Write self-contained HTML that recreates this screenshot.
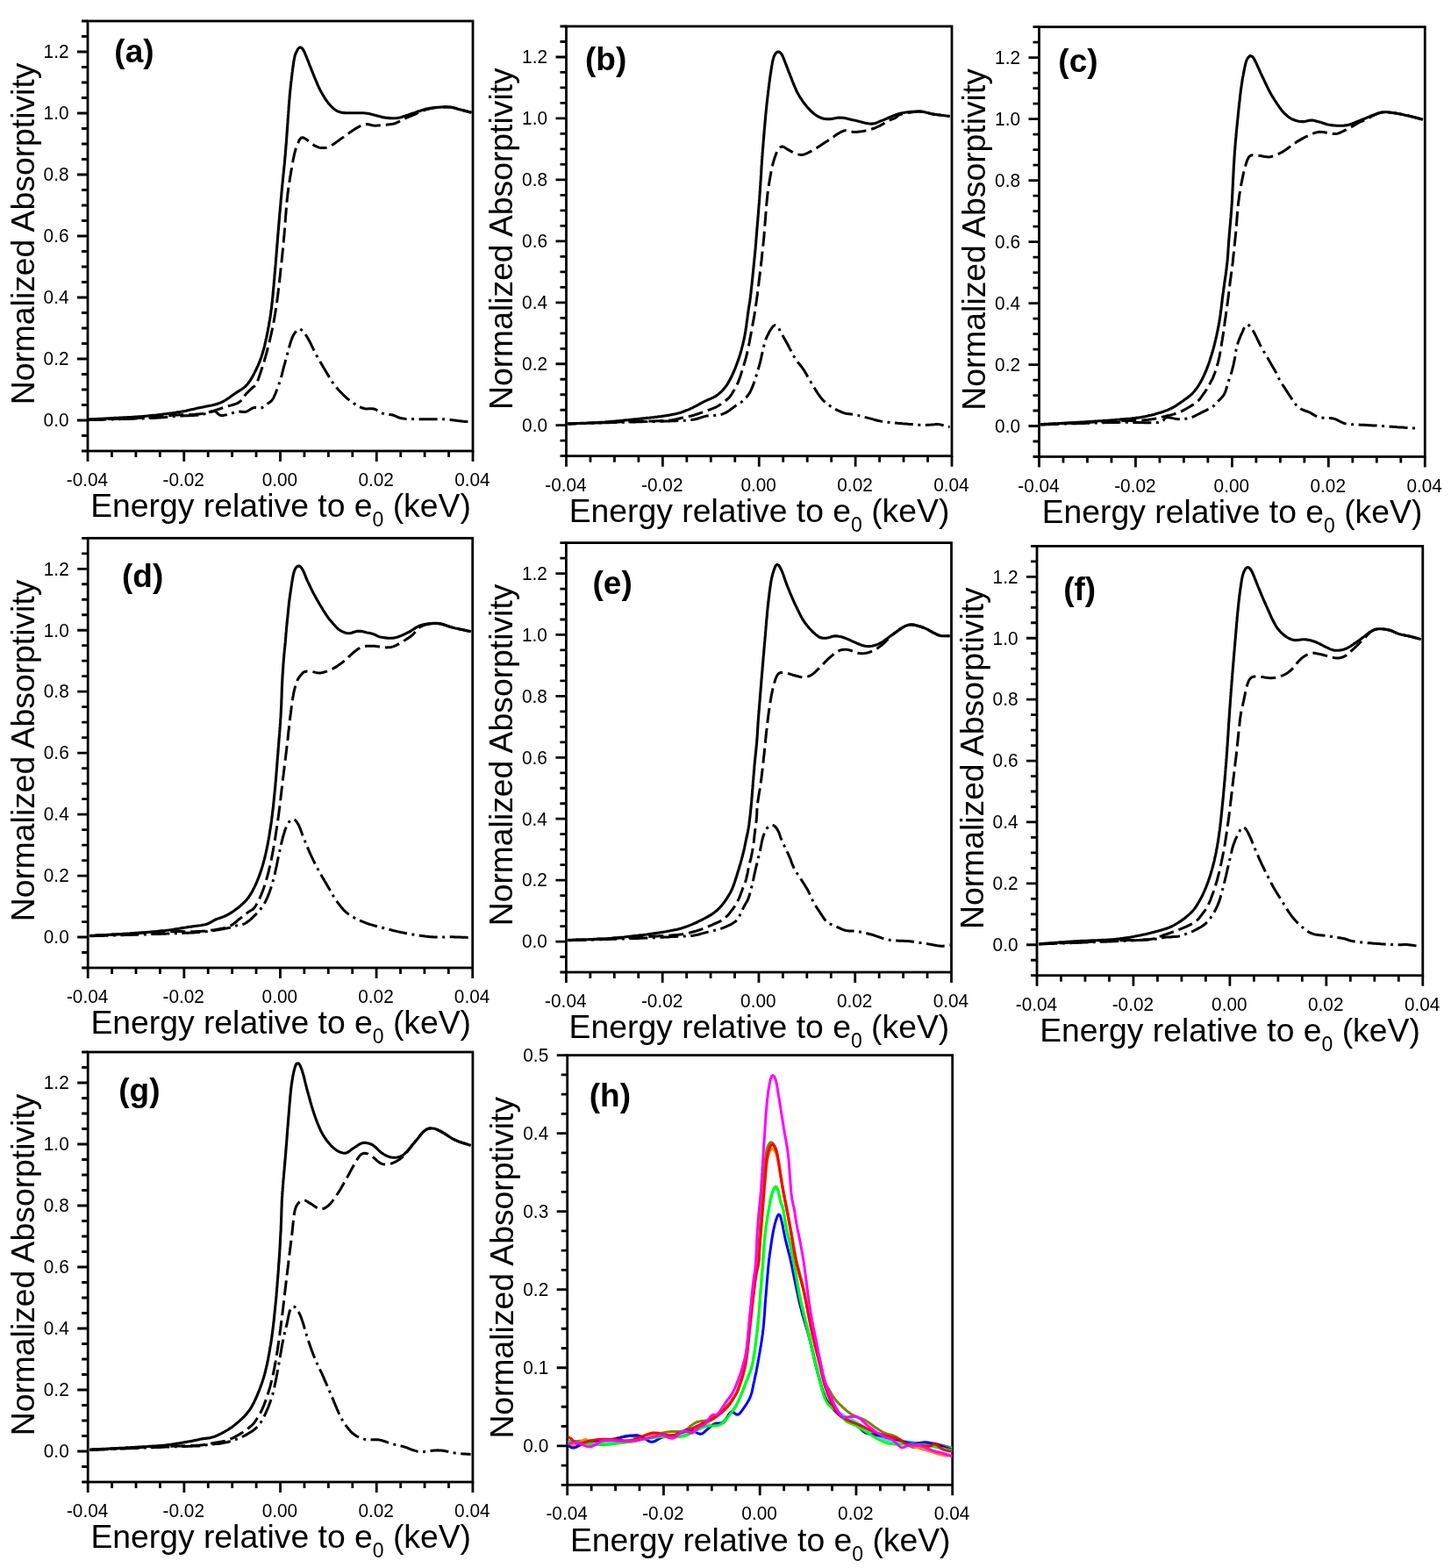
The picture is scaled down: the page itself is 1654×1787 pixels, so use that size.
<!DOCTYPE html>
<html><head><meta charset="utf-8"><title>Normalized Absorptivity</title>
<style>
html,body{margin:0;padding:0;background:#fff;}
svg{display:block;}
.t{font-family:"Liberation Sans", Arial, sans-serif;font-size:20.8px;fill:#000;}
.at{font-family:"Liberation Sans", Arial, sans-serif;font-size:37.3px;fill:#000;}
.sub{font-size:23px;}
.pl{font-family:"Liberation Sans", Arial, sans-serif;font-size:37px;font-weight:bold;fill:#000;}
</style></head><body>
<svg width="1654" height="1787" viewBox="0 0 1654 1787">
<rect width="1654" height="1787" fill="#fff"/>
<g id="pa"><rect x="100" y="24" width="439" height="490" fill="none" stroke="#000" stroke-width="2.8"/>
<path d="M100 514h-7M100 496.5h-7M100 479h-12M100 461.5h-7M100 444h-7M100 426.5h-7M100 409h-12M100 391.5h-7M100 374h-7M100 356.5h-7M100 339h-12M100 321.5h-7M100 304h-7M100 286.5h-7M100 269h-12M100 251.5h-7M100 234h-7M100 216.5h-7M100 199h-12M100 181.5h-7M100 164h-7M100 146.5h-7M100 129h-12M100 111.5h-7M100 94h-7M100 76.5h-7M100 59h-12M100 41.5h-7M100 24h-7M100 514v12M127.44 514v7M154.88 514v7M182.31 514v7M209.75 514v12M237.19 514v7M264.62 514v7M292.06 514v7M319.5 514v12M346.94 514v7M374.38 514v7M401.81 514v7M429.25 514v12M456.69 514v7M484.13 514v7M511.56 514v7M539 514v12" stroke="#000" stroke-width="2.8" fill="none"/>
<text transform="translate(78.5 486.3) scale(1 1.08)" text-anchor="end" class="t">0.0</text>
<text transform="translate(78.5 416.3) scale(1 1.08)" text-anchor="end" class="t">0.2</text>
<text transform="translate(78.5 346.3) scale(1 1.08)" text-anchor="end" class="t">0.4</text>
<text transform="translate(78.5 276.3) scale(1 1.08)" text-anchor="end" class="t">0.6</text>
<text transform="translate(78.5 206.3) scale(1 1.08)" text-anchor="end" class="t">0.8</text>
<text transform="translate(78.5 136.3) scale(1 1.08)" text-anchor="end" class="t">1.0</text>
<text transform="translate(78.5 66.3) scale(1 1.08)" text-anchor="end" class="t">1.2</text>
<text transform="translate(99.4 554.1) scale(1 1.07)" text-anchor="middle" class="t">-0.04</text>
<text transform="translate(209.15 554.1) scale(1 1.07)" text-anchor="middle" class="t">-0.02</text>
<text transform="translate(318.9 554.1) scale(1 1.07)" text-anchor="middle" class="t">0.00</text>
<text transform="translate(428.65 554.1) scale(1 1.07)" text-anchor="middle" class="t">0.02</text>
<text transform="translate(538.4 554.1) scale(1 1.07)" text-anchor="middle" class="t">0.04</text>
<text x="103.2" y="589.3" class="at">Energy relative to e<tspan class="sub" dy="11">0</tspan><tspan dy="-11"> (keV)</tspan></text>
<text transform="translate(38.6 461.3) rotate(-90)" class="at">Normalized Absorptivity</text>
<text x="130.35" y="71.4" class="pl">(a)</text>
<path d="M100.4 478.7 102.4 478.6 104.4 478.6 106.4 478.5 108.4 478.5 110.4 478.4 112.4 478.3 114.4 478.3 116.4 478.2 118.4 478.2 120.4 478.1 122.4 478.1 124.4 478.0 126.4 477.9 128.4 477.9 130.4 477.8 132.4 477.8 134.4 477.7 136.4 477.7 138.4 477.6 140.4 477.6 142.4 477.5 144.4 477.4 146.4 477.4 148.4 477.3 150.4 477.3 152.4 477.2 154.4 477.1 156.4 477.1 158.4 477.0 160.4 477.0 162.4 476.9 164.4 476.8 166.4 476.7 168.4 476.7 170.4 476.6 172.4 476.5 174.4 476.4 176.4 476.3 178.4 476.2 180.4 476.1 182.4 476.0 184.4 475.8 186.4 475.7 188.4 475.5 190.4 475.3 192.4 475.1 194.4 474.9 196.4 474.7 198.4 474.5 200.4 474.4 202.4 474.3 204.4 474.1 206.4 474.0 208.4 473.9 210.4 473.8 212.4 473.8 214.4 473.7 216.4 473.6 218.4 473.5 220.4 473.4 222.4 473.3 224.4 473.2 226.4 473.0 228.4 472.8 230.3 472.5 232.3 472.1 234.2 471.4 236.1 470.8 238.0 470.2 239.9 469.5 241.8 468.9 243.8 468.6 245.7 468.9 247.2 470.2 248.6 471.7 250.1 472.9 252.0 473.5 254.0 473.5 256.0 473.1 258.0 472.7 259.9 472.2 261.8 471.6 263.7 471.1 265.7 470.5 267.6 470.0 269.5 469.5 271.5 469.2 273.5 469.1 275.5 469.3 277.5 469.6 279.5 469.5 281.4 468.9 283.1 468.0 284.8 466.9 286.5 465.8 288.3 464.9 290.2 464.4 292.2 464.5 294.2 464.9 296.2 465.2 298.1 464.9 299.9 463.9 301.5 462.8 303.1 461.6 304.7 460.3 306.4 459.2 308.0 458.1 309.5 456.8 310.7 455.2 311.8 453.5 312.6 451.7 313.4 449.9 314.2 448.0 314.9 446.1 315.6 444.3 316.3 442.4 317.0 440.5 317.7 438.6 318.3 436.7 319.0 434.8 319.6 432.9 320.2 431.0 320.7 429.1 321.3 427.1 321.8 425.2 322.2 423.3 322.7 421.3 323.2 419.4 323.7 417.4 324.3 415.5 324.8 413.6 325.3 411.6 325.8 409.7 326.4 407.8 326.9 405.8 327.4 403.9 327.9 402.0 328.4 400.0 329.0 398.1 329.5 396.2 330.1 394.3 330.6 392.3 331.2 390.4 331.8 388.5 332.5 386.6 333.2 384.7 334.0 382.9 334.9 381.2 336.1 379.5 337.3 377.9 338.5 376.3 340.0 375.1 342.0 375.0 343.7 376.0 345.1 377.4 346.4 378.9 347.6 380.5 348.8 382.1 349.9 383.8 350.9 385.5 351.9 387.3 352.9 389.0 353.8 390.8 354.7 392.6 355.5 394.4 356.4 396.2 357.2 398.0 358.1 399.8 359.0 401.6 359.9 403.4 360.9 405.2 361.9 406.9 362.8 408.7 363.8 410.4 364.8 412.1 365.9 413.9 366.9 415.6 367.9 417.3 368.9 419.0 370.0 420.7 371.0 422.5 372.0 424.2 373.0 425.9 374.0 427.6 375.1 429.4 376.1 431.1 377.1 432.8 378.2 434.5 379.3 436.2 380.4 437.8 381.6 439.4 382.9 440.9 384.2 442.5 385.5 444.0 386.9 445.5 388.3 446.9 389.7 448.3 391.1 449.7 392.5 451.1 394.0 452.5 395.5 453.8 397.0 455.1 398.6 456.3 400.2 457.6 401.8 458.7 403.5 459.9 405.2 460.9 406.9 462.0 408.6 462.9 410.4 463.8 412.2 464.7 414.1 465.3 416.1 465.7 418.1 465.9 420.1 465.8 422.1 465.7 424.1 465.7 426.1 466.0 428.0 466.7 429.8 467.5 431.5 468.5 433.2 469.6 435.0 470.5 436.8 471.3 438.7 471.9 440.7 472.2 442.7 472.4 444.7 472.6 446.7 472.8 448.6 473.3 450.5 474.0 452.3 474.8 454.1 475.7 456.0 476.3 458.0 476.8 460.0 477.1 461.9 477.3 463.9 477.4 465.9 477.5 467.9 477.6 469.9 477.6 471.9 477.7 474.0 477.7 476.0 477.7 478.0 477.7 480.0 477.7 482.0 477.8 484.0 477.8 486.0 477.8 488.0 477.8 490.0 477.8 492.0 477.8 494.0 477.8 496.0 477.8 498.0 477.7 500.0 477.7 502.0 477.7 504.0 477.7 506.0 477.7 508.0 477.8 510.0 477.9 512.0 478.1 514.0 478.4 515.9 478.7 517.9 479.0 519.9 479.3 521.9 479.6 523.9 479.8 525.9 480.0 527.9 480.2 529.9 480.4 531.9 480.6 533.8 480.8 535.8 481.0" fill="none" stroke="#000" stroke-width="3.0" stroke-dasharray="21 5.5 3 5.5" stroke-linejoin="round"/>
<path d="M100.4 478.5 102.4 478.4 104.4 478.3 106.4 478.3 108.4 478.2 110.4 478.1 112.4 478.0 114.4 478.0 116.4 477.9 118.4 477.8 120.4 477.8 122.4 477.7 124.4 477.6 126.4 477.6 128.4 477.5 130.4 477.4 132.4 477.4 134.4 477.3 136.4 477.2 138.4 477.1 140.4 477.1 142.4 477.0 144.4 476.9 146.4 476.8 148.4 476.8 150.4 476.7 152.4 476.6 154.4 476.5 156.4 476.4 158.4 476.3 160.4 476.2 162.4 476.1 164.3 476.0 166.3 475.9 168.3 475.8 170.3 475.7 172.3 475.5 174.3 475.4 176.3 475.2 178.3 475.1 180.3 474.9 182.3 474.7 184.3 474.5 186.3 474.3 188.3 474.1 190.3 473.9 192.3 473.7 194.3 473.5 196.2 473.3 198.2 473.2 200.2 473.0 202.2 472.9 204.2 472.7 206.2 472.7 208.2 472.6 210.2 472.6 212.2 472.5 214.2 472.5 216.2 472.5 218.2 472.4 220.2 472.4 222.2 472.3 224.2 472.1 226.2 472.0 228.2 471.7 230.2 471.5 232.2 471.1 234.1 470.7 236.1 470.2 238.0 469.8 239.9 469.2 241.9 468.7 243.8 468.1 245.7 467.5 247.6 466.9 249.5 466.3 251.4 465.6 253.3 465.0 255.2 464.4 257.1 463.8 259.0 463.2 260.9 462.6 262.8 462.1 264.8 461.5 266.7 461.0 268.6 460.3 270.5 459.6 272.2 458.6 273.8 457.5 275.3 456.1 276.5 454.5 277.6 452.8 278.7 451.2 280.0 449.6 281.3 448.1 282.7 446.7 284.1 445.3 285.6 443.9 287.0 442.5 288.5 441.2 290.2 440.1 291.6 438.8 292.5 437.0 293.3 435.1 294.0 433.3 294.7 431.4 295.3 429.5 296.0 427.6 296.6 425.7 297.3 423.8 297.9 421.9 298.5 420.0 299.1 418.1 299.7 416.2 300.3 414.3 300.9 412.4 301.5 410.4 302.0 408.5 302.6 406.6 303.1 404.7 303.7 402.7 304.2 400.8 304.7 398.9 305.2 396.9 305.7 395.0 306.2 393.1 306.7 391.1 307.2 389.2 307.6 387.2 308.1 385.3 308.5 383.3 309.0 381.4 309.4 379.4 309.8 377.5 310.3 375.5 310.7 373.6 311.1 371.6 311.4 369.6 311.8 367.7 312.2 365.7 312.5 363.7 312.9 361.8 313.2 359.8 313.6 357.8 313.9 355.8 314.2 353.9 314.5 351.9 314.8 349.9 315.1 347.9 315.4 346.0 315.7 344.0 315.9 342.0 316.2 340.0 316.5 338.0 316.7 336.0 317.0 334.1 317.2 332.1 317.4 330.1 317.7 328.1 317.9 326.1 318.1 324.1 318.4 322.1 318.6 320.1 318.8 318.2 319.0 316.2 319.3 314.2 319.5 312.2 319.7 310.2 319.9 308.2 320.1 306.2 320.3 304.2 320.6 302.2 320.8 300.3 321.0 298.3 321.2 296.3 321.4 294.3 321.6 292.3 321.8 290.3 322.0 288.3 322.2 286.3 322.4 284.3 322.6 282.3 322.8 280.3 323.0 278.4 323.2 276.4 323.3 274.4 323.5 272.4 323.7 270.4 323.9 268.4 324.1 266.4 324.2 264.4 324.4 262.4 324.6 260.4 324.7 258.4 324.9 256.4 325.0 254.4 325.2 252.4 325.3 250.4 325.5 248.4 325.6 246.4 325.8 244.5 326.0 242.5 326.1 240.5 326.3 238.5 326.4 236.5 326.6 234.5 326.8 232.5 327.0 230.5 327.1 228.5 327.3 226.5 327.6 224.5 327.8 222.5 328.0 220.5 328.3 218.6 328.5 216.6 328.8 214.6 329.1 212.6 329.4 210.6 329.7 208.7 330.0 206.7 330.3 204.7 330.6 202.7 330.9 200.7 331.3 198.8 331.6 196.8 331.9 194.8 332.3 192.9 332.6 190.9 333.0 188.9 333.3 186.9 333.7 185.0 334.0 183.0 334.4 181.0 334.8 179.1 335.2 177.1 335.7 175.2 336.1 173.2 336.7 171.3 337.2 169.4 337.9 167.5 338.6 165.6 339.3 163.8 340.2 161.9 341.0 160.1 342.0 158.4 343.3 156.9 345.2 156.7 347.0 157.5 348.7 158.6 350.3 159.7 351.9 161.0 353.5 162.2 355.1 163.4 356.7 164.6 358.3 165.8 360.1 166.7 361.9 167.5 363.8 168.1 365.8 168.5 367.8 168.6 369.8 168.5 371.8 168.2 373.7 167.7 375.5 167.0 377.3 166.1 379.0 165.0 380.7 163.9 382.4 162.8 384.0 161.6 385.6 160.4 387.2 159.3 388.8 158.1 390.5 157.0 392.1 155.8 393.8 154.7 395.4 153.5 397.0 152.3 398.6 151.1 400.3 150.0 401.9 148.8 403.6 147.7 405.2 146.6 407.0 145.6 408.7 144.7 410.5 143.7 412.3 142.9 414.2 142.2 416.1 141.8 418.1 141.6 420.1 141.8 422.1 142.3 424.0 142.8 426.0 143.1 428.0 143.2 430.0 143.1 432.0 142.9 434.0 142.7 435.9 142.5 437.9 142.3 439.9 142.2 441.9 142.0 443.9 141.8 445.9 141.6 447.9 141.3 449.8 140.8 451.7 140.1 453.5 139.2 455.3 138.3 457.0 137.3 458.8 136.3 460.6 135.4 462.4 134.6 464.2 133.8 466.1 133.0 467.9 132.3 469.8 131.6 471.6 130.8 473.5 130.0 475.3 129.2 477.1 128.4 478.9 127.6 480.8 126.8 482.6 126.0 484.5 125.4 486.4 124.7 488.4 124.2 490.3 123.8 492.3 123.4 494.2 123.1 496.2 122.8 498.2 122.6 500.2 122.4 502.2 122.2 504.2 122.1 506.2 122.0 508.2 122.0 510.2 122.0 512.2 122.1 514.2 122.3 516.2 122.6 518.1 123.1 520.0 123.6 522.0 124.2 523.9 124.7 525.8 125.2 527.8 125.7 529.7 126.2 531.6 126.7 533.6 127.2 535.5 127.7 537.4 128.2" fill="none" stroke="#000" stroke-width="3.0" stroke-dasharray="17 6" stroke-linejoin="round"/>
<path d="M100.4 478.0 102.4 477.9 104.4 477.8 106.4 477.7 108.4 477.6 110.4 477.5 112.4 477.4 114.4 477.3 116.4 477.2 118.4 477.1 120.4 477.0 122.4 476.9 124.4 476.8 126.4 476.6 128.4 476.5 130.4 476.4 132.4 476.3 134.4 476.2 136.4 476.1 138.4 476.0 140.4 475.9 142.4 475.8 144.4 475.7 146.4 475.6 148.4 475.5 150.3 475.4 152.3 475.2 154.3 475.1 156.3 475.0 158.3 474.8 160.3 474.7 162.3 474.5 164.3 474.4 166.3 474.2 168.3 474.0 170.3 473.8 172.3 473.6 174.3 473.4 176.3 473.2 178.3 473.0 180.3 472.7 182.3 472.5 184.2 472.3 186.2 472.0 188.2 471.8 190.2 471.6 192.2 471.3 194.2 471.0 196.2 470.8 198.1 470.5 200.1 470.2 202.1 469.9 204.1 469.6 206.1 469.3 208.0 468.9 210.0 468.6 212.0 468.2 213.9 467.7 215.9 467.3 217.8 466.8 219.8 466.4 221.7 466.0 223.7 465.5 225.6 465.1 227.6 464.7 229.6 464.3 231.5 463.9 233.5 463.5 235.5 463.1 237.4 462.7 239.4 462.3 241.3 461.9 243.3 461.4 245.2 460.9 247.1 460.4 249.0 459.8 250.9 459.1 252.8 458.3 254.6 457.4 256.3 456.5 258.1 455.4 259.7 454.3 261.4 453.2 263.0 452.0 264.6 450.8 266.2 449.7 267.9 448.5 269.5 447.4 271.2 446.3 272.9 445.3 274.6 444.2 276.3 443.1 277.9 441.9 279.4 440.6 280.8 439.2 282.2 437.7 283.5 436.1 284.6 434.5 285.7 432.8 286.7 431.1 287.7 429.4 288.7 427.6 289.6 425.9 290.5 424.1 291.4 422.3 292.3 420.5 293.1 418.7 294.0 416.8 294.8 415.0 295.5 413.2 296.3 411.3 297.0 409.4 297.7 407.5 298.3 405.6 298.9 403.7 299.5 401.8 300.0 399.9 300.6 398.0 301.1 396.0 301.6 394.1 302.0 392.1 302.5 390.2 302.9 388.2 303.3 386.3 303.8 384.3 304.2 382.4 304.6 380.4 305.0 378.4 305.4 376.5 305.7 374.5 306.1 372.5 306.5 370.6 306.8 368.6 307.1 366.6 307.5 364.6 307.8 362.7 308.1 360.7 308.4 358.7 308.7 356.7 308.9 354.7 309.2 352.8 309.5 350.8 309.7 348.8 309.9 346.8 310.2 344.8 310.4 342.8 310.6 340.8 310.8 338.8 311.0 336.8 311.2 334.8 311.3 332.9 311.5 330.9 311.7 328.9 311.9 326.9 312.1 324.9 312.2 322.9 312.4 320.9 312.6 318.9 312.8 316.9 312.9 314.9 313.1 312.9 313.3 310.9 313.5 308.9 313.6 306.9 313.8 304.9 314.0 302.9 314.2 300.9 314.3 298.9 314.5 296.9 314.6 295.0 314.8 293.0 315.0 291.0 315.1 289.0 315.3 287.0 315.4 285.0 315.6 283.0 315.8 281.0 315.9 279.0 316.1 277.0 316.3 275.0 316.4 273.0 316.6 271.0 316.7 269.0 316.9 267.0 317.1 265.0 317.2 263.0 317.4 261.0 317.6 259.0 317.7 257.0 317.9 255.0 318.1 253.0 318.2 251.1 318.4 249.1 318.6 247.1 318.7 245.1 318.9 243.1 319.1 241.1 319.3 239.1 319.4 237.1 319.6 235.1 319.8 233.1 320.0 231.1 320.1 229.1 320.3 227.1 320.5 225.1 320.7 223.1 320.9 221.1 321.0 219.1 321.2 217.1 321.4 215.2 321.6 213.2 321.8 211.2 322.0 209.2 322.2 207.2 322.4 205.2 322.6 203.2 322.8 201.2 323.0 199.2 323.2 197.2 323.4 195.2 323.6 193.2 323.8 191.2 324.0 189.2 324.2 187.3 324.4 185.3 324.6 183.3 324.7 181.3 324.9 179.3 325.1 177.3 325.3 175.3 325.4 173.3 325.6 171.3 325.8 169.3 325.9 167.3 326.1 165.3 326.3 163.3 326.4 161.3 326.6 159.3 326.7 157.3 326.8 155.3 327.0 153.3 327.1 151.3 327.3 149.3 327.4 147.3 327.5 145.3 327.7 143.3 327.8 141.4 328.0 139.4 328.1 137.4 328.2 135.4 328.4 133.4 328.5 131.4 328.7 129.4 328.8 127.4 329.0 125.4 329.1 123.4 329.2 121.4 329.4 119.4 329.6 117.4 329.7 115.4 329.9 113.4 330.1 111.4 330.2 109.4 330.4 107.4 330.6 105.4 330.8 103.4 331.0 101.4 331.2 99.4 331.4 97.4 331.6 95.5 331.8 93.5 332.1 91.5 332.3 89.5 332.5 87.5 332.8 85.5 333.0 83.5 333.3 81.5 333.5 79.6 333.8 77.6 334.1 75.6 334.3 73.6 334.6 71.6 334.9 69.6 335.3 67.7 335.7 65.7 336.1 63.8 336.7 61.8 337.5 60.0 338.4 58.2 339.3 56.4 340.5 54.8 342.2 53.9 344.0 54.7 345.3 56.2 346.3 57.9 347.2 59.7 347.9 61.6 348.7 63.4 349.5 65.3 350.2 67.1 351.0 69.0 351.7 70.8 352.4 72.7 353.1 74.6 353.9 76.4 354.6 78.3 355.3 80.2 356.1 82.0 356.8 83.9 357.6 85.7 358.3 87.6 359.1 89.4 359.9 91.3 360.7 93.1 361.4 95.0 362.2 96.8 363.0 98.6 363.9 100.5 364.8 102.3 365.7 104.0 366.7 105.8 367.7 107.5 368.7 109.2 369.7 110.9 370.8 112.6 371.9 114.3 373.1 115.9 374.3 117.5 375.6 119.1 376.9 120.6 378.3 122.0 379.8 123.3 381.3 124.6 383.0 125.8 384.7 126.7 386.6 127.4 388.5 128.0 390.5 128.4 392.5 128.6 394.5 128.8 396.5 128.8 398.5 128.8 400.5 128.8 402.5 128.8 404.5 128.8 406.5 128.7 408.5 128.7 410.5 128.7 412.5 128.7 414.5 128.8 416.5 129.0 418.5 129.2 420.4 129.6 422.4 130.0 424.3 130.5 426.3 131.0 428.2 131.5 430.1 132.1 432.1 132.6 434.0 133.1 436.0 133.6 437.9 133.9 439.9 134.2 441.9 134.4 443.9 134.6 445.9 134.8 447.9 134.8 449.9 134.7 451.9 134.6 453.9 134.3 455.8 133.9 457.8 133.4 459.7 132.8 461.6 132.2 463.5 131.5 465.4 130.9 467.3 130.2 469.2 129.6 471.1 129.0 473.0 128.4 474.8 127.7 476.7 127.0 478.6 126.4 480.5 125.8 482.4 125.2 484.4 124.6 486.3 124.1 488.3 123.7 490.2 123.3 492.2 123.0 494.2 122.7 496.2 122.5 498.2 122.3 500.2 122.2 502.2 122.1 504.2 122.0 506.2 121.9 508.2 121.9 510.2 122.0 512.2 122.1 514.2 122.3 516.1 122.6 518.1 123.1 520.0 123.6 521.9 124.2 523.9 124.7 525.8 125.2 527.8 125.7 529.7 126.2 531.6 126.7 533.6 127.2 535.5 127.7 537.4 128.2" fill="none" stroke="#000" stroke-width="3.1" stroke-linejoin="round"/></g>
<g id="pb"><rect x="645.5" y="30" width="439.5" height="489.7" fill="none" stroke="#000" stroke-width="2.8"/>
<path d="M645.5 519.7h-7M645.5 502.21h-7M645.5 484.72h-12M645.5 467.23h-7M645.5 449.74h-7M645.5 432.25h-7M645.5 414.76h-12M645.5 397.28h-7M645.5 379.79h-7M645.5 362.3h-7M645.5 344.81h-12M645.5 327.32h-7M645.5 309.83h-7M645.5 292.34h-7M645.5 274.85h-12M645.5 257.36h-7M645.5 239.87h-7M645.5 222.38h-7M645.5 204.89h-12M645.5 187.4h-7M645.5 169.91h-7M645.5 152.43h-7M645.5 134.94h-12M645.5 117.45h-7M645.5 99.96h-7M645.5 82.47h-7M645.5 64.98h-12M645.5 47.49h-7M645.5 30h-7M645.5 519.7v12M672.97 519.7v7M700.44 519.7v7M727.91 519.7v7M755.38 519.7v12M782.84 519.7v7M810.31 519.7v7M837.78 519.7v7M865.25 519.7v12M892.72 519.7v7M920.19 519.7v7M947.66 519.7v7M975.12 519.7v12M1002.59 519.7v7M1030.06 519.7v7M1057.53 519.7v7M1085 519.7v12" stroke="#000" stroke-width="2.8" fill="none"/>
<text transform="translate(624 492.02) scale(1 1.08)" text-anchor="end" class="t">0.0</text>
<text transform="translate(624 422.06) scale(1 1.08)" text-anchor="end" class="t">0.2</text>
<text transform="translate(624 352.11) scale(1 1.08)" text-anchor="end" class="t">0.4</text>
<text transform="translate(624 282.15) scale(1 1.08)" text-anchor="end" class="t">0.6</text>
<text transform="translate(624 212.19) scale(1 1.08)" text-anchor="end" class="t">0.8</text>
<text transform="translate(624 142.24) scale(1 1.08)" text-anchor="end" class="t">1.0</text>
<text transform="translate(624 72.28) scale(1 1.08)" text-anchor="end" class="t">1.2</text>
<text transform="translate(644.9 559.8) scale(1 1.07)" text-anchor="middle" class="t">-0.04</text>
<text transform="translate(754.77 559.8) scale(1 1.07)" text-anchor="middle" class="t">-0.02</text>
<text transform="translate(864.65 559.8) scale(1 1.07)" text-anchor="middle" class="t">0.00</text>
<text transform="translate(974.52 559.8) scale(1 1.07)" text-anchor="middle" class="t">0.02</text>
<text transform="translate(1084.4 559.8) scale(1 1.07)" text-anchor="middle" class="t">0.04</text>
<text x="648.7" y="595" class="at">Energy relative to e<tspan class="sub" dy="11">0</tspan><tspan dy="-11"> (keV)</tspan></text>
<text transform="translate(584.1 467) rotate(-90)" class="at">Normalized Absorptivity</text>
<text x="667.05" y="80.1" class="pl">(b)</text>
<path d="M647.4 483.0 649.4 482.9 651.4 482.9 653.4 482.8 655.4 482.8 657.4 482.7 659.4 482.6 661.4 482.6 663.4 482.5 665.4 482.5 667.4 482.4 669.4 482.4 671.4 482.3 673.4 482.2 675.4 482.2 677.4 482.1 679.4 482.1 681.4 482.0 683.4 482.0 685.4 481.9 687.4 481.8 689.4 481.8 691.5 481.7 693.5 481.7 695.5 481.6 697.5 481.6 699.5 481.5 701.5 481.4 703.5 481.4 705.5 481.3 707.5 481.3 709.5 481.2 711.5 481.2 713.5 481.1 715.5 481.1 717.5 481.0 719.5 480.9 721.5 480.9 723.5 480.9 725.5 480.8 727.5 480.8 729.5 480.7 731.5 480.7 733.5 480.6 735.5 480.6 737.5 480.6 739.6 480.5 741.6 480.5 743.6 480.4 745.6 480.4 747.6 480.4 749.6 480.3 751.6 480.3 753.6 480.2 755.6 480.2 757.6 480.1 759.6 480.0 761.6 480.0 763.6 479.9 765.6 479.8 767.6 479.8 769.6 479.7 771.6 479.6 773.6 479.6 775.6 479.5 777.6 479.4 779.6 479.3 781.6 479.2 783.6 479.0 785.6 478.8 787.6 478.6 789.6 478.3 791.6 478.0 793.5 477.5 795.5 477.0 797.4 476.4 799.3 475.8 801.2 475.1 803.1 474.6 805.1 474.1 807.0 473.9 809.0 473.7 811.0 473.6 813.1 473.6 815.1 473.4 817.0 473.2 819.0 473.0 821.0 472.6 823.0 472.1 824.8 471.4 826.6 470.6 828.4 469.6 830.1 468.6 831.8 467.5 833.4 466.3 835.0 465.1 836.6 463.9 838.2 462.7 839.8 461.5 841.5 460.4 843.3 459.4 845.0 458.3 846.6 457.1 848.0 455.8 849.4 454.3 850.7 452.8 852.0 451.3 853.2 449.6 854.3 448.0 855.3 446.2 856.2 444.4 857.0 442.6 857.8 440.7 858.5 438.9 859.2 437.0 859.9 435.1 860.5 433.2 861.1 431.3 861.7 429.4 862.3 427.5 862.9 425.6 863.5 423.6 864.0 421.7 864.6 419.8 865.1 417.9 865.7 415.9 866.2 414.0 866.7 412.1 867.1 410.1 867.6 408.1 868.0 406.2 868.5 404.2 868.9 402.3 869.3 400.3 869.8 398.4 870.2 396.4 870.7 394.5 871.2 392.5 871.7 390.6 872.3 388.7 872.9 386.8 873.7 384.9 874.5 383.1 875.4 381.3 876.3 379.5 877.2 377.7 878.3 376.0 879.4 374.3 880.6 372.7 881.9 371.3 883.7 370.5 885.5 371.3 886.8 372.8 887.9 374.5 888.8 376.3 889.7 378.1 890.6 379.8 891.6 381.6 892.6 383.3 893.6 385.1 894.6 386.8 895.6 388.5 896.6 390.3 897.5 392.0 898.5 393.8 899.4 395.6 900.3 397.4 901.3 399.1 902.2 400.9 903.1 402.7 904.1 404.4 905.1 406.2 906.1 407.9 907.2 409.6 908.3 411.3 909.5 412.9 910.8 414.4 912.1 416.0 913.3 417.5 914.5 419.1 915.7 420.8 916.8 422.4 917.8 424.2 918.9 425.9 919.8 427.6 920.8 429.4 921.8 431.1 922.8 432.9 923.8 434.6 924.8 436.4 925.8 438.1 926.8 439.8 927.9 441.5 929.0 443.2 930.0 444.9 931.1 446.6 932.2 448.3 933.3 449.9 934.5 451.5 935.7 453.1 937.0 454.7 938.3 456.2 939.7 457.6 941.2 458.9 942.8 460.2 944.4 461.4 946.0 462.5 947.7 463.6 949.4 464.7 951.2 465.7 952.9 466.7 954.7 467.6 956.5 468.4 958.3 469.2 960.2 470.0 962.1 470.6 964.0 471.2 966.0 471.6 968.0 471.8 970.0 472.0 972.0 472.2 974.0 472.6 975.9 473.0 977.9 473.4 979.8 473.9 981.8 474.4 983.7 474.9 985.6 475.4 987.6 475.9 989.5 476.4 991.5 476.9 993.4 477.4 995.3 477.9 997.3 478.5 999.2 479.0 1001.1 479.5 1003.1 479.9 1005.1 480.3 1007.1 480.6 1009.0 480.9 1011.0 481.1 1013.0 481.3 1015.0 481.5 1017.0 481.7 1019.0 481.9 1021.0 482.1 1023.0 482.3 1025.0 482.4 1027.0 482.6 1029.0 482.8 1031.0 482.9 1033.0 483.1 1035.0 483.3 1037.0 483.4 1039.0 483.6 1041.0 483.8 1043.0 483.9 1045.0 484.0 1047.0 484.2 1049.0 484.3 1051.0 484.3 1053.0 484.4 1055.0 484.4 1057.0 484.3 1059.0 484.2 1061.0 484.1 1063.0 483.9 1065.0 483.8 1067.0 483.6 1069.0 483.6 1071.0 483.7 1073.0 484.1 1074.9 484.7 1076.7 485.5 1078.7 486.1 1080.6 486.3 1082.6 486.5" fill="none" stroke="#000" stroke-width="3.0" stroke-dasharray="21 5.5 3 5.5" stroke-linejoin="round"/>
<path d="M647.4 483.0 649.4 482.9 651.4 482.8 653.4 482.8 655.4 482.7 657.4 482.6 659.4 482.6 661.4 482.5 663.4 482.4 665.4 482.3 667.4 482.3 669.4 482.2 671.4 482.1 673.4 482.1 675.4 482.0 677.4 481.9 679.4 481.8 681.4 481.8 683.4 481.7 685.4 481.6 687.4 481.6 689.4 481.5 691.4 481.4 693.4 481.3 695.4 481.3 697.4 481.2 699.4 481.1 701.4 481.1 703.4 481.0 705.4 480.9 707.4 480.8 709.4 480.8 711.4 480.7 713.4 480.6 715.4 480.6 717.4 480.5 719.4 480.4 721.4 480.4 723.4 480.3 725.4 480.3 727.4 480.2 729.4 480.2 731.4 480.1 733.4 480.1 735.4 480.1 737.4 480.0 739.4 480.0 741.4 479.9 743.4 479.9 745.4 479.9 747.4 479.8 749.4 479.8 751.4 479.7 753.4 479.6 755.4 479.5 757.4 479.4 759.4 479.3 761.4 479.2 763.4 479.0 765.4 478.8 767.4 478.5 769.3 478.1 771.3 477.8 773.3 477.3 775.2 476.8 777.1 476.3 779.1 475.8 781.0 475.4 783.0 475.0 785.0 474.6 786.9 474.2 788.9 473.7 790.8 473.2 792.7 472.6 794.6 472.0 796.5 471.3 798.4 470.6 800.3 470.0 802.1 469.3 804.0 468.6 805.9 467.9 807.8 467.3 809.7 466.6 811.6 465.9 813.4 465.2 815.3 464.4 817.1 463.5 818.8 462.5 820.5 461.4 822.1 460.3 823.7 459.1 825.3 457.9 826.9 456.7 828.5 455.5 830.0 454.2 831.4 452.7 832.7 451.1 833.8 449.5 834.9 447.8 835.9 446.1 836.9 444.4 837.9 442.6 838.9 440.9 839.8 439.1 840.6 437.3 841.5 435.5 842.2 433.6 842.9 431.7 843.6 429.8 844.2 427.9 844.8 426.0 845.4 424.1 846.0 422.2 846.6 420.3 847.2 418.4 847.8 416.5 848.3 414.5 848.9 412.6 849.5 410.7 850.0 408.8 850.6 406.9 851.0 404.9 851.5 403.0 851.9 401.0 852.4 399.1 852.8 397.1 853.2 395.1 853.6 393.2 854.0 391.2 854.4 389.2 854.7 387.3 855.1 385.3 855.5 383.3 855.9 381.4 856.2 379.4 856.6 377.4 857.0 375.5 857.3 373.5 857.7 371.5 858.0 369.6 858.4 367.6 858.7 365.6 859.1 363.7 859.4 361.7 859.8 359.7 860.1 357.7 860.4 355.8 860.7 353.8 861.0 351.8 861.3 349.8 861.6 347.8 861.9 345.9 862.2 343.9 862.5 341.9 862.7 339.9 863.0 337.9 863.3 335.9 863.5 334.0 863.8 332.0 864.0 330.0 864.3 328.0 864.5 326.0 864.8 324.0 865.0 322.0 865.2 320.1 865.5 318.1 865.7 316.1 866.0 314.1 866.2 312.1 866.4 310.1 866.7 308.1 866.9 306.1 867.1 304.2 867.4 302.2 867.6 300.2 867.8 298.2 868.1 296.2 868.3 294.2 868.5 292.2 868.7 290.2 868.9 288.2 869.2 286.2 869.4 284.3 869.6 282.3 869.8 280.3 870.0 278.3 870.2 276.3 870.4 274.3 870.6 272.3 870.8 270.3 871.0 268.3 871.1 266.3 871.3 264.3 871.5 262.3 871.6 260.3 871.8 258.3 871.9 256.3 872.1 254.4 872.2 252.4 872.4 250.4 872.5 248.4 872.7 246.4 872.8 244.4 873.0 242.4 873.1 240.4 873.3 238.4 873.4 236.4 873.6 234.4 873.8 232.4 874.0 230.4 874.2 228.4 874.4 226.4 874.6 224.4 874.8 222.4 875.0 220.5 875.3 218.5 875.6 216.5 875.9 214.5 876.2 212.5 876.5 210.5 876.8 208.6 877.1 206.6 877.4 204.6 877.8 202.6 878.1 200.7 878.5 198.7 878.8 196.7 879.2 194.8 879.6 192.8 880.0 190.8 880.5 188.9 880.9 187.0 881.5 185.0 882.0 183.1 882.6 181.2 883.2 179.3 883.9 177.4 884.6 175.5 885.4 173.7 886.2 171.8 887.2 170.1 888.5 168.6 890.0 167.4 892.0 167.0 893.8 167.7 895.5 168.7 897.2 169.9 898.9 170.9 900.7 171.9 902.4 172.8 904.2 173.7 906.0 174.5 907.9 175.3 909.8 175.9 911.7 176.3 913.7 176.4 915.7 176.2 917.6 175.6 919.5 174.9 921.3 174.0 923.1 173.1 924.9 172.2 926.6 171.2 928.4 170.2 930.1 169.2 931.8 168.1 933.4 167.0 935.1 165.9 936.8 164.8 938.4 163.7 940.1 162.6 941.8 161.5 943.5 160.4 945.1 159.3 946.8 158.2 948.4 157.0 950.1 155.9 951.7 154.8 953.4 153.6 955.1 152.5 956.8 151.5 958.5 150.5 960.3 149.6 962.2 149.0 964.2 148.6 966.1 148.7 968.1 149.1 970.0 149.7 971.9 150.2 973.9 150.4 975.9 150.4 977.9 150.3 979.9 150.0 981.9 149.8 983.9 149.5 985.9 149.1 987.8 148.7 989.8 148.3 991.7 147.8 993.6 147.2 995.5 146.5 997.4 145.8 999.2 145.0 1001.1 144.2 1002.9 143.4 1004.6 142.4 1006.4 141.4 1008.1 140.3 1009.8 139.3 1011.5 138.3 1013.3 137.4 1015.1 136.6 1017.0 135.9 1018.9 135.2 1020.7 134.3 1022.3 133.2 1023.7 131.8 1025.5 130.8 1027.4 130.2 1029.3 129.8 1031.3 129.3 1033.2 128.9 1035.2 128.6 1037.2 128.2 1039.1 127.9 1041.1 127.6 1043.1 127.4 1045.1 127.2 1047.1 127.0 1049.1 127.0 1051.1 127.2 1053.1 127.5 1055.0 127.9 1057.0 128.4 1058.9 128.9 1060.8 129.5 1062.8 129.9 1064.8 130.2 1066.7 130.5 1068.7 130.8 1070.7 131.0 1072.7 131.3 1074.7 131.5 1076.7 131.7 1078.7 132.0 1080.7 132.2 1082.6 132.5" fill="none" stroke="#000" stroke-width="3.0" stroke-dasharray="17 6" stroke-linejoin="round"/>
<path d="M647.4 482.9 649.4 482.8 651.4 482.7 653.4 482.7 655.4 482.6 657.4 482.5 659.4 482.5 661.4 482.4 663.4 482.3 665.4 482.3 667.4 482.2 669.4 482.1 671.4 482.0 673.4 482.0 675.4 481.9 677.4 481.8 679.4 481.7 681.4 481.6 683.4 481.4 685.4 481.3 687.4 481.2 689.4 481.1 691.4 480.9 693.3 480.8 695.3 480.6 697.3 480.4 699.3 480.3 701.3 480.1 703.3 479.9 705.3 479.7 707.3 479.5 709.3 479.3 711.3 479.1 713.3 478.9 715.3 478.7 717.3 478.5 719.3 478.3 721.2 478.1 723.2 477.9 725.2 477.7 727.2 477.5 729.2 477.3 731.2 477.1 733.2 476.9 735.2 476.7 737.2 476.4 739.2 476.2 741.1 476.0 743.1 475.8 745.1 475.6 747.1 475.3 749.1 475.1 751.1 474.8 753.1 474.6 755.1 474.3 757.0 474.0 759.0 473.7 761.0 473.4 763.0 473.1 764.9 472.7 766.9 472.3 768.9 471.9 770.8 471.5 772.8 471.0 774.7 470.5 776.6 469.9 778.5 469.2 780.4 468.5 782.2 467.8 784.1 467.1 785.9 466.3 787.8 465.4 789.6 464.6 791.3 463.7 793.1 462.8 794.9 461.8 796.7 460.9 798.4 459.9 800.2 459.0 802.0 458.0 803.7 457.1 805.5 456.3 807.4 455.4 809.2 454.7 811.1 453.9 812.9 453.1 814.7 452.2 816.4 451.1 818.0 449.9 819.5 448.7 821.0 447.4 822.5 446.0 823.9 444.6 825.2 443.1 826.5 441.5 827.7 439.9 828.8 438.3 829.9 436.6 830.9 434.9 831.9 433.1 832.8 431.3 833.7 429.5 834.6 427.7 835.4 425.9 836.2 424.1 837.0 422.2 837.8 420.4 838.5 418.5 839.2 416.7 839.9 414.8 840.6 412.9 841.3 411.0 842.0 409.1 842.6 407.2 843.2 405.3 843.8 403.4 844.3 401.5 844.9 399.6 845.4 397.6 845.9 395.7 846.4 393.8 846.9 391.8 847.3 389.9 847.8 387.9 848.2 386.0 848.6 384.0 849.0 382.0 849.3 380.1 849.7 378.1 850.0 376.1 850.3 374.1 850.6 372.2 850.9 370.2 851.1 368.2 851.4 366.2 851.7 364.2 852.0 362.2 852.2 360.3 852.5 358.3 852.8 356.3 853.0 354.3 853.3 352.3 853.6 350.3 853.9 348.4 854.2 346.4 854.6 344.4 854.9 342.4 855.1 340.5 855.4 338.5 855.6 336.5 855.9 334.5 856.1 332.5 856.3 330.5 856.5 328.5 856.7 326.5 857.0 324.5 857.2 322.6 857.4 320.6 857.6 318.6 857.8 316.6 858.0 314.6 858.2 312.6 858.4 310.6 858.6 308.6 858.8 306.6 859.0 304.6 859.2 302.6 859.4 300.7 859.6 298.7 859.8 296.7 860.0 294.7 860.2 292.7 860.4 290.7 860.6 288.7 860.8 286.7 861.0 284.7 861.2 282.7 861.3 280.7 861.5 278.7 861.7 276.7 861.8 274.7 862.0 272.8 862.1 270.8 862.3 268.8 862.5 266.8 862.6 264.8 862.8 262.8 862.9 260.8 863.1 258.8 863.3 256.8 863.4 254.8 863.6 252.8 863.8 250.8 863.9 248.8 864.1 246.8 864.3 244.8 864.4 242.8 864.6 240.8 864.7 238.8 864.9 236.8 865.0 234.8 865.2 232.8 865.4 230.9 865.5 228.9 865.7 226.9 865.8 224.9 865.9 222.9 866.1 220.9 866.2 218.9 866.4 216.9 866.5 214.9 866.6 212.9 866.8 210.9 866.9 208.9 867.0 206.9 867.2 204.9 867.3 202.9 867.4 200.9 867.6 198.9 867.7 196.9 867.8 194.9 867.9 192.9 868.0 190.9 868.1 188.9 868.3 186.9 868.4 184.9 868.5 182.9 868.7 180.9 868.8 178.9 869.0 176.9 869.1 174.9 869.3 172.9 869.4 170.9 869.6 168.9 869.8 167.0 869.9 165.0 870.1 163.0 870.2 161.0 870.4 159.0 870.6 157.0 870.7 155.0 870.9 153.0 871.1 151.0 871.2 149.0 871.4 147.0 871.6 145.0 871.8 143.0 871.9 141.0 872.1 139.0 872.3 137.0 872.5 135.0 872.6 133.0 872.8 131.1 873.0 129.1 873.2 127.1 873.4 125.1 873.6 123.1 873.8 121.1 874.0 119.1 874.2 117.1 874.5 115.1 874.7 113.1 874.9 111.1 875.1 109.2 875.4 107.2 875.6 105.2 875.8 103.2 876.1 101.2 876.3 99.2 876.6 97.2 876.8 95.3 877.1 93.3 877.4 91.3 877.6 89.3 877.9 87.3 878.2 85.3 878.5 83.4 878.8 81.4 879.1 79.4 879.4 77.4 879.7 75.4 880.1 73.5 880.4 71.5 880.8 69.5 881.3 67.6 881.8 65.7 882.5 63.8 883.4 62.0 884.5 60.4 886.1 59.1 888.0 59.1 889.7 60.2 891.0 61.7 891.9 63.4 892.7 65.3 893.5 67.1 894.2 69.0 894.9 70.9 895.6 72.7 896.4 74.6 897.1 76.5 897.8 78.3 898.5 80.2 899.2 82.1 900.0 83.9 900.7 85.8 901.4 87.7 902.2 89.5 902.9 91.4 903.6 93.3 904.4 95.1 905.1 97.0 905.9 98.8 906.7 100.7 907.5 102.5 908.3 104.3 909.2 106.1 910.2 107.8 911.2 109.6 912.3 111.3 913.4 112.9 914.5 114.6 915.6 116.2 916.8 117.8 918.1 119.4 919.3 121.0 920.6 122.5 922.0 124.0 923.3 125.4 924.8 126.8 926.2 128.2 927.8 129.5 929.4 130.7 931.0 131.8 932.8 132.8 934.5 133.7 936.4 134.5 938.3 135.1 940.3 135.4 942.3 135.6 944.3 135.6 946.3 135.6 948.3 135.4 950.2 135.1 952.2 134.7 954.2 134.3 956.1 134.1 958.1 134.0 960.1 134.2 962.1 134.4 964.1 134.8 966.0 135.3 968.0 135.7 969.9 136.2 971.9 136.7 973.8 137.1 975.8 137.5 977.7 138.0 979.7 138.5 981.6 139.0 983.6 139.5 985.5 140.0 987.5 140.4 989.4 140.7 991.4 141.0 993.4 141.1 995.4 140.9 997.4 140.5 999.3 139.9 1001.1 139.1 1002.9 138.3 1004.8 137.6 1006.7 136.9 1008.5 136.1 1010.4 135.3 1012.2 134.5 1014.0 133.7 1015.9 133.0 1017.7 132.2 1019.6 131.4 1021.5 130.7 1023.4 130.1 1025.3 129.6 1027.2 129.1 1029.2 128.7 1031.2 128.3 1033.1 128.0 1035.1 127.7 1037.1 127.5 1039.1 127.3 1041.1 127.2 1043.1 127.1 1045.1 127.0 1047.1 127.0 1049.1 127.1 1051.1 127.2 1053.1 127.5 1055.0 128.0 1057.0 128.5 1058.9 129.0 1060.8 129.5 1062.8 129.9 1064.8 130.2 1066.7 130.5 1068.7 130.8 1070.7 131.0 1072.7 131.3 1074.7 131.5 1076.7 131.7 1078.7 132.0 1080.7 132.2 1082.6 132.5" fill="none" stroke="#000" stroke-width="3.1" stroke-linejoin="round"/></g>
<g id="pc"><rect x="1184.5" y="30.7" width="439.8" height="489.8" fill="none" stroke="#000" stroke-width="2.8"/>
<path d="M1184.5 520.5h-7M1184.5 503.01h-7M1184.5 485.51h-12M1184.5 468.02h-7M1184.5 450.53h-7M1184.5 433.04h-7M1184.5 415.54h-12M1184.5 398.05h-7M1184.5 380.56h-7M1184.5 363.06h-7M1184.5 345.57h-12M1184.5 328.08h-7M1184.5 310.59h-7M1184.5 293.09h-7M1184.5 275.6h-12M1184.5 258.11h-7M1184.5 240.61h-7M1184.5 223.12h-7M1184.5 205.63h-12M1184.5 188.14h-7M1184.5 170.64h-7M1184.5 153.15h-7M1184.5 135.66h-12M1184.5 118.16h-7M1184.5 100.67h-7M1184.5 83.18h-7M1184.5 65.69h-12M1184.5 48.19h-7M1184.5 30.7h-7M1184.5 520.5v12M1211.99 520.5v7M1239.47 520.5v7M1266.96 520.5v7M1294.45 520.5v12M1321.94 520.5v7M1349.42 520.5v7M1376.91 520.5v7M1404.4 520.5v12M1431.89 520.5v7M1459.38 520.5v7M1486.86 520.5v7M1514.35 520.5v12M1541.84 520.5v7M1569.33 520.5v7M1596.81 520.5v7M1624.3 520.5v12" stroke="#000" stroke-width="2.8" fill="none"/>
<text transform="translate(1163 492.81) scale(1 1.08)" text-anchor="end" class="t">0.0</text>
<text transform="translate(1163 422.84) scale(1 1.08)" text-anchor="end" class="t">0.2</text>
<text transform="translate(1163 352.87) scale(1 1.08)" text-anchor="end" class="t">0.4</text>
<text transform="translate(1163 282.9) scale(1 1.08)" text-anchor="end" class="t">0.6</text>
<text transform="translate(1163 212.93) scale(1 1.08)" text-anchor="end" class="t">0.8</text>
<text transform="translate(1163 142.96) scale(1 1.08)" text-anchor="end" class="t">1.0</text>
<text transform="translate(1163 72.99) scale(1 1.08)" text-anchor="end" class="t">1.2</text>
<text transform="translate(1183.9 560.6) scale(1 1.07)" text-anchor="middle" class="t">-0.04</text>
<text transform="translate(1293.85 560.6) scale(1 1.07)" text-anchor="middle" class="t">-0.02</text>
<text transform="translate(1403.8 560.6) scale(1 1.07)" text-anchor="middle" class="t">0.00</text>
<text transform="translate(1513.75 560.6) scale(1 1.07)" text-anchor="middle" class="t">0.02</text>
<text transform="translate(1623.7 560.6) scale(1 1.07)" text-anchor="middle" class="t">0.04</text>
<text x="1187.7" y="595.8" class="at">Energy relative to e<tspan class="sub" dy="11">0</tspan><tspan dy="-11"> (keV)</tspan></text>
<text transform="translate(1123.1 467.8) rotate(-90)" class="at">Normalized Absorptivity</text>
<text x="1206.35" y="81.6" class="pl">(c)</text>
<path d="M1186.4 484.0 1188.4 483.9 1190.4 483.9 1192.4 483.8 1194.4 483.7 1196.4 483.7 1198.4 483.6 1200.4 483.5 1202.4 483.5 1204.4 483.4 1206.4 483.3 1208.4 483.3 1210.4 483.2 1212.4 483.1 1214.4 483.1 1216.4 483.0 1218.4 482.9 1220.4 482.9 1222.4 482.8 1224.4 482.7 1226.4 482.7 1228.4 482.6 1230.4 482.6 1232.4 482.5 1234.4 482.4 1236.4 482.4 1238.4 482.3 1240.4 482.2 1242.4 482.2 1244.4 482.1 1246.4 482.0 1248.4 482.0 1250.4 481.9 1252.4 481.9 1254.4 481.8 1256.4 481.8 1258.4 481.7 1260.4 481.6 1262.4 481.6 1264.4 481.5 1266.4 481.5 1268.4 481.5 1270.4 481.4 1272.4 481.4 1274.4 481.4 1276.4 481.3 1278.4 481.3 1280.4 481.3 1282.4 481.3 1284.4 481.3 1286.4 481.3 1288.4 481.4 1290.4 481.4 1292.4 481.4 1294.4 481.5 1296.4 481.5 1298.4 481.6 1300.4 481.6 1302.4 481.6 1304.4 481.7 1306.4 481.7 1308.4 481.7 1310.4 481.7 1312.4 481.7 1314.4 481.7 1316.4 481.7 1318.4 481.6 1320.4 481.4 1322.4 481.1 1324.3 480.5 1326.0 479.5 1327.1 477.8 1328.2 476.2 1330.1 475.6 1332.1 475.7 1334.1 476.0 1336.0 476.4 1338.0 476.9 1339.9 477.3 1341.9 477.6 1343.9 477.8 1345.9 477.8 1347.9 477.6 1349.9 477.4 1351.9 477.2 1353.8 476.8 1355.8 476.4 1357.7 475.9 1359.6 475.2 1361.4 474.3 1363.2 473.4 1365.0 472.5 1366.8 471.6 1368.6 470.7 1370.3 469.8 1372.1 468.9 1373.9 468.1 1375.8 467.2 1377.6 466.4 1379.4 465.5 1381.1 464.5 1382.7 463.3 1384.1 461.9 1385.5 460.4 1386.8 458.9 1388.2 457.5 1389.7 456.1 1391.1 454.7 1392.5 453.3 1393.8 451.8 1395.0 450.2 1395.9 448.4 1396.7 446.6 1397.4 444.7 1398.0 442.8 1398.5 440.8 1399.1 438.9 1399.7 437.0 1400.2 435.1 1400.8 433.2 1401.4 431.3 1402.1 429.4 1402.8 427.5 1403.4 425.6 1404.0 423.7 1404.5 421.7 1405.0 419.8 1405.5 417.9 1406.0 415.9 1406.4 414.0 1406.8 412.0 1407.2 410.1 1407.6 408.1 1408.0 406.1 1408.3 404.1 1408.5 402.2 1408.8 400.2 1409.1 398.2 1409.5 396.2 1410.0 394.3 1410.6 392.4 1411.2 390.5 1411.9 388.6 1412.6 386.7 1413.4 384.9 1414.1 383.0 1414.9 381.2 1415.8 379.4 1416.6 377.5 1417.3 375.7 1418.1 373.8 1419.0 372.1 1420.3 370.5 1422.1 369.9 1423.8 370.9 1425.2 372.3 1426.4 373.9 1427.5 375.6 1428.6 377.3 1429.5 379.0 1430.5 380.8 1431.4 382.6 1432.3 384.4 1433.1 386.2 1434.0 388.0 1434.9 389.8 1435.7 391.6 1436.6 393.4 1437.6 395.2 1438.5 396.9 1439.5 398.7 1440.5 400.4 1441.5 402.1 1442.5 403.8 1443.5 405.6 1444.6 407.3 1445.6 409.0 1446.6 410.7 1447.6 412.5 1448.6 414.2 1449.6 415.9 1450.6 417.7 1451.6 419.4 1452.6 421.1 1453.6 422.9 1454.6 424.6 1455.4 426.5 1456.2 428.3 1457.1 430.1 1458.0 431.8 1459.1 433.6 1460.1 435.3 1461.2 437.0 1462.2 438.7 1463.3 440.4 1464.4 442.0 1465.4 443.7 1466.5 445.4 1467.6 447.1 1468.7 448.8 1469.8 450.5 1470.9 452.1 1472.0 453.8 1473.1 455.5 1474.1 457.2 1475.3 458.8 1476.5 460.4 1477.9 461.9 1479.3 463.3 1480.8 464.6 1482.4 465.7 1484.2 466.7 1486.0 467.5 1487.9 468.2 1489.8 468.8 1491.7 469.5 1493.5 470.4 1495.2 471.4 1496.9 472.4 1498.6 473.4 1500.4 474.4 1502.2 475.2 1504.1 475.7 1506.1 476.0 1508.1 476.2 1510.1 476.3 1512.1 476.4 1514.1 476.5 1516.1 476.6 1518.1 476.8 1520.1 477.1 1522.0 477.6 1523.9 478.4 1525.6 479.3 1527.4 480.3 1529.2 481.2 1531.0 482.0 1532.9 482.6 1534.9 483.0 1536.8 483.3 1538.8 483.5 1540.8 483.7 1542.8 483.8 1544.8 483.9 1546.8 484.0 1548.8 484.1 1550.8 484.2 1552.8 484.2 1554.8 484.3 1556.8 484.5 1558.8 484.6 1560.8 484.7 1562.8 484.8 1564.8 484.9 1566.8 484.9 1568.8 485.0 1570.8 485.2 1572.8 485.3 1574.8 485.4 1576.8 485.6 1578.8 485.7 1580.8 485.9 1582.8 486.0 1584.8 486.2 1586.8 486.3 1588.8 486.5 1590.8 486.6 1592.8 486.8 1594.8 486.9 1596.8 487.0 1598.8 487.1 1600.8 487.3 1602.8 487.4 1604.8 487.5 1606.7 487.6 1608.7 487.8 1610.7 487.9 1612.7 488.0 1614.7 488.2 1616.7 488.3" fill="none" stroke="#000" stroke-width="3.0" stroke-dasharray="21 5.5 3 5.5" stroke-linejoin="round"/>
<path d="M1186.4 483.8 1188.4 483.7 1190.4 483.6 1192.4 483.5 1194.4 483.4 1196.4 483.3 1198.4 483.2 1200.4 483.2 1202.4 483.1 1204.4 483.0 1206.4 482.9 1208.4 482.8 1210.4 482.7 1212.4 482.6 1214.4 482.5 1216.4 482.4 1218.4 482.3 1220.4 482.3 1222.4 482.2 1224.4 482.1 1226.4 482.0 1228.4 481.9 1230.4 481.8 1232.4 481.7 1234.4 481.6 1236.4 481.5 1238.4 481.5 1240.4 481.4 1242.4 481.3 1244.4 481.2 1246.4 481.1 1248.4 481.0 1250.4 480.9 1252.4 480.8 1254.4 480.7 1256.4 480.6 1258.4 480.6 1260.4 480.5 1262.4 480.4 1264.4 480.3 1266.4 480.2 1268.4 480.1 1270.4 480.0 1272.4 479.9 1274.4 479.9 1276.4 479.8 1278.4 479.7 1280.4 479.6 1282.4 479.6 1284.4 479.5 1286.4 479.5 1288.4 479.4 1290.4 479.4 1292.4 479.3 1294.4 479.2 1296.4 479.2 1298.4 479.1 1300.4 479.0 1302.4 478.9 1304.4 478.8 1306.4 478.6 1308.4 478.4 1310.4 478.1 1312.4 477.9 1314.4 477.5 1316.3 477.2 1318.3 476.8 1320.3 476.4 1322.2 475.9 1324.1 475.4 1326.1 474.9 1328.0 474.5 1330.0 474.0 1331.9 473.5 1333.9 473.1 1335.8 472.6 1337.8 472.1 1339.7 471.5 1341.6 470.9 1343.5 470.2 1345.3 469.4 1347.1 468.6 1348.9 467.6 1350.7 466.7 1352.4 465.7 1354.1 464.7 1355.9 463.7 1357.6 462.6 1359.3 461.7 1361.1 460.7 1362.8 459.7 1364.3 458.4 1365.7 457.0 1367.0 455.4 1368.3 453.9 1369.5 452.3 1370.6 450.6 1371.8 449.0 1373.0 447.4 1374.1 445.7 1375.2 444.1 1376.3 442.4 1377.3 440.6 1378.2 438.9 1379.2 437.1 1380.1 435.3 1381.1 433.6 1382.0 431.8 1382.9 430.0 1383.6 428.1 1384.3 426.3 1385.0 424.4 1385.6 422.5 1386.2 420.6 1386.9 418.7 1387.4 416.8 1388.0 414.8 1388.5 412.9 1389.0 411.0 1389.4 409.0 1389.9 407.0 1390.3 405.1 1390.6 403.1 1391.0 401.1 1391.3 399.2 1391.7 397.2 1392.0 395.2 1392.3 393.2 1392.6 391.3 1392.9 389.3 1393.3 387.3 1393.6 385.3 1393.9 383.3 1394.2 381.4 1394.5 379.4 1394.8 377.4 1395.0 375.4 1395.3 373.4 1395.6 371.4 1395.9 369.5 1396.1 367.5 1396.4 365.5 1396.7 363.5 1397.0 361.5 1397.3 359.5 1397.5 357.6 1397.8 355.6 1398.1 353.6 1398.4 351.6 1398.6 349.6 1398.9 347.6 1399.2 345.7 1399.5 343.7 1399.7 341.7 1400.0 339.7 1400.2 337.7 1400.5 335.7 1400.7 333.7 1401.0 331.8 1401.2 329.8 1401.5 327.8 1401.7 325.8 1401.9 323.8 1402.2 321.8 1402.4 319.8 1402.7 317.8 1403.0 315.9 1403.2 313.9 1403.5 311.9 1403.8 309.9 1404.1 307.9 1404.4 305.9 1404.6 304.0 1404.8 302.0 1405.1 300.0 1405.3 298.0 1405.5 296.0 1405.7 294.0 1405.9 292.0 1406.1 290.0 1406.4 288.0 1406.6 286.0 1406.8 284.0 1407.0 282.1 1407.2 280.1 1407.4 278.1 1407.6 276.1 1407.8 274.1 1408.0 272.1 1408.2 270.1 1408.4 268.1 1408.6 266.1 1408.8 264.1 1409.0 262.1 1409.2 260.1 1409.3 258.1 1409.5 256.1 1409.6 254.1 1409.8 252.1 1409.9 250.1 1410.1 248.1 1410.2 246.1 1410.4 244.1 1410.5 242.2 1410.7 240.2 1410.9 238.2 1411.1 236.2 1411.3 234.2 1411.5 232.2 1411.7 230.2 1412.0 228.2 1412.3 226.2 1412.5 224.2 1412.8 222.3 1413.1 220.3 1413.5 218.3 1413.8 216.3 1414.1 214.4 1414.5 212.4 1414.8 210.4 1415.2 208.4 1415.6 206.5 1416.0 204.5 1416.4 202.5 1416.8 200.6 1417.2 198.6 1417.6 196.7 1418.1 194.7 1418.6 192.8 1419.1 190.9 1419.7 188.9 1420.2 187.0 1420.9 185.1 1421.5 183.2 1422.3 181.4 1423.2 179.6 1424.5 178.1 1426.2 177.0 1428.1 176.7 1430.1 176.8 1432.1 177.0 1434.1 177.2 1436.1 177.5 1438.1 177.8 1440.0 178.2 1442.0 178.6 1444.0 178.8 1446.0 178.9 1448.0 178.7 1449.9 178.2 1451.9 177.7 1453.7 177.0 1455.6 176.2 1457.4 175.4 1459.2 174.5 1461.0 173.6 1462.7 172.6 1464.4 171.5 1466.1 170.4 1467.7 169.2 1469.3 168.0 1470.9 166.8 1472.5 165.6 1474.1 164.4 1475.8 163.3 1477.4 162.2 1479.1 161.1 1480.8 160.1 1482.6 159.1 1484.3 158.1 1486.1 157.1 1487.9 156.2 1489.7 155.4 1491.5 154.5 1493.3 153.7 1495.1 152.9 1497.0 152.1 1498.9 151.4 1500.8 150.9 1502.8 150.5 1504.8 150.3 1506.8 150.4 1508.7 150.6 1510.7 150.9 1512.7 151.2 1514.7 151.5 1516.6 151.9 1518.6 152.4 1520.6 152.6 1522.6 152.6 1524.6 152.2 1526.5 151.6 1528.3 150.8 1530.1 150.0 1531.9 149.1 1533.7 148.2 1535.5 147.3 1537.3 146.3 1539.0 145.4 1540.8 144.4 1542.5 143.4 1544.2 142.4 1546.0 141.4 1547.7 140.4 1549.5 139.5 1551.3 138.7 1553.2 137.9 1555.0 137.1 1556.8 136.3 1558.6 135.4 1560.4 134.4 1562.1 133.5 1563.9 132.5 1565.7 131.6 1567.5 130.7 1569.3 129.9 1571.2 129.1 1573.1 128.5 1575.0 128.1 1577.0 127.8 1579.0 127.7 1581.0 127.8 1583.0 128.0 1585.0 128.2 1587.0 128.5 1589.0 128.7 1591.0 129.0 1592.9 129.4 1594.9 129.8 1596.9 130.1 1598.8 130.6 1600.8 131.0 1602.7 131.4 1604.7 131.8 1606.6 132.3 1608.6 132.7 1610.5 133.2 1612.5 133.7 1614.4 134.2 1616.4 134.7 1618.3 135.2 1620.2 135.8 1622.1 136.3" fill="none" stroke="#000" stroke-width="3.0" stroke-dasharray="17 6" stroke-linejoin="round"/>
<path d="M1186.4 483.6 1188.4 483.5 1190.4 483.4 1192.4 483.3 1194.4 483.2 1196.4 483.1 1198.4 483.0 1200.4 482.9 1202.4 482.8 1204.4 482.7 1206.4 482.6 1208.4 482.5 1210.4 482.3 1212.4 482.2 1214.4 482.1 1216.4 482.0 1218.4 481.9 1220.4 481.8 1222.4 481.7 1224.4 481.6 1226.4 481.5 1228.4 481.3 1230.4 481.2 1232.4 481.1 1234.4 481.0 1236.4 480.9 1238.4 480.7 1240.4 480.6 1242.4 480.5 1244.4 480.4 1246.4 480.2 1248.4 480.1 1250.4 480.0 1252.4 479.8 1254.4 479.7 1256.4 479.6 1258.4 479.4 1260.4 479.3 1262.4 479.2 1264.4 479.0 1266.4 478.9 1268.4 478.7 1270.4 478.6 1272.4 478.4 1274.4 478.2 1276.4 478.1 1278.4 477.9 1280.4 477.8 1282.4 477.6 1284.4 477.4 1286.4 477.2 1288.4 477.1 1290.4 476.9 1292.3 476.6 1294.3 476.4 1296.3 476.1 1298.3 475.9 1300.3 475.6 1302.3 475.2 1304.2 474.9 1306.2 474.5 1308.2 474.1 1310.1 473.6 1312.1 473.2 1314.0 472.7 1316.0 472.2 1317.9 471.6 1319.8 471.1 1321.7 470.5 1323.6 469.9 1325.6 469.3 1327.4 468.6 1329.3 467.9 1331.2 467.2 1333.0 466.3 1334.8 465.5 1336.6 464.6 1338.4 463.6 1340.1 462.6 1341.8 461.5 1343.4 460.4 1345.1 459.3 1346.7 458.1 1348.4 457.0 1350.0 455.8 1351.6 454.6 1353.2 453.4 1354.8 452.2 1356.4 451.0 1357.9 449.6 1359.3 448.3 1360.7 446.8 1362.0 445.3 1363.2 443.7 1364.4 442.1 1365.6 440.4 1366.6 438.7 1367.7 437.0 1368.7 435.3 1369.6 433.5 1370.6 431.7 1371.4 429.9 1372.3 428.1 1373.1 426.3 1373.9 424.5 1374.7 422.6 1375.5 420.8 1376.2 418.9 1376.9 417.0 1377.6 415.2 1378.3 413.3 1378.9 411.4 1379.5 409.5 1380.1 407.5 1380.7 405.6 1381.3 403.7 1381.9 401.8 1382.4 399.9 1383.0 397.9 1383.5 396.0 1384.0 394.1 1384.5 392.1 1385.0 390.2 1385.4 388.2 1385.9 386.3 1386.3 384.3 1386.8 382.4 1387.2 380.4 1387.6 378.4 1388.1 376.5 1388.4 374.5 1388.8 372.6 1389.2 370.6 1389.5 368.6 1389.9 366.6 1390.2 364.7 1390.5 362.7 1390.8 360.7 1391.1 358.7 1391.3 356.7 1391.6 354.7 1391.9 352.7 1392.1 350.8 1392.4 348.8 1392.6 346.8 1392.9 344.8 1393.1 342.8 1393.3 340.8 1393.6 338.8 1393.8 336.8 1394.1 334.8 1394.4 332.9 1394.6 330.9 1394.9 328.9 1395.2 326.9 1395.5 324.9 1395.7 322.9 1396.0 321.0 1396.3 319.0 1396.6 317.0 1396.9 315.0 1397.2 313.0 1397.4 311.0 1397.7 309.0 1398.0 307.1 1398.2 305.1 1398.4 303.1 1398.7 301.1 1398.9 299.1 1399.1 297.1 1399.3 295.1 1399.4 293.1 1399.6 291.1 1399.7 289.1 1399.9 287.1 1400.0 285.1 1400.1 283.1 1400.3 281.1 1400.4 279.1 1400.5 277.1 1400.7 275.1 1400.8 273.1 1401.0 271.1 1401.2 269.1 1401.3 267.1 1401.5 265.1 1401.7 263.1 1401.8 261.1 1402.0 259.1 1402.2 257.1 1402.4 255.1 1402.6 253.1 1402.7 251.2 1402.9 249.2 1403.1 247.2 1403.2 245.2 1403.4 243.2 1403.5 241.2 1403.7 239.2 1403.8 237.2 1404.0 235.2 1404.1 233.2 1404.3 231.2 1404.4 229.2 1404.5 227.2 1404.6 225.2 1404.7 223.2 1404.8 221.2 1404.9 219.2 1405.0 217.2 1405.1 215.2 1405.2 213.2 1405.3 211.2 1405.4 209.2 1405.5 207.2 1405.6 205.1 1405.7 203.1 1405.8 201.1 1405.9 199.1 1406.0 197.1 1406.1 195.1 1406.2 193.1 1406.3 191.1 1406.4 189.1 1406.5 187.1 1406.7 185.1 1406.8 183.1 1406.9 181.1 1407.0 179.1 1407.2 177.1 1407.3 175.1 1407.4 173.1 1407.6 171.1 1407.8 169.1 1407.9 167.1 1408.1 165.1 1408.2 163.1 1408.4 161.2 1408.6 159.2 1408.8 157.2 1409.0 155.2 1409.1 153.2 1409.3 151.2 1409.5 149.2 1409.7 147.2 1409.9 145.2 1410.1 143.2 1410.3 141.2 1410.5 139.2 1410.7 137.2 1410.9 135.2 1411.1 133.2 1411.3 131.2 1411.5 129.2 1411.7 127.2 1411.9 125.2 1412.1 123.3 1412.3 121.3 1412.5 119.3 1412.8 117.3 1413.0 115.3 1413.2 113.3 1413.4 111.3 1413.6 109.3 1413.9 107.3 1414.1 105.3 1414.4 103.3 1414.6 101.4 1414.9 99.4 1415.2 97.4 1415.5 95.4 1415.8 93.4 1416.1 91.4 1416.4 89.5 1416.8 87.5 1417.2 85.5 1417.5 83.6 1417.9 81.6 1418.3 79.6 1418.7 77.7 1419.1 75.7 1419.6 73.7 1420.0 71.8 1420.6 69.9 1421.3 68.0 1422.3 66.3 1423.5 64.7 1425.2 63.6 1427.1 64.2 1428.5 65.6 1429.6 67.2 1430.5 69.0 1431.4 70.8 1432.3 72.6 1433.1 74.4 1433.9 76.3 1434.8 78.1 1435.6 79.9 1436.4 81.8 1437.2 83.6 1438.1 85.4 1438.9 87.2 1439.8 89.0 1440.7 90.8 1441.5 92.6 1442.4 94.5 1443.2 96.3 1444.1 98.1 1445.0 99.9 1445.9 101.7 1446.8 103.5 1447.7 105.2 1448.7 107.0 1449.7 108.7 1450.7 110.4 1451.8 112.1 1452.8 113.8 1453.9 115.5 1455.0 117.2 1456.1 118.9 1457.3 120.5 1458.4 122.2 1459.6 123.8 1460.8 125.4 1462.1 126.9 1463.4 128.4 1464.8 129.8 1466.3 131.2 1467.8 132.5 1469.4 133.7 1471.1 134.8 1472.9 135.8 1474.7 136.6 1476.6 137.2 1478.5 137.8 1480.5 138.2 1482.5 138.5 1484.5 138.6 1486.5 138.6 1488.4 138.2 1490.4 137.7 1492.3 137.2 1494.3 137.0 1496.3 137.1 1498.2 137.5 1500.2 138.0 1502.1 138.6 1504.0 139.1 1506.0 139.6 1507.9 140.2 1509.8 140.8 1511.7 141.4 1513.7 141.9 1515.6 142.3 1517.6 142.6 1519.6 142.9 1521.6 143.0 1523.6 143.2 1525.6 143.3 1527.6 143.3 1529.6 143.3 1531.6 143.2 1533.6 142.9 1535.6 142.6 1537.5 142.2 1539.4 141.6 1541.3 141.0 1543.2 140.3 1545.1 139.5 1546.9 138.7 1548.8 137.9 1550.6 137.2 1552.5 136.4 1554.3 135.7 1556.2 135.0 1558.0 134.2 1559.9 133.4 1561.7 132.6 1563.6 131.8 1565.4 131.1 1567.3 130.4 1569.2 129.7 1571.1 129.1 1573.0 128.5 1575.0 128.1 1577.0 127.9 1579.0 127.8 1581.0 127.8 1583.0 128.0 1585.0 128.2 1587.0 128.5 1589.0 128.7 1590.9 129.0 1592.9 129.4 1594.9 129.8 1596.8 130.1 1598.8 130.5 1600.8 131.0 1602.7 131.4 1604.7 131.8 1606.6 132.3 1608.6 132.7 1610.5 133.2 1612.5 133.7 1614.4 134.2 1616.4 134.7 1618.3 135.2 1620.2 135.8 1622.1 136.3" fill="none" stroke="#000" stroke-width="3.1" stroke-linejoin="round"/></g>
<g id="pd"><rect x="100.2" y="613.3" width="438.5" height="489.7" fill="none" stroke="#000" stroke-width="2.8"/>
<path d="M100.2 1103h-7M100.2 1085.51h-7M100.2 1068.02h-12M100.2 1050.53h-7M100.2 1033.04h-7M100.2 1015.55h-7M100.2 998.06h-12M100.2 980.58h-7M100.2 963.09h-7M100.2 945.6h-7M100.2 928.11h-12M100.2 910.62h-7M100.2 893.13h-7M100.2 875.64h-7M100.2 858.15h-12M100.2 840.66h-7M100.2 823.17h-7M100.2 805.68h-7M100.2 788.19h-12M100.2 770.7h-7M100.2 753.21h-7M100.2 735.72h-7M100.2 718.24h-12M100.2 700.75h-7M100.2 683.26h-7M100.2 665.77h-7M100.2 648.28h-12M100.2 630.79h-7M100.2 613.3h-7M100.2 1103v12M127.61 1103v7M155.01 1103v7M182.42 1103v7M209.83 1103v12M237.23 1103v7M264.64 1103v7M292.04 1103v7M319.45 1103v12M346.86 1103v7M374.26 1103v7M401.67 1103v7M429.08 1103v12M456.48 1103v7M483.89 1103v7M511.29 1103v7M538.7 1103v12" stroke="#000" stroke-width="2.8" fill="none"/>
<text transform="translate(78.7 1075.32) scale(1 1.08)" text-anchor="end" class="t">0.0</text>
<text transform="translate(78.7 1005.36) scale(1 1.08)" text-anchor="end" class="t">0.2</text>
<text transform="translate(78.7 935.41) scale(1 1.08)" text-anchor="end" class="t">0.4</text>
<text transform="translate(78.7 865.45) scale(1 1.08)" text-anchor="end" class="t">0.6</text>
<text transform="translate(78.7 795.49) scale(1 1.08)" text-anchor="end" class="t">0.8</text>
<text transform="translate(78.7 725.54) scale(1 1.08)" text-anchor="end" class="t">1.0</text>
<text transform="translate(78.7 655.58) scale(1 1.08)" text-anchor="end" class="t">1.2</text>
<text transform="translate(99.6 1143.1) scale(1 1.07)" text-anchor="middle" class="t">-0.04</text>
<text transform="translate(209.23 1143.1) scale(1 1.07)" text-anchor="middle" class="t">-0.02</text>
<text transform="translate(318.85 1143.1) scale(1 1.07)" text-anchor="middle" class="t">0.00</text>
<text transform="translate(428.48 1143.1) scale(1 1.07)" text-anchor="middle" class="t">0.02</text>
<text transform="translate(538.1 1143.1) scale(1 1.07)" text-anchor="middle" class="t">0.04</text>
<text x="103.4" y="1178.3" class="at">Energy relative to e<tspan class="sub" dy="11">0</tspan><tspan dy="-11"> (keV)</tspan></text>
<text transform="translate(38.8 1050.3) rotate(-90)" class="at">Normalized Absorptivity</text>
<text x="139.05" y="668.7" class="pl">(d)</text>
<path d="M102.4 1066.8 104.4 1066.7 106.4 1066.7 108.4 1066.6 110.4 1066.5 112.4 1066.5 114.4 1066.4 116.4 1066.4 118.4 1066.3 120.4 1066.3 122.4 1066.2 124.4 1066.1 126.4 1066.1 128.4 1066.0 130.4 1066.0 132.4 1065.9 134.4 1065.8 136.3 1065.8 138.3 1065.7 140.3 1065.7 142.3 1065.6 144.3 1065.6 146.3 1065.5 148.3 1065.4 150.3 1065.4 152.3 1065.3 154.3 1065.3 156.3 1065.2 158.3 1065.1 160.3 1065.1 162.3 1065.0 164.3 1065.0 166.3 1064.9 168.3 1064.8 170.3 1064.8 172.3 1064.7 174.3 1064.6 176.3 1064.6 178.3 1064.5 180.3 1064.4 182.3 1064.4 184.3 1064.3 186.3 1064.2 188.3 1064.2 190.3 1064.1 192.3 1064.0 194.3 1063.9 196.3 1063.9 198.3 1063.8 200.3 1063.7 202.3 1063.7 204.3 1063.6 206.3 1063.5 208.3 1063.4 210.3 1063.3 212.3 1063.3 214.3 1063.2 216.3 1063.1 218.3 1063.0 220.3 1062.9 222.3 1062.7 224.3 1062.6 226.3 1062.5 228.3 1062.3 230.3 1062.1 232.3 1061.9 234.3 1061.7 236.2 1061.5 238.2 1061.3 240.2 1061.0 242.2 1060.7 244.2 1060.4 246.1 1060.1 248.1 1059.8 250.1 1059.5 252.1 1059.1 254.0 1058.7 256.0 1058.4 258.0 1058.0 259.9 1057.6 261.9 1057.2 263.8 1056.8 265.7 1056.2 267.6 1055.5 269.5 1054.9 271.5 1054.5 273.5 1054.2 275.4 1053.9 277.4 1053.3 279.2 1052.5 280.9 1051.5 282.5 1050.3 284.1 1049.1 285.6 1047.8 287.1 1046.5 288.6 1045.1 290.0 1043.7 291.5 1042.3 292.8 1040.9 294.2 1039.4 295.5 1037.9 296.8 1036.3 298.0 1034.8 299.2 1033.1 300.3 1031.5 301.3 1029.8 302.3 1028.0 303.2 1026.2 304.0 1024.4 304.9 1022.6 305.6 1020.8 306.4 1018.9 307.1 1017.0 307.7 1015.1 308.4 1013.3 309.0 1011.4 309.6 1009.4 310.2 1007.5 310.8 1005.6 311.3 1003.7 311.8 1001.8 312.3 999.8 312.8 997.9 313.3 995.9 313.7 994.0 314.1 992.0 314.5 990.1 315.0 988.1 315.4 986.2 315.8 984.2 316.2 982.2 316.6 980.3 317.0 978.3 317.4 976.4 317.9 974.4 318.3 972.5 318.7 970.5 319.1 968.6 319.6 966.6 320.0 964.7 320.4 962.7 320.9 960.7 321.3 958.8 321.8 956.9 322.3 954.9 322.8 953.0 323.4 951.1 324.0 949.2 324.5 947.2 325.2 945.3 325.9 943.5 326.7 941.6 327.6 939.8 328.6 938.1 329.7 936.5 331.0 935.0 332.6 933.8 334.6 933.7 336.3 934.6 337.7 936.1 338.9 937.7 339.9 939.4 340.8 941.2 341.6 943.0 342.4 944.9 343.1 946.7 343.7 948.6 344.4 950.5 345.1 952.4 345.9 954.2 346.6 956.1 347.4 957.9 348.1 959.8 348.9 961.7 349.6 963.5 350.4 965.4 351.1 967.2 351.9 969.0 352.7 970.9 353.5 972.7 354.4 974.5 355.2 976.3 356.1 978.1 356.9 979.9 357.8 981.7 358.7 983.5 359.6 985.3 360.5 987.1 361.5 988.9 362.4 990.6 363.4 992.4 364.3 994.1 365.3 995.9 366.3 997.6 367.3 999.4 368.3 1001.1 369.3 1002.8 370.3 1004.5 371.4 1006.2 372.4 1008.0 373.4 1009.7 374.4 1011.4 375.4 1013.1 376.4 1014.9 377.4 1016.6 378.4 1018.4 379.3 1020.1 380.4 1021.8 381.4 1023.5 382.5 1025.2 383.7 1026.8 384.8 1028.4 386.0 1030.0 387.3 1031.6 388.5 1033.2 389.8 1034.7 391.1 1036.2 392.5 1037.7 393.9 1039.1 395.4 1040.4 397.0 1041.6 398.6 1042.8 400.3 1043.9 402.0 1044.9 403.8 1045.9 405.6 1046.8 407.3 1047.7 409.2 1048.5 411.0 1049.4 412.8 1050.2 414.7 1050.9 416.5 1051.7 418.4 1052.3 420.3 1053.0 422.2 1053.6 424.1 1054.1 426.1 1054.7 428.0 1055.2 429.9 1055.7 431.8 1056.3 433.8 1056.8 435.7 1057.3 437.6 1057.8 439.6 1058.3 441.5 1058.8 443.5 1059.3 445.4 1059.7 447.3 1060.2 449.3 1060.7 451.2 1061.1 453.2 1061.6 455.1 1062.0 457.1 1062.5 459.0 1062.9 461.0 1063.3 463.0 1063.7 464.9 1064.1 466.9 1064.4 468.9 1064.7 470.8 1065.1 472.8 1065.4 474.8 1065.7 476.8 1066.0 478.7 1066.3 480.7 1066.6 482.7 1066.8 484.7 1067.1 486.7 1067.3 488.7 1067.5 490.7 1067.7 492.7 1067.8 494.7 1067.9 496.7 1068.0 498.7 1068.0 500.7 1068.0 502.7 1068.0 504.7 1067.9 506.7 1067.9 508.7 1067.8 510.7 1067.8 512.7 1067.8 514.7 1067.8 516.7 1067.8 518.7 1067.9 520.6 1067.9 522.6 1068.0 524.6 1068.1 526.6 1068.2 528.6 1068.2 530.6 1068.3 532.6 1068.4 534.6 1068.5 536.6 1068.6" fill="none" stroke="#000" stroke-width="3.0" stroke-dasharray="21 5.5 3 5.5" stroke-linejoin="round"/>
<path d="M102.4 1066.6 104.4 1066.5 106.4 1066.4 108.4 1066.3 110.4 1066.1 112.4 1066.0 114.4 1065.9 116.4 1065.8 118.3 1065.7 120.3 1065.6 122.3 1065.5 124.3 1065.4 126.3 1065.2 128.3 1065.1 130.3 1065.0 132.3 1064.9 134.3 1064.8 136.3 1064.7 138.3 1064.6 140.3 1064.4 142.3 1064.3 144.3 1064.2 146.3 1064.1 148.3 1064.0 150.3 1063.9 152.3 1063.8 154.3 1063.7 156.3 1063.5 158.3 1063.4 160.3 1063.3 162.3 1063.2 164.3 1063.1 166.3 1063.0 168.3 1062.9 170.3 1062.8 172.3 1062.7 174.3 1062.6 176.3 1062.5 178.3 1062.4 180.3 1062.3 182.3 1062.2 184.3 1062.1 186.3 1062.0 188.3 1062.0 190.3 1061.9 192.3 1061.8 194.3 1061.8 196.3 1061.7 198.3 1061.7 200.3 1061.7 202.3 1061.6 204.3 1061.6 206.3 1061.6 208.3 1061.6 210.3 1061.7 212.3 1061.7 214.3 1061.7 216.3 1061.7 218.3 1061.7 220.3 1061.7 222.3 1061.7 224.3 1061.6 226.3 1061.6 228.3 1061.5 230.3 1061.3 232.3 1061.2 234.3 1061.0 236.3 1060.8 238.3 1060.6 240.3 1060.3 242.2 1060.0 244.2 1059.8 246.2 1059.4 248.2 1059.1 250.1 1058.7 252.1 1058.3 254.0 1057.9 256.0 1057.4 257.9 1056.8 259.8 1056.2 261.7 1055.5 263.5 1054.6 265.2 1053.6 266.8 1052.4 268.4 1051.2 269.9 1049.9 271.4 1048.5 273.0 1047.3 274.6 1046.1 276.2 1044.9 277.7 1043.7 279.3 1042.4 280.9 1041.2 282.4 1039.9 284.1 1038.8 285.8 1037.8 287.5 1036.8 289.1 1035.5 290.4 1034.0 291.5 1032.3 292.5 1030.6 293.5 1028.9 294.4 1027.1 295.3 1025.3 296.1 1023.5 296.9 1021.6 297.7 1019.8 298.4 1017.9 299.2 1016.1 299.9 1014.2 300.6 1012.3 301.2 1010.4 301.9 1008.5 302.5 1006.6 303.0 1004.7 303.6 1002.8 304.1 1000.9 304.7 998.9 305.2 997.0 305.7 995.1 306.2 993.1 306.6 991.2 307.1 989.2 307.6 987.3 308.0 985.3 308.5 983.4 308.9 981.4 309.3 979.5 309.7 977.5 310.1 975.5 310.5 973.6 310.8 971.6 311.2 969.6 311.5 967.7 311.9 965.7 312.2 963.7 312.6 961.7 312.9 959.8 313.3 957.8 313.6 955.8 313.9 953.9 314.2 951.9 314.5 949.9 314.8 947.9 315.1 945.9 315.4 944.0 315.7 942.0 316.0 940.0 316.3 938.0 316.6 936.0 316.9 934.1 317.1 932.1 317.4 930.1 317.7 928.1 317.9 926.1 318.2 924.1 318.4 922.2 318.7 920.2 318.9 918.2 319.2 916.2 319.4 914.2 319.6 912.2 319.9 910.2 320.1 908.2 320.3 906.3 320.6 904.3 320.8 902.3 321.0 900.3 321.3 898.3 321.5 896.3 321.7 894.3 322.0 892.3 322.2 890.4 322.4 888.4 322.7 886.4 322.9 884.4 323.2 882.4 323.4 880.4 323.6 878.4 323.9 876.5 324.1 874.5 324.4 872.5 324.6 870.5 324.9 868.5 325.1 866.5 325.4 864.5 325.6 862.6 325.8 860.6 326.1 858.6 326.3 856.6 326.6 854.6 326.8 852.6 327.0 850.6 327.3 848.6 327.5 846.7 327.7 844.7 328.0 842.7 328.2 840.7 328.4 838.7 328.6 836.7 328.8 834.7 329.0 832.7 329.3 830.7 329.5 828.8 329.7 826.8 329.9 824.8 330.2 822.8 330.4 820.8 330.6 818.8 330.9 816.8 331.1 814.8 331.4 812.9 331.6 810.9 331.9 808.9 332.1 806.9 332.4 804.9 332.7 802.9 332.9 801.0 333.2 799.0 333.5 797.0 333.8 795.0 334.2 793.0 334.5 791.1 334.9 789.1 335.4 787.2 335.8 785.2 336.3 783.3 336.8 781.3 337.4 779.4 338.1 777.5 338.8 775.7 339.7 773.9 340.8 772.2 341.9 770.6 343.2 769.0 344.5 767.5 346.0 766.2 347.9 765.4 349.8 765.1 351.8 765.1 353.8 765.2 355.8 765.5 357.8 765.9 359.7 766.4 361.7 766.8 363.7 767.0 365.7 766.9 367.6 766.5 369.6 766.0 371.5 765.4 373.4 764.7 375.2 764.0 377.0 763.2 378.8 762.3 380.6 761.4 382.4 760.4 384.1 759.4 385.7 758.3 387.4 757.1 389.0 755.9 390.6 754.7 392.1 753.5 393.6 752.1 395.1 750.8 396.6 749.4 398.0 748.1 399.5 746.7 401.0 745.3 402.5 744.0 404.0 742.7 405.6 741.5 407.2 740.3 408.9 739.2 410.6 738.3 412.5 737.5 414.4 736.9 416.4 736.6 418.4 736.3 420.4 736.2 422.4 736.2 424.4 736.3 426.4 736.3 428.4 736.5 430.3 736.7 432.3 737.0 434.3 737.3 436.3 737.6 438.3 737.8 440.3 737.9 442.3 737.8 444.3 737.7 446.2 737.4 448.2 736.9 450.0 736.2 451.9 735.3 453.6 734.4 455.4 733.4 457.1 732.3 458.8 731.3 460.5 730.2 462.2 729.2 463.9 728.1 465.6 727.1 467.2 726.0 468.8 724.8 470.4 723.5 471.8 722.0 473.0 720.5 474.2 718.9 475.5 717.3 476.9 715.9 478.5 714.7 480.2 713.8 482.1 713.0 484.0 712.4 485.9 711.9 487.9 711.4 489.8 711.1 491.8 710.8 493.8 710.6 495.8 710.4 497.8 710.4 499.8 710.5 501.8 710.8 503.7 711.2 505.7 711.8 507.6 712.4 509.4 713.1 511.3 713.8 513.2 714.4 515.2 714.9 517.1 715.4 519.1 715.9 521.0 716.3 523.0 716.7 524.9 717.2 526.9 717.6 528.8 718.0 530.8 718.4 532.7 718.9 534.7 719.3 536.6 719.7" fill="none" stroke="#000" stroke-width="3.0" stroke-dasharray="17 6" stroke-linejoin="round"/>
<path d="M102.4 1066.4 104.4 1066.3 106.4 1066.2 108.4 1066.1 110.4 1066.0 112.4 1065.9 114.3 1065.8 116.3 1065.7 118.3 1065.6 120.3 1065.5 122.3 1065.4 124.3 1065.3 126.3 1065.2 128.3 1065.1 130.3 1065.0 132.3 1064.9 134.3 1064.8 136.3 1064.7 138.3 1064.5 140.3 1064.4 142.3 1064.3 144.3 1064.1 146.3 1064.0 148.3 1063.9 150.3 1063.7 152.3 1063.6 154.3 1063.4 156.3 1063.3 158.3 1063.1 160.3 1063.0 162.3 1062.8 164.3 1062.7 166.2 1062.5 168.2 1062.4 170.2 1062.2 172.2 1062.0 174.2 1061.8 176.2 1061.7 178.2 1061.5 180.2 1061.3 182.2 1061.1 184.2 1060.9 186.2 1060.7 188.2 1060.5 190.1 1060.2 192.1 1060.0 194.1 1059.7 196.1 1059.5 198.1 1059.2 200.0 1058.9 202.0 1058.6 204.0 1058.3 206.0 1057.9 207.9 1057.6 209.9 1057.3 211.9 1057.0 213.9 1056.6 215.8 1056.3 217.8 1056.1 219.8 1055.8 221.8 1055.5 223.8 1055.3 225.8 1055.0 227.7 1054.8 229.7 1054.5 231.7 1054.1 233.6 1053.7 235.6 1053.2 237.4 1052.5 239.2 1051.6 241.0 1050.6 242.7 1049.6 244.4 1048.6 246.3 1047.8 248.1 1047.1 250.0 1046.4 251.9 1045.8 253.8 1045.1 255.7 1044.4 257.5 1043.5 259.3 1042.7 261.0 1041.7 262.7 1040.6 264.4 1039.6 266.1 1038.5 267.7 1037.3 269.3 1036.1 270.9 1034.9 272.5 1033.7 274.0 1032.4 275.5 1031.0 277.0 1029.7 278.4 1028.3 279.8 1026.9 281.1 1025.4 282.4 1023.8 283.6 1022.2 284.7 1020.6 285.8 1018.9 286.8 1017.2 287.8 1015.4 288.7 1013.6 289.6 1011.9 290.5 1010.1 291.4 1008.3 292.2 1006.4 293.0 1004.6 293.7 1002.7 294.5 1000.9 295.2 999.0 295.9 997.1 296.5 995.2 297.2 993.4 297.8 991.5 298.4 989.5 299.0 987.6 299.6 985.7 300.1 983.8 300.6 981.9 301.2 979.9 301.7 978.0 302.1 976.1 302.6 974.1 303.0 972.2 303.5 970.2 303.9 968.2 304.3 966.3 304.7 964.3 305.1 962.4 305.5 960.4 305.8 958.4 306.2 956.5 306.5 954.5 306.9 952.5 307.2 950.6 307.5 948.6 307.8 946.6 308.1 944.6 308.4 942.7 308.7 940.7 309.0 938.7 309.3 936.7 309.6 934.7 309.8 932.7 310.1 930.8 310.3 928.8 310.6 926.8 310.8 924.8 311.0 922.8 311.3 920.8 311.5 918.8 311.7 916.9 311.9 914.9 312.1 912.9 312.3 910.9 312.5 908.9 312.7 906.9 312.9 904.9 313.1 902.9 313.3 900.9 313.5 898.9 313.7 897.0 313.9 895.0 314.0 893.0 314.2 891.0 314.4 889.0 314.6 887.0 314.7 885.0 314.9 883.0 315.0 881.0 315.2 879.0 315.4 877.0 315.5 875.0 315.7 873.0 315.8 871.0 316.0 869.0 316.1 867.1 316.3 865.1 316.4 863.1 316.6 861.1 316.8 859.1 316.9 857.1 317.1 855.1 317.2 853.1 317.4 851.1 317.6 849.1 317.7 847.1 317.9 845.1 318.0 843.1 318.2 841.1 318.4 839.1 318.5 837.1 318.7 835.2 318.8 833.2 319.0 831.2 319.1 829.2 319.3 827.2 319.4 825.2 319.6 823.2 319.7 821.2 319.8 819.2 320.0 817.2 320.1 815.2 320.2 813.2 320.3 811.2 320.4 809.2 320.5 807.2 320.6 805.2 320.7 803.2 320.8 801.2 320.8 799.2 320.9 797.2 321.0 795.2 321.1 793.2 321.1 791.2 321.2 789.2 321.3 787.2 321.3 785.2 321.4 783.2 321.5 781.2 321.6 779.2 321.7 777.2 321.8 775.2 321.9 773.2 322.0 771.2 322.1 769.2 322.3 767.3 322.4 765.3 322.5 763.3 322.7 761.3 322.8 759.3 322.9 757.3 323.1 755.3 323.2 753.3 323.4 751.3 323.6 749.3 323.7 747.3 323.9 745.3 324.1 743.3 324.3 741.3 324.5 739.3 324.7 737.3 324.9 735.4 325.1 733.4 325.3 731.4 325.4 729.4 325.6 727.4 325.8 725.4 325.9 723.4 326.1 721.4 326.3 719.4 326.4 717.4 326.6 715.4 326.8 713.4 327.0 711.5 327.2 709.5 327.4 707.5 327.6 705.5 327.8 703.5 328.0 701.5 328.2 699.5 328.4 697.5 328.6 695.5 328.8 693.5 329.0 691.6 329.2 689.6 329.4 687.6 329.7 685.6 329.9 683.6 330.2 681.6 330.5 679.6 330.7 677.7 331.0 675.7 331.3 673.7 331.6 671.7 331.9 669.7 332.2 667.8 332.5 665.8 332.8 663.8 333.1 661.8 333.4 659.9 333.8 657.9 334.1 655.9 334.6 654.0 335.1 652.0 335.7 650.1 336.5 648.3 337.6 646.7 339.1 645.3 341.0 644.9 342.6 646.1 343.9 647.6 345.0 649.2 345.9 651.0 346.7 652.9 347.4 654.7 348.2 656.6 348.9 658.4 349.7 660.3 350.5 662.1 351.4 663.9 352.2 665.7 353.1 667.5 353.9 669.3 354.8 671.1 355.7 672.9 356.6 674.7 357.5 676.5 358.5 678.2 359.5 680.0 360.4 681.7 361.4 683.5 362.4 685.2 363.4 686.9 364.4 688.7 365.4 690.4 366.5 692.1 367.5 693.8 368.5 695.5 369.6 697.2 370.7 698.9 371.8 700.6 372.9 702.2 374.0 703.9 375.2 705.5 376.5 707.0 377.8 708.6 379.1 710.1 380.4 711.5 381.8 713.0 383.1 714.5 384.5 715.9 386.0 717.3 387.7 718.4 389.4 719.4 391.2 720.2 393.1 720.9 395.0 721.5 397.0 721.8 399.0 721.8 400.9 721.3 402.8 720.5 404.7 719.9 406.6 719.4 408.6 719.3 410.6 719.4 412.6 719.6 414.5 720.0 416.5 720.6 418.4 721.0 420.4 721.3 422.4 721.7 424.3 722.2 426.2 722.9 428.0 723.7 429.8 724.6 431.6 725.4 433.5 725.9 435.5 726.3 437.5 726.7 439.4 726.9 441.4 727.1 443.4 727.2 445.4 727.3 447.4 727.2 449.4 726.9 451.4 726.5 453.3 726.0 455.2 725.3 457.0 724.6 458.9 723.8 460.7 722.9 462.5 722.1 464.3 721.2 466.1 720.3 467.8 719.3 469.5 718.3 471.2 717.2 472.9 716.1 474.6 715.0 476.3 714.1 478.1 713.2 480.0 712.6 482.0 712.1 483.9 711.6 485.9 711.2 487.8 710.9 489.8 710.7 491.8 710.5 493.8 710.4 495.8 710.3 497.8 710.4 499.8 710.6 501.8 710.9 503.7 711.3 505.7 711.9 507.6 712.5 509.4 713.1 511.3 713.8 513.2 714.4 515.2 714.9 517.1 715.4 519.1 715.9 521.0 716.3 523.0 716.8 524.9 717.2 526.9 717.6 528.8 718.0 530.8 718.4 532.7 718.9 534.7 719.3 536.6 719.7" fill="none" stroke="#000" stroke-width="3.1" stroke-linejoin="round"/></g>
<g id="pe"><rect x="645.4" y="618.6" width="439.1" height="489.4" fill="none" stroke="#000" stroke-width="2.8"/>
<path d="M645.4 1108h-7M645.4 1090.52h-7M645.4 1073.04h-12M645.4 1055.56h-7M645.4 1038.09h-7M645.4 1020.61h-7M645.4 1003.13h-12M645.4 985.65h-7M645.4 968.17h-7M645.4 950.69h-7M645.4 933.21h-12M645.4 915.74h-7M645.4 898.26h-7M645.4 880.78h-7M645.4 863.3h-12M645.4 845.82h-7M645.4 828.34h-7M645.4 810.86h-7M645.4 793.39h-12M645.4 775.91h-7M645.4 758.43h-7M645.4 740.95h-7M645.4 723.47h-12M645.4 705.99h-7M645.4 688.51h-7M645.4 671.04h-7M645.4 653.56h-12M645.4 636.08h-7M645.4 618.6h-7M645.4 1108v12M672.84 1108v7M700.29 1108v7M727.73 1108v7M755.17 1108v12M782.62 1108v7M810.06 1108v7M837.51 1108v7M864.95 1108v12M892.39 1108v7M919.84 1108v7M947.28 1108v7M974.73 1108v12M1002.17 1108v7M1029.61 1108v7M1057.06 1108v7M1084.5 1108v12" stroke="#000" stroke-width="2.8" fill="none"/>
<text transform="translate(623.9 1080.34) scale(1 1.08)" text-anchor="end" class="t">0.0</text>
<text transform="translate(623.9 1010.43) scale(1 1.08)" text-anchor="end" class="t">0.2</text>
<text transform="translate(623.9 940.51) scale(1 1.08)" text-anchor="end" class="t">0.4</text>
<text transform="translate(623.9 870.6) scale(1 1.08)" text-anchor="end" class="t">0.6</text>
<text transform="translate(623.9 800.69) scale(1 1.08)" text-anchor="end" class="t">0.8</text>
<text transform="translate(623.9 730.77) scale(1 1.08)" text-anchor="end" class="t">1.0</text>
<text transform="translate(623.9 660.86) scale(1 1.08)" text-anchor="end" class="t">1.2</text>
<text transform="translate(644.8 1148.1) scale(1 1.07)" text-anchor="middle" class="t">-0.04</text>
<text transform="translate(754.57 1148.1) scale(1 1.07)" text-anchor="middle" class="t">-0.02</text>
<text transform="translate(864.35 1148.1) scale(1 1.07)" text-anchor="middle" class="t">0.00</text>
<text transform="translate(974.12 1148.1) scale(1 1.07)" text-anchor="middle" class="t">0.02</text>
<text transform="translate(1083.9 1148.1) scale(1 1.07)" text-anchor="middle" class="t">0.04</text>
<text x="648.6" y="1183.3" class="at">Energy relative to e<tspan class="sub" dy="11">0</tspan><tspan dy="-11"> (keV)</tspan></text>
<text transform="translate(584 1055.3) rotate(-90)" class="at">Normalized Absorptivity</text>
<text x="675.55" y="676.7" class="pl">(e)</text>
<path d="M647.4 1071.8 649.4 1071.7 651.4 1071.7 653.4 1071.6 655.4 1071.5 657.4 1071.5 659.4 1071.4 661.4 1071.4 663.4 1071.3 665.4 1071.3 667.4 1071.2 669.4 1071.1 671.4 1071.1 673.4 1071.0 675.4 1071.0 677.4 1070.9 679.4 1070.8 681.4 1070.8 683.4 1070.7 685.4 1070.7 687.4 1070.6 689.4 1070.5 691.4 1070.5 693.4 1070.4 695.4 1070.4 697.4 1070.3 699.4 1070.3 701.4 1070.2 703.4 1070.1 705.4 1070.1 707.5 1070.0 709.5 1069.9 711.5 1069.9 713.5 1069.8 715.5 1069.8 717.5 1069.7 719.5 1069.6 721.5 1069.6 723.5 1069.5 725.5 1069.4 727.5 1069.4 729.5 1069.3 731.5 1069.2 733.5 1069.1 735.5 1069.1 737.5 1069.0 739.5 1068.9 741.5 1068.8 743.5 1068.7 745.5 1068.7 747.5 1068.6 749.5 1068.5 751.5 1068.4 753.5 1068.3 755.5 1068.2 757.5 1068.1 759.5 1068.0 761.5 1067.9 763.5 1067.8 765.5 1067.6 767.5 1067.5 769.5 1067.4 771.5 1067.3 773.5 1067.2 775.5 1067.1 777.5 1067.0 779.5 1066.9 781.5 1066.9 783.5 1066.8 785.5 1066.8 787.5 1066.6 789.5 1066.4 791.5 1066.0 793.5 1065.6 795.4 1065.2 797.3 1064.7 799.3 1064.1 801.2 1063.6 803.1 1063.1 805.1 1062.6 807.0 1062.1 809.0 1061.6 810.9 1061.1 812.9 1060.7 814.8 1060.2 816.7 1059.7 818.7 1059.2 820.6 1058.7 822.5 1058.1 824.4 1057.4 826.3 1056.6 828.1 1055.9 830.0 1055.0 831.8 1054.2 833.5 1053.2 835.3 1052.2 837.0 1051.1 838.6 1050.0 840.1 1048.6 841.3 1047.1 842.3 1045.4 843.2 1043.5 844.0 1041.7 844.8 1039.8 845.6 1038.0 846.5 1036.2 847.4 1034.5 848.3 1032.7 849.3 1030.9 850.3 1029.2 851.4 1027.5 852.3 1025.8 853.1 1023.9 853.7 1022.0 854.3 1020.1 854.8 1018.1 855.4 1016.2 855.9 1014.3 856.4 1012.3 856.9 1010.4 857.4 1008.4 857.8 1006.5 858.2 1004.5 858.7 1002.6 859.1 1000.6 859.5 998.6 859.9 996.7 860.3 994.7 860.8 992.8 861.2 990.8 861.7 988.9 862.2 986.9 862.7 985.0 863.1 983.1 863.6 981.1 864.1 979.2 864.5 977.2 865.0 975.3 865.5 973.3 865.9 971.4 866.4 969.4 866.8 967.4 867.2 965.5 867.6 963.5 868.0 961.5 868.3 959.6 868.8 957.6 869.3 955.7 869.8 953.8 870.4 951.9 871.2 950.0 872.0 948.1 872.9 946.4 873.9 944.6 875.1 943.0 876.5 941.6 878.2 940.6 880.2 940.2 882.1 940.8 883.6 942.1 884.9 943.6 886.0 945.2 887.0 947.0 887.9 948.8 888.5 950.7 889.2 952.6 889.8 954.5 890.6 956.3 891.4 958.2 892.2 960.0 893.1 961.8 893.9 963.6 894.8 965.4 895.6 967.2 896.5 969.1 897.3 970.9 898.2 972.7 899.0 974.5 899.8 976.3 900.6 978.2 901.4 980.0 902.0 981.9 902.7 983.8 903.4 985.7 904.2 987.5 905.1 989.3 906.0 991.1 907.0 992.8 908.1 994.6 909.2 996.2 910.3 997.9 911.4 999.6 912.5 1001.2 913.6 1002.9 914.7 1004.6 915.8 1006.3 916.9 1008.0 917.9 1009.7 919.0 1011.4 920.0 1013.1 921.0 1014.8 921.9 1016.6 922.7 1018.4 923.5 1020.3 924.4 1022.1 925.2 1023.9 926.1 1025.7 927.1 1027.5 928.0 1029.2 929.0 1031.0 930.1 1032.7 931.1 1034.4 932.2 1036.1 933.3 1037.7 934.4 1039.4 935.5 1041.1 936.6 1042.7 937.7 1044.4 938.8 1046.1 939.9 1047.8 941.2 1049.3 942.6 1050.8 944.2 1052.0 946.0 1052.9 947.8 1053.6 949.7 1054.4 951.5 1055.2 953.3 1056.1 955.1 1056.9 957.0 1057.7 958.8 1058.6 960.6 1059.4 962.5 1060.0 964.4 1060.5 966.4 1060.8 968.4 1061.0 970.4 1061.0 972.4 1061.1 974.4 1061.2 976.4 1061.4 978.4 1061.7 980.4 1062.1 982.4 1062.4 984.3 1062.9 986.3 1063.3 988.2 1063.8 990.2 1064.3 992.1 1064.8 994.0 1065.3 996.0 1065.8 997.9 1066.5 999.8 1067.1 1001.6 1067.8 1003.5 1068.4 1005.4 1069.1 1007.4 1069.7 1009.3 1070.2 1011.2 1070.7 1013.2 1071.1 1015.2 1071.4 1017.2 1071.7 1019.1 1071.9 1021.1 1072.0 1023.1 1072.1 1025.1 1072.2 1027.2 1072.3 1029.2 1072.3 1031.2 1072.4 1033.2 1072.5 1035.2 1072.6 1037.2 1072.8 1039.1 1073.0 1041.1 1073.2 1043.1 1073.5 1045.1 1073.8 1047.1 1074.1 1049.1 1074.4 1051.1 1074.7 1053.0 1075.0 1055.0 1075.3 1057.0 1075.6 1059.0 1076.0 1060.9 1076.3 1062.9 1076.7 1064.9 1077.1 1066.8 1077.4 1068.8 1077.8 1070.8 1078.0 1072.8 1078.2 1074.8 1078.3 1076.8 1078.1 1078.8 1077.8 1080.7 1077.3 1082.6 1076.8" fill="none" stroke="#000" stroke-width="3.0" stroke-dasharray="21 5.5 3 5.5" stroke-linejoin="round"/>
<path d="M647.4 1071.6 649.4 1071.5 651.4 1071.4 653.4 1071.3 655.4 1071.2 657.4 1071.1 659.4 1071.1 661.4 1071.0 663.4 1070.9 665.4 1070.8 667.4 1070.7 669.4 1070.6 671.4 1070.5 673.4 1070.5 675.4 1070.4 677.4 1070.3 679.4 1070.2 681.4 1070.1 683.4 1070.0 685.4 1069.9 687.4 1069.8 689.4 1069.8 691.4 1069.7 693.4 1069.6 695.4 1069.5 697.4 1069.4 699.4 1069.3 701.4 1069.2 703.4 1069.2 705.4 1069.1 707.4 1069.0 709.4 1068.9 711.4 1068.8 713.4 1068.7 715.4 1068.6 717.4 1068.5 719.4 1068.4 721.4 1068.3 723.4 1068.2 725.4 1068.1 727.4 1068.0 729.4 1067.9 731.4 1067.8 733.4 1067.7 735.4 1067.6 737.4 1067.5 739.4 1067.4 741.4 1067.3 743.4 1067.2 745.5 1067.1 747.5 1067.0 749.5 1066.9 751.5 1066.8 753.5 1066.7 755.5 1066.6 757.5 1066.5 759.5 1066.3 761.5 1066.2 763.5 1066.1 765.5 1065.9 767.4 1065.7 769.4 1065.6 771.4 1065.4 773.4 1065.2 775.4 1064.9 777.4 1064.7 779.4 1064.4 781.4 1064.0 783.3 1063.7 785.3 1063.3 787.2 1062.8 789.2 1062.3 791.1 1061.7 793.0 1061.2 794.9 1060.6 796.9 1060.0 798.8 1059.4 800.7 1058.7 802.6 1058.1 804.4 1057.3 806.3 1056.5 808.1 1055.7 809.9 1054.9 811.7 1054.1 813.6 1053.2 815.4 1052.4 817.2 1051.6 819.0 1050.8 820.8 1049.9 822.6 1048.9 824.3 1047.8 825.9 1046.6 827.4 1045.3 828.8 1043.9 830.2 1042.4 831.5 1040.9 832.7 1039.3 834.0 1037.7 835.2 1036.1 836.3 1034.5 837.5 1032.9 838.6 1031.2 839.6 1029.5 840.5 1027.7 841.4 1025.9 842.3 1024.1 843.1 1022.2 843.8 1020.4 844.5 1018.5 845.2 1016.6 845.9 1014.7 846.5 1012.8 847.2 1011.0 848.0 1009.1 848.7 1007.3 849.5 1005.4 850.1 1003.5 850.7 1001.6 851.1 999.6 851.6 997.7 852.0 995.7 852.4 993.7 852.7 991.8 853.1 989.8 853.5 987.8 854.0 985.9 854.5 983.9 855.0 982.0 855.5 980.1 856.0 978.1 856.4 976.2 856.8 974.2 857.2 972.2 857.6 970.3 857.9 968.3 858.3 966.3 858.6 964.3 858.9 962.4 859.1 960.4 859.4 958.4 859.6 956.4 859.8 954.4 860.0 952.4 860.2 950.4 860.5 948.4 860.7 946.4 861.0 944.4 861.2 942.5 861.5 940.5 861.7 938.5 862.0 936.5 862.2 934.5 862.4 932.5 862.6 930.5 862.7 928.5 862.8 926.5 862.8 924.5 862.9 922.5 863.1 920.5 863.2 918.5 863.4 916.5 863.7 914.5 864.0 912.5 864.3 910.6 864.6 908.6 864.9 906.6 865.2 904.6 865.5 902.6 865.9 900.7 866.2 898.7 866.5 896.7 866.8 894.7 867.1 892.8 867.4 890.8 867.7 888.8 867.9 886.8 868.2 884.8 868.4 882.8 868.7 880.8 868.9 878.8 869.1 876.8 869.3 874.9 869.5 872.9 869.8 870.9 870.0 868.9 870.2 866.9 870.4 864.9 870.6 862.9 870.9 860.9 871.1 858.9 871.3 856.9 871.5 854.9 871.7 852.9 871.9 850.9 872.1 849.0 872.3 847.0 872.5 845.0 872.7 843.0 872.9 841.0 873.1 839.0 873.3 837.0 873.5 835.0 873.7 833.0 874.0 831.0 874.2 829.0 874.4 827.0 874.6 825.0 874.9 823.1 875.1 821.1 875.4 819.1 875.6 817.1 875.9 815.1 876.1 813.1 876.4 811.1 876.7 809.1 877.0 807.2 877.3 805.2 877.5 803.2 877.9 801.2 878.2 799.2 878.5 797.3 878.9 795.3 879.2 793.3 879.6 791.3 880.0 789.4 880.4 787.4 880.8 785.5 881.3 783.5 881.7 781.6 882.3 779.6 882.8 777.7 883.4 775.8 884.0 773.9 884.8 772.0 885.6 770.2 886.7 768.5 888.2 767.2 890.1 766.5 892.1 766.4 894.1 766.5 896.0 766.8 898.0 767.4 899.9 768.0 901.8 768.6 903.7 769.2 905.6 769.7 907.6 770.3 909.5 770.8 911.4 771.3 913.4 771.7 915.4 772.0 917.4 771.9 919.4 771.5 921.3 770.9 923.1 770.2 924.9 769.2 926.6 768.1 928.1 766.9 929.6 765.5 931.0 764.1 932.5 762.7 933.9 761.3 935.3 759.9 936.7 758.5 938.1 757.0 939.5 755.6 940.9 754.1 942.3 752.7 943.7 751.3 945.2 749.9 946.7 748.6 948.2 747.3 949.8 746.0 951.3 744.8 953.0 743.6 954.6 742.6 956.4 741.6 958.3 740.9 960.2 740.4 962.2 740.2 964.2 740.2 966.2 740.5 968.2 740.9 970.1 741.5 971.9 742.2 973.8 742.9 975.7 743.6 977.6 744.2 979.6 744.5 981.6 744.7 983.6 744.7 985.6 744.6 987.6 744.3 989.5 743.8 991.4 743.2 993.3 742.5 995.1 741.6 996.9 740.7 998.6 739.7 1000.3 738.7 1002.0 737.6 1003.6 736.4 1005.2 735.2 1006.7 733.9 1008.2 732.5 1009.7 731.1 1011.0 729.7 1012.4 728.2 1013.7 726.7 1015.1 725.3 1016.6 723.9 1018.2 722.7 1019.8 721.5 1021.4 720.3 1023.0 719.1 1024.6 717.9 1026.3 716.7 1027.9 715.7 1029.7 714.6 1031.4 713.7 1033.3 712.9 1035.2 712.3 1037.2 712.0 1039.2 711.9 1041.2 712.1 1043.1 712.4 1045.1 712.9 1047.0 713.4 1048.9 714.0 1050.8 714.7 1052.7 715.3 1054.6 716.1 1056.4 716.9 1058.2 717.8 1059.9 718.8 1061.7 719.8 1063.4 720.8 1065.2 721.7 1067.0 722.6 1068.8 723.5 1070.7 724.1 1072.6 724.6 1074.6 724.8 1076.6 724.9 1078.6 724.8 1080.6 724.8 1082.6 724.8" fill="none" stroke="#000" stroke-width="3.0" stroke-dasharray="17 6" stroke-linejoin="round"/>
<path d="M647.4 1071.4 649.4 1071.3 651.4 1071.3 653.4 1071.2 655.4 1071.2 657.4 1071.1 659.4 1071.1 661.4 1071.0 663.4 1071.0 665.4 1070.9 667.4 1070.9 669.4 1070.8 671.4 1070.8 673.4 1070.7 675.4 1070.7 677.4 1070.6 679.4 1070.5 681.4 1070.4 683.4 1070.3 685.4 1070.2 687.4 1070.1 689.4 1069.9 691.4 1069.8 693.4 1069.6 695.4 1069.5 697.4 1069.3 699.4 1069.1 701.4 1068.9 703.4 1068.8 705.4 1068.6 707.4 1068.4 709.4 1068.2 711.4 1068.0 713.4 1067.7 715.3 1067.5 717.3 1067.3 719.3 1067.1 721.3 1066.9 723.3 1066.6 725.3 1066.4 727.3 1066.2 729.3 1065.9 731.3 1065.7 733.3 1065.5 735.2 1065.2 737.2 1065.0 739.2 1064.7 741.2 1064.4 743.2 1064.2 745.2 1063.9 747.2 1063.6 749.1 1063.3 751.1 1063.0 753.1 1062.7 755.1 1062.4 757.0 1062.0 759.0 1061.7 761.0 1061.3 763.0 1061.0 764.9 1060.6 766.9 1060.2 768.9 1059.8 770.8 1059.4 772.8 1058.9 774.7 1058.4 776.6 1057.9 778.6 1057.3 780.5 1056.7 782.4 1056.1 784.2 1055.4 786.1 1054.6 788.0 1053.9 789.8 1053.1 791.7 1052.3 793.5 1051.5 795.3 1050.6 797.1 1049.7 798.9 1048.9 800.7 1048.0 802.5 1047.0 804.2 1046.1 806.0 1045.1 807.7 1044.1 809.5 1043.1 811.2 1042.1 812.8 1041.0 814.5 1039.8 816.0 1038.6 817.6 1037.3 819.0 1035.9 820.4 1034.5 821.7 1033.0 823.1 1031.4 824.3 1029.9 825.5 1028.3 826.7 1026.6 827.8 1025.0 828.9 1023.3 829.9 1021.6 831.0 1019.9 832.0 1018.2 833.0 1016.4 833.8 1014.6 834.7 1012.8 835.4 1010.9 836.2 1009.1 836.8 1007.2 837.5 1005.3 838.1 1003.4 838.7 1001.5 839.3 999.6 839.9 997.7 840.5 995.7 841.1 993.8 841.7 991.9 842.3 990.0 842.8 988.1 843.4 986.1 844.0 984.2 844.5 982.3 845.1 980.4 845.6 978.4 846.1 976.5 846.6 974.6 847.1 972.6 847.6 970.7 848.0 968.7 848.5 966.8 848.9 964.8 849.3 962.8 849.7 960.9 850.1 958.9 850.5 957.0 850.9 955.0 851.4 953.0 851.8 951.1 852.2 949.1 852.6 947.2 852.9 945.2 853.3 943.2 853.6 941.2 853.9 939.2 854.1 937.3 854.4 935.3 854.6 933.3 854.9 931.3 855.1 929.3 855.3 927.3 855.5 925.3 855.7 923.3 855.9 921.3 856.1 919.3 856.3 917.3 856.5 915.4 856.7 913.4 856.8 911.4 857.0 909.4 857.2 907.4 857.3 905.4 857.5 903.4 857.6 901.4 857.8 899.4 858.0 897.4 858.1 895.4 858.3 893.4 858.4 891.4 858.6 889.4 858.8 887.4 858.9 885.4 859.1 883.4 859.3 881.4 859.4 879.4 859.6 877.4 859.8 875.4 859.9 873.4 860.1 871.4 860.3 869.4 860.5 867.4 860.7 865.4 860.9 863.4 861.1 861.5 861.3 859.5 861.5 857.5 861.7 855.5 861.9 853.5 862.1 851.5 862.3 849.5 862.5 847.5 862.7 845.5 862.8 843.5 863.0 841.5 863.1 839.5 863.3 837.5 863.4 835.5 863.5 833.5 863.6 831.5 863.8 829.5 863.9 827.5 864.0 825.5 864.1 823.5 864.3 821.5 864.4 819.5 864.6 817.5 864.7 815.5 864.9 813.5 865.0 811.5 865.2 809.5 865.4 807.5 865.5 805.5 865.7 803.5 865.8 801.5 866.0 799.5 866.2 797.5 866.3 795.5 866.5 793.5 866.6 791.6 866.8 789.6 867.0 787.6 867.1 785.6 867.3 783.6 867.5 781.6 867.6 779.6 867.8 777.6 867.9 775.6 868.1 773.6 868.3 771.6 868.4 769.6 868.6 767.6 868.8 765.6 869.0 763.6 869.1 761.6 869.3 759.6 869.5 757.6 869.6 755.6 869.8 753.6 870.0 751.6 870.1 749.6 870.3 747.6 870.5 745.6 870.7 743.6 870.8 741.6 871.0 739.6 871.2 737.6 871.3 735.6 871.5 733.7 871.7 731.7 871.9 729.7 872.0 727.7 872.2 725.7 872.4 723.7 872.5 721.7 872.7 719.7 872.9 717.7 873.0 715.7 873.2 713.7 873.4 711.7 873.5 709.7 873.7 707.7 873.9 705.7 874.1 703.7 874.3 701.7 874.4 699.7 874.6 697.7 874.8 695.7 875.0 693.7 875.2 691.7 875.4 689.8 875.6 687.8 875.9 685.8 876.1 683.8 876.3 681.8 876.6 679.8 876.8 677.8 877.0 675.8 877.3 673.8 877.6 671.8 877.8 669.9 878.1 667.9 878.4 665.9 878.7 663.9 879.1 661.9 879.4 660.0 879.8 658.0 880.3 656.1 880.8 654.1 881.4 652.2 882.0 650.3 882.7 648.4 883.4 646.5 884.2 644.7 885.7 643.4 887.4 644.1 888.7 645.7 889.6 647.5 890.5 649.2 891.4 651.1 892.1 652.9 892.8 654.8 893.5 656.7 894.1 658.6 894.8 660.5 895.4 662.4 896.1 664.3 896.8 666.1 897.5 668.0 898.3 669.9 899.0 671.7 899.8 673.6 900.5 675.4 901.3 677.3 902.1 679.1 902.9 681.0 903.7 682.8 904.5 684.7 905.3 686.5 906.1 688.3 907.0 690.1 907.9 691.9 908.7 693.7 909.6 695.5 910.5 697.3 911.4 699.1 912.3 700.9 913.2 702.7 914.2 704.4 915.2 706.1 916.3 707.8 917.4 709.5 918.6 711.1 919.8 712.7 921.1 714.2 922.4 715.8 923.8 717.3 925.1 718.7 926.5 720.1 928.0 721.5 929.5 722.8 931.0 724.1 932.7 725.3 934.4 726.3 936.3 726.9 938.3 727.2 940.3 727.2 942.3 727.1 944.3 726.7 946.2 726.2 948.1 725.6 950.0 725.1 952.0 724.9 954.0 724.9 956.0 725.2 958.0 725.6 959.9 726.1 961.8 726.7 963.7 727.4 965.6 728.1 967.4 728.9 969.2 729.7 971.1 730.6 972.9 731.4 974.7 732.2 976.6 733.0 978.4 733.7 980.3 734.5 982.2 735.2 984.1 735.8 986.0 736.3 988.0 736.5 990.0 736.6 992.0 736.5 994.0 736.2 995.9 735.8 997.9 735.3 999.8 734.7 1001.6 733.9 1003.4 733.0 1005.2 732.1 1006.9 731.0 1008.5 729.8 1010.1 728.6 1011.7 727.4 1013.3 726.2 1014.9 725.0 1016.5 723.8 1018.2 722.7 1019.8 721.5 1021.5 720.4 1023.1 719.2 1024.7 718.0 1026.3 716.9 1028.0 715.8 1029.7 714.7 1031.5 713.7 1033.3 712.9 1035.2 712.3 1037.2 712.0 1039.2 711.9 1041.2 712.1 1043.1 712.4 1045.1 712.9 1047.0 713.4 1048.9 714.0 1050.8 714.7 1052.7 715.3 1054.6 716.1 1056.4 716.9 1058.2 717.8 1059.9 718.8 1061.7 719.8 1063.4 720.8 1065.2 721.7 1067.0 722.6 1068.8 723.5 1070.7 724.1 1072.6 724.6 1074.6 724.8 1076.6 724.9 1078.6 724.8 1080.6 724.8 1082.6 724.8" fill="none" stroke="#000" stroke-width="3.1" stroke-linejoin="round"/></g>
<g id="pf"><rect x="1182" y="622.4" width="439.8" height="489.3" fill="none" stroke="#000" stroke-width="2.8"/>
<path d="M1182 1111.7h-7M1182 1094.23h-7M1182 1076.75h-12M1182 1059.28h-7M1182 1041.8h-7M1182 1024.33h-7M1182 1006.85h-12M1182 989.38h-7M1182 971.9h-7M1182 954.43h-7M1182 936.95h-12M1182 919.48h-7M1182 902h-7M1182 884.53h-7M1182 867.05h-12M1182 849.58h-7M1182 832.1h-7M1182 814.62h-7M1182 797.15h-12M1182 779.67h-7M1182 762.2h-7M1182 744.73h-7M1182 727.25h-12M1182 709.77h-7M1182 692.3h-7M1182 674.83h-7M1182 657.35h-12M1182 639.88h-7M1182 622.4h-7M1182 1111.7v12M1209.49 1111.7v7M1236.97 1111.7v7M1264.46 1111.7v7M1291.95 1111.7v12M1319.44 1111.7v7M1346.92 1111.7v7M1374.41 1111.7v7M1401.9 1111.7v12M1429.39 1111.7v7M1456.88 1111.7v7M1484.36 1111.7v7M1511.85 1111.7v12M1539.34 1111.7v7M1566.83 1111.7v7M1594.31 1111.7v7M1621.8 1111.7v12" stroke="#000" stroke-width="2.8" fill="none"/>
<text transform="translate(1160.5 1084.05) scale(1 1.08)" text-anchor="end" class="t">0.0</text>
<text transform="translate(1160.5 1014.15) scale(1 1.08)" text-anchor="end" class="t">0.2</text>
<text transform="translate(1160.5 944.25) scale(1 1.08)" text-anchor="end" class="t">0.4</text>
<text transform="translate(1160.5 874.35) scale(1 1.08)" text-anchor="end" class="t">0.6</text>
<text transform="translate(1160.5 804.45) scale(1 1.08)" text-anchor="end" class="t">0.8</text>
<text transform="translate(1160.5 734.55) scale(1 1.08)" text-anchor="end" class="t">1.0</text>
<text transform="translate(1160.5 664.65) scale(1 1.08)" text-anchor="end" class="t">1.2</text>
<text transform="translate(1181.4 1151.8) scale(1 1.07)" text-anchor="middle" class="t">-0.04</text>
<text transform="translate(1291.35 1151.8) scale(1 1.07)" text-anchor="middle" class="t">-0.02</text>
<text transform="translate(1401.3 1151.8) scale(1 1.07)" text-anchor="middle" class="t">0.00</text>
<text transform="translate(1511.25 1151.8) scale(1 1.07)" text-anchor="middle" class="t">0.02</text>
<text transform="translate(1621.2 1151.8) scale(1 1.07)" text-anchor="middle" class="t">0.04</text>
<text x="1185.2" y="1187" class="at">Energy relative to e<tspan class="sub" dy="11">0</tspan><tspan dy="-11"> (keV)</tspan></text>
<text transform="translate(1120.6 1059) rotate(-90)" class="at">Normalized Absorptivity</text>
<text x="1212.15" y="683.9" class="pl">(f)</text>
<path d="M1184.4 1076.0 1186.4 1075.9 1188.4 1075.8 1190.4 1075.8 1192.4 1075.7 1194.4 1075.6 1196.4 1075.5 1198.4 1075.5 1200.4 1075.4 1202.4 1075.3 1204.4 1075.2 1206.4 1075.2 1208.4 1075.1 1210.4 1075.0 1212.4 1075.0 1214.4 1074.9 1216.4 1074.8 1218.4 1074.7 1220.4 1074.7 1222.4 1074.6 1224.4 1074.5 1226.4 1074.4 1228.4 1074.4 1230.4 1074.3 1232.4 1074.2 1234.4 1074.1 1236.4 1074.1 1238.4 1074.0 1240.4 1073.9 1242.4 1073.8 1244.4 1073.8 1246.4 1073.7 1248.4 1073.6 1250.4 1073.5 1252.4 1073.5 1254.4 1073.4 1256.4 1073.3 1258.4 1073.2 1260.4 1073.2 1262.4 1073.1 1264.4 1073.0 1266.4 1072.9 1268.4 1072.8 1270.4 1072.7 1272.4 1072.7 1274.4 1072.6 1276.3 1072.5 1278.3 1072.4 1280.3 1072.3 1282.3 1072.2 1284.3 1072.1 1286.3 1072.1 1288.3 1072.0 1290.3 1071.9 1292.3 1071.8 1294.3 1071.7 1296.3 1071.6 1298.3 1071.5 1300.3 1071.4 1302.3 1071.3 1304.3 1071.1 1306.3 1071.0 1308.3 1070.9 1310.3 1070.8 1312.3 1070.6 1314.3 1070.5 1316.3 1070.3 1318.3 1070.0 1320.3 1069.7 1322.2 1069.3 1324.2 1068.9 1326.2 1068.5 1328.1 1068.3 1330.1 1068.1 1332.1 1068.0 1334.1 1067.9 1336.1 1067.7 1338.1 1067.6 1340.1 1067.5 1342.1 1067.3 1344.1 1067.0 1346.1 1066.6 1348.0 1066.1 1349.8 1065.3 1351.6 1064.5 1353.5 1063.7 1355.4 1063.1 1357.3 1062.4 1359.1 1061.6 1360.9 1060.8 1362.7 1059.8 1364.5 1058.9 1366.2 1057.9 1368.0 1057.0 1369.7 1055.9 1371.4 1054.8 1373.0 1053.7 1374.5 1052.4 1375.9 1051.0 1377.3 1049.5 1378.5 1047.9 1379.7 1046.3 1380.9 1044.7 1382.0 1043.0 1383.0 1041.3 1384.0 1039.6 1385.0 1037.8 1385.9 1036.0 1386.8 1034.2 1387.7 1032.4 1388.4 1030.6 1389.2 1028.7 1389.9 1026.9 1390.5 1025.0 1391.1 1023.0 1391.6 1021.1 1392.2 1019.2 1392.7 1017.3 1393.2 1015.3 1393.7 1013.4 1394.2 1011.4 1394.7 1009.5 1395.2 1007.6 1395.7 1005.6 1396.2 1003.7 1396.6 1001.7 1397.1 999.8 1397.6 997.8 1398.0 995.9 1398.5 993.9 1398.9 992.0 1399.3 990.0 1399.8 988.1 1400.2 986.1 1400.7 984.2 1401.1 982.2 1401.6 980.3 1402.1 978.3 1402.5 976.4 1403.0 974.4 1403.4 972.5 1403.9 970.5 1404.3 968.6 1404.8 966.7 1405.4 964.7 1406.0 962.8 1406.7 960.9 1407.4 959.1 1408.1 957.2 1408.9 955.4 1409.8 953.6 1410.7 951.8 1411.6 950.0 1412.5 948.2 1413.4 946.4 1414.4 944.7 1415.6 943.1 1417.4 942.7 1419.1 943.8 1420.4 945.3 1421.5 947.0 1422.5 948.7 1423.4 950.5 1424.3 952.3 1425.1 954.1 1425.9 955.9 1426.7 957.8 1427.4 959.6 1428.1 961.5 1428.9 963.3 1429.6 965.2 1430.4 967.1 1431.2 968.9 1432.0 970.7 1432.8 972.6 1433.6 974.4 1434.4 976.2 1435.2 978.1 1436.0 979.9 1436.8 981.7 1437.7 983.5 1438.5 985.3 1439.4 987.1 1440.3 988.9 1441.1 990.7 1442.0 992.5 1442.9 994.3 1443.8 996.1 1444.7 997.9 1445.6 999.7 1446.5 1001.5 1447.4 1003.3 1448.3 1005.1 1449.2 1006.8 1450.2 1008.6 1451.1 1010.3 1452.1 1012.1 1453.1 1013.8 1454.2 1015.5 1455.2 1017.2 1456.3 1018.9 1457.3 1020.6 1458.4 1022.3 1459.5 1024.0 1460.5 1025.7 1461.5 1027.4 1462.6 1029.1 1463.6 1030.8 1464.7 1032.5 1465.8 1034.2 1466.8 1035.9 1467.9 1037.6 1469.0 1039.3 1470.2 1040.9 1471.3 1042.5 1472.5 1044.2 1473.8 1045.7 1475.0 1047.3 1476.3 1048.8 1477.7 1050.2 1479.1 1051.7 1480.6 1053.0 1482.0 1054.4 1483.5 1055.8 1485.0 1057.1 1486.5 1058.4 1488.1 1059.7 1489.7 1060.9 1491.3 1062.0 1493.1 1062.9 1494.9 1063.7 1496.8 1064.4 1498.8 1064.9 1500.7 1065.2 1502.7 1065.5 1504.7 1065.7 1506.7 1065.9 1508.7 1066.1 1510.7 1066.4 1512.6 1066.7 1514.6 1067.0 1516.6 1067.3 1518.6 1067.6 1520.6 1067.9 1522.5 1068.2 1524.5 1068.5 1526.5 1068.8 1528.5 1069.1 1530.4 1069.4 1532.4 1069.8 1534.3 1070.3 1536.2 1071.0 1538.1 1071.7 1540.0 1072.2 1542.0 1072.6 1544.0 1073.0 1545.9 1073.2 1547.9 1073.5 1549.9 1073.7 1551.9 1073.9 1553.9 1074.1 1555.9 1074.3 1557.9 1074.5 1559.9 1074.7 1561.9 1074.8 1563.9 1075.0 1565.9 1075.2 1567.9 1075.3 1569.9 1075.5 1571.9 1075.6 1573.8 1075.8 1575.8 1075.9 1577.8 1076.0 1579.8 1076.2 1581.8 1076.3 1583.8 1076.4 1585.8 1076.5 1587.8 1076.6 1589.8 1076.7 1591.8 1076.7 1593.8 1076.7 1595.8 1076.7 1597.8 1076.7 1599.8 1076.6 1601.8 1076.6 1603.8 1076.6 1605.8 1076.7 1607.8 1076.9 1609.8 1077.2 1611.8 1077.5 1613.7 1077.9 1615.7 1078.3 1617.7 1078.7 1619.6 1079.0" fill="none" stroke="#000" stroke-width="3.0" stroke-dasharray="21 5.5 3 5.5" stroke-linejoin="round"/>
<path d="M1184.4 1075.9 1186.4 1075.8 1188.4 1075.7 1190.4 1075.6 1192.4 1075.5 1194.4 1075.4 1196.4 1075.3 1198.4 1075.3 1200.4 1075.2 1202.4 1075.1 1204.4 1075.0 1206.4 1074.9 1208.4 1074.8 1210.4 1074.7 1212.4 1074.6 1214.4 1074.5 1216.4 1074.4 1218.4 1074.3 1220.4 1074.3 1222.4 1074.2 1224.4 1074.1 1226.4 1074.0 1228.4 1073.9 1230.4 1073.8 1232.4 1073.7 1234.4 1073.6 1236.4 1073.5 1238.5 1073.4 1240.5 1073.4 1242.5 1073.3 1244.5 1073.2 1246.5 1073.1 1248.5 1073.0 1250.5 1072.9 1252.5 1072.8 1254.5 1072.7 1256.5 1072.6 1258.5 1072.6 1260.5 1072.5 1262.5 1072.4 1264.5 1072.3 1266.5 1072.2 1268.5 1072.1 1270.5 1072.0 1272.5 1072.0 1274.5 1071.9 1276.5 1071.8 1278.5 1071.8 1280.5 1071.7 1282.5 1071.7 1284.5 1071.6 1286.5 1071.6 1288.5 1071.5 1290.6 1071.5 1292.6 1071.5 1294.6 1071.4 1296.6 1071.4 1298.6 1071.3 1300.6 1071.2 1302.6 1071.2 1304.6 1071.0 1306.6 1070.9 1308.6 1070.7 1310.6 1070.5 1312.6 1070.2 1314.5 1069.9 1316.5 1069.4 1318.4 1068.8 1320.3 1068.2 1322.2 1067.4 1324.0 1066.7 1325.9 1065.9 1327.8 1065.3 1329.7 1064.6 1331.6 1064.0 1333.5 1063.3 1335.4 1062.6 1337.2 1062.0 1339.1 1061.3 1341.0 1060.6 1342.9 1059.9 1344.8 1059.2 1346.6 1058.4 1348.5 1057.7 1350.3 1056.9 1352.2 1056.1 1354.0 1055.2 1355.8 1054.4 1357.6 1053.4 1359.3 1052.5 1361.0 1051.4 1362.7 1050.3 1364.3 1049.1 1365.7 1047.7 1367.0 1046.2 1368.2 1044.6 1369.5 1043.0 1370.7 1041.4 1372.0 1039.8 1373.1 1038.2 1374.3 1036.6 1375.3 1034.9 1376.3 1033.1 1377.2 1031.3 1378.1 1029.5 1378.9 1027.7 1379.7 1025.8 1380.4 1024.0 1381.1 1022.1 1381.8 1020.2 1382.5 1018.3 1383.2 1016.4 1383.8 1014.5 1384.5 1012.6 1385.1 1010.7 1385.7 1008.8 1386.2 1006.9 1386.8 1005.0 1387.4 1003.0 1387.9 1001.1 1388.4 999.2 1388.9 997.2 1389.4 995.3 1389.9 993.3 1390.3 991.4 1390.8 989.4 1391.2 987.5 1391.6 985.5 1392.1 983.6 1392.5 981.6 1392.9 979.6 1393.3 977.7 1393.7 975.7 1394.1 973.7 1394.5 971.8 1394.8 969.8 1395.2 967.8 1395.6 965.9 1395.9 963.9 1396.3 961.9 1396.6 959.9 1396.9 957.9 1397.2 956.0 1397.5 954.0 1397.8 952.0 1398.1 950.0 1398.4 948.0 1398.7 946.0 1399.0 944.1 1399.2 942.1 1399.5 940.1 1399.8 938.1 1400.1 936.1 1400.3 934.1 1400.6 932.1 1400.9 930.2 1401.1 928.2 1401.4 926.2 1401.6 924.2 1401.9 922.2 1402.1 920.2 1402.3 918.2 1402.6 916.2 1402.8 914.2 1403.0 912.2 1403.3 910.2 1403.5 908.3 1403.7 906.3 1404.0 904.3 1404.2 902.3 1404.4 900.3 1404.6 898.3 1404.9 896.3 1405.1 894.3 1405.4 892.3 1405.6 890.3 1405.8 888.3 1406.1 886.3 1406.3 884.4 1406.6 882.4 1406.8 880.4 1407.0 878.4 1407.3 876.4 1407.5 874.4 1407.8 872.4 1408.0 870.4 1408.2 868.4 1408.5 866.4 1408.7 864.4 1409.0 862.5 1409.2 860.5 1409.4 858.5 1409.7 856.5 1409.9 854.5 1410.1 852.5 1410.3 850.5 1410.5 848.5 1410.7 846.5 1410.9 844.5 1411.1 842.5 1411.3 840.5 1411.5 838.5 1411.7 836.5 1411.9 834.5 1412.1 832.5 1412.3 830.5 1412.5 828.6 1412.8 826.6 1413.0 824.6 1413.2 822.6 1413.4 820.6 1413.7 818.6 1414.0 816.6 1414.3 814.6 1414.6 812.6 1414.9 810.7 1415.3 808.7 1415.7 806.7 1416.2 804.8 1416.7 802.8 1417.1 800.9 1417.6 798.9 1418.0 797.0 1418.4 795.0 1418.8 793.0 1419.2 791.1 1419.6 789.1 1420.0 787.2 1420.4 785.2 1420.9 783.2 1421.5 781.3 1422.1 779.4 1422.8 777.5 1423.6 775.7 1424.6 774.0 1426.0 772.5 1427.7 771.5 1429.6 771.1 1431.7 771.0 1433.7 771.1 1435.7 771.2 1437.7 771.4 1439.6 771.6 1441.6 772.0 1443.6 772.3 1445.6 772.6 1447.6 772.7 1449.6 772.8 1451.6 772.6 1453.6 772.3 1455.5 771.9 1457.5 771.4 1459.4 770.8 1461.3 770.1 1463.1 769.4 1464.9 768.5 1466.7 767.5 1468.3 766.4 1469.9 765.1 1471.4 763.8 1472.9 762.4 1474.2 760.9 1475.5 759.4 1476.8 757.9 1478.0 756.3 1479.3 754.7 1480.6 753.2 1482.0 751.8 1483.5 750.4 1485.0 749.2 1486.7 748.0 1488.4 747.0 1490.2 746.0 1492.0 745.2 1493.9 744.6 1495.9 744.3 1497.9 744.3 1499.9 744.6 1501.8 745.0 1503.8 745.4 1505.7 745.8 1507.7 746.2 1509.6 746.8 1511.6 747.3 1513.5 747.8 1515.5 748.3 1517.4 748.8 1519.3 749.3 1521.3 749.7 1523.3 749.9 1525.3 749.9 1527.3 749.7 1529.2 749.3 1531.1 748.7 1532.9 747.8 1534.6 746.7 1536.2 745.5 1537.8 744.2 1539.3 742.9 1540.7 741.5 1542.2 740.2 1543.7 738.8 1545.1 737.4 1546.6 736.0 1548.0 734.6 1549.4 733.2 1550.8 731.7 1552.2 730.3 1553.7 728.9 1555.1 727.5 1556.5 726.1 1557.8 724.6 1559.2 723.2 1560.7 721.8 1562.2 720.4 1563.7 719.2 1565.5 718.2 1567.3 717.4 1569.3 717.0 1571.3 716.7 1573.3 716.7 1575.3 716.8 1577.3 717.0 1579.3 717.2 1581.2 717.6 1583.2 718.0 1585.1 718.5 1587.0 719.2 1588.8 720.1 1590.6 720.9 1592.5 721.7 1594.4 722.4 1596.3 722.9 1598.3 723.4 1600.2 723.8 1602.2 724.2 1604.1 724.6 1606.1 725.0 1608.1 725.4 1610.0 725.9 1612.0 726.4 1613.9 727.0 1615.8 727.6 1617.7 728.1 1619.7 728.7" fill="none" stroke="#000" stroke-width="3.0" stroke-dasharray="17 6" stroke-linejoin="round"/>
<path d="M1184.4 1075.7 1186.4 1075.5 1188.4 1075.4 1190.3 1075.2 1192.3 1075.1 1194.3 1075.0 1196.3 1074.8 1198.3 1074.7 1200.3 1074.5 1202.3 1074.4 1204.3 1074.2 1206.3 1074.1 1208.3 1073.9 1210.3 1073.8 1212.3 1073.7 1214.3 1073.5 1216.3 1073.4 1218.3 1073.3 1220.3 1073.1 1222.3 1073.0 1224.3 1072.9 1226.3 1072.8 1228.3 1072.6 1230.3 1072.5 1232.3 1072.4 1234.3 1072.4 1236.3 1072.3 1238.3 1072.2 1240.3 1072.1 1242.3 1072.0 1244.2 1071.9 1246.2 1071.9 1248.2 1071.8 1250.2 1071.7 1252.2 1071.6 1254.2 1071.5 1256.2 1071.4 1258.2 1071.3 1260.2 1071.2 1262.2 1071.1 1264.2 1071.0 1266.2 1070.8 1268.2 1070.7 1270.2 1070.5 1272.2 1070.3 1274.2 1070.1 1276.2 1069.9 1278.2 1069.6 1280.1 1069.4 1282.1 1069.1 1284.1 1068.8 1286.1 1068.5 1288.1 1068.2 1290.0 1067.8 1292.0 1067.5 1294.0 1067.1 1295.9 1066.7 1297.9 1066.3 1299.8 1065.9 1301.8 1065.5 1303.8 1065.1 1305.7 1064.7 1307.7 1064.2 1309.6 1063.7 1311.5 1063.3 1313.5 1062.8 1315.4 1062.3 1317.4 1061.8 1319.3 1061.3 1321.2 1060.7 1323.1 1060.2 1325.1 1059.6 1327.0 1059.0 1328.9 1058.4 1330.8 1057.8 1332.6 1057.1 1334.5 1056.3 1336.3 1055.5 1338.1 1054.5 1339.8 1053.5 1341.5 1052.5 1343.2 1051.5 1344.9 1050.4 1346.6 1049.2 1348.2 1048.1 1349.8 1046.9 1351.4 1045.7 1352.9 1044.4 1354.4 1043.1 1355.9 1041.8 1357.4 1040.4 1358.8 1038.9 1360.1 1037.4 1361.4 1035.9 1362.6 1034.3 1363.7 1032.6 1364.8 1030.9 1365.8 1029.2 1366.8 1027.5 1367.8 1025.8 1368.8 1024.0 1369.7 1022.3 1370.6 1020.5 1371.5 1018.7 1372.3 1016.9 1373.1 1015.0 1373.9 1013.2 1374.7 1011.3 1375.4 1009.5 1376.1 1007.6 1376.8 1005.7 1377.5 1003.8 1378.1 1002.0 1378.8 1000.1 1379.4 998.2 1380.0 996.2 1380.6 994.3 1381.1 992.4 1381.7 990.5 1382.2 988.6 1382.7 986.6 1383.2 984.7 1383.7 982.8 1384.2 980.8 1384.6 978.9 1385.0 976.9 1385.5 974.9 1385.9 973.0 1386.3 971.0 1386.6 969.1 1387.0 967.1 1387.4 965.1 1387.7 963.2 1388.0 961.2 1388.4 959.2 1388.7 957.2 1389.0 955.3 1389.3 953.3 1389.6 951.3 1389.8 949.3 1390.1 947.3 1390.4 945.4 1390.6 943.4 1390.9 941.4 1391.1 939.4 1391.3 937.4 1391.6 935.4 1391.8 933.4 1392.0 931.4 1392.2 929.5 1392.4 927.5 1392.6 925.5 1392.8 923.5 1393.0 921.5 1393.2 919.5 1393.4 917.5 1393.6 915.5 1393.8 913.5 1394.0 911.5 1394.2 909.6 1394.4 907.6 1394.6 905.6 1394.7 903.6 1394.9 901.6 1395.1 899.6 1395.3 897.6 1395.5 895.6 1395.6 893.6 1395.8 891.6 1396.0 889.6 1396.2 887.6 1396.3 885.6 1396.5 883.7 1396.7 881.7 1396.8 879.7 1397.0 877.7 1397.1 875.7 1397.3 873.7 1397.5 871.7 1397.6 869.7 1397.8 867.7 1397.9 865.7 1398.1 863.7 1398.2 861.7 1398.4 859.7 1398.5 857.7 1398.7 855.7 1398.8 853.7 1398.9 851.7 1399.1 849.8 1399.2 847.8 1399.3 845.8 1399.5 843.8 1399.6 841.8 1399.7 839.8 1399.9 837.8 1400.0 835.8 1400.1 833.8 1400.2 831.8 1400.4 829.8 1400.5 827.8 1400.6 825.8 1400.7 823.8 1400.9 821.8 1401.0 819.8 1401.2 817.8 1401.3 815.8 1401.4 813.8 1401.6 811.8 1401.7 809.8 1401.8 807.8 1402.0 805.8 1402.1 803.8 1402.3 801.8 1402.4 799.9 1402.5 797.9 1402.7 795.9 1402.8 793.9 1403.0 791.9 1403.1 789.9 1403.3 787.9 1403.4 785.9 1403.6 783.9 1403.7 781.9 1403.9 779.9 1404.0 777.9 1404.2 775.9 1404.4 773.9 1404.5 771.9 1404.7 769.9 1404.8 767.9 1405.0 766.0 1405.2 764.0 1405.3 762.0 1405.5 760.0 1405.7 758.0 1405.8 756.0 1406.0 754.0 1406.2 752.0 1406.3 750.0 1406.5 748.0 1406.7 746.0 1406.8 744.0 1407.0 742.0 1407.2 740.0 1407.3 738.0 1407.5 736.1 1407.7 734.1 1407.8 732.1 1408.0 730.1 1408.2 728.1 1408.4 726.1 1408.5 724.1 1408.7 722.1 1408.9 720.1 1409.0 718.1 1409.2 716.1 1409.4 714.1 1409.5 712.1 1409.7 710.1 1409.9 708.1 1410.1 706.2 1410.2 704.2 1410.4 702.2 1410.6 700.2 1410.8 698.2 1411.0 696.2 1411.2 694.2 1411.4 692.2 1411.6 690.2 1411.8 688.2 1412.0 686.3 1412.2 684.3 1412.5 682.3 1412.7 680.3 1413.0 678.3 1413.2 676.3 1413.5 674.3 1413.7 672.4 1414.0 670.4 1414.3 668.4 1414.6 666.4 1414.9 664.4 1415.2 662.5 1415.5 660.5 1415.9 658.5 1416.3 656.6 1416.9 654.6 1417.5 652.7 1418.3 650.9 1419.2 649.1 1420.3 647.5 1422.0 646.5 1423.9 647.0 1425.2 648.5 1426.3 650.1 1427.3 651.9 1428.1 653.7 1428.9 655.5 1429.7 657.4 1430.4 659.3 1431.2 661.1 1431.9 663.0 1432.6 664.8 1433.4 666.7 1434.1 668.5 1434.9 670.4 1435.6 672.2 1436.4 674.1 1437.2 675.9 1437.9 677.8 1438.7 679.6 1439.5 681.5 1440.3 683.3 1441.1 685.2 1441.9 687.0 1442.7 688.8 1443.5 690.6 1444.4 692.4 1445.2 694.3 1446.0 696.1 1446.8 697.9 1447.6 699.8 1448.4 701.6 1449.2 703.4 1450.1 705.2 1451.0 707.0 1451.9 708.8 1452.8 710.6 1453.8 712.3 1454.8 714.0 1455.9 715.7 1457.2 717.3 1458.4 718.8 1459.8 720.3 1461.2 721.7 1462.7 723.0 1464.3 724.3 1465.9 725.5 1467.5 726.5 1469.3 727.5 1471.1 728.4 1473.0 729.1 1474.9 729.5 1476.9 729.6 1478.9 729.5 1480.9 729.3 1482.9 729.0 1484.9 728.8 1486.9 728.8 1488.9 728.9 1490.9 729.2 1492.8 729.6 1494.8 730.1 1496.7 730.7 1498.6 731.3 1500.5 732.0 1502.3 732.8 1504.1 733.6 1505.9 734.6 1507.6 735.5 1509.4 736.5 1511.2 737.4 1513.0 738.2 1514.8 739.1 1516.6 739.9 1518.5 740.6 1520.4 741.1 1522.4 741.3 1524.4 741.3 1526.4 741.2 1528.4 740.9 1530.4 740.5 1532.3 740.0 1534.2 739.3 1536.0 738.5 1537.7 737.5 1539.5 736.5 1541.1 735.4 1542.8 734.3 1544.4 733.1 1546.1 732.0 1547.7 730.8 1549.3 729.7 1551.0 728.5 1552.6 727.3 1554.2 726.1 1555.7 724.9 1557.3 723.6 1558.8 722.4 1560.4 721.1 1562.1 720.0 1563.8 719.0 1565.6 718.1 1567.5 717.4 1569.4 717.0 1571.4 716.7 1573.4 716.7 1575.4 716.8 1577.4 717.0 1579.4 717.3 1581.3 717.6 1583.3 718.0 1585.2 718.6 1587.1 719.3 1588.9 720.1 1590.7 720.9 1592.6 721.7 1594.4 722.4 1596.4 722.9 1598.3 723.4 1600.3 723.8 1602.2 724.2 1604.2 724.6 1606.1 725.0 1608.1 725.4 1610.0 725.9 1612.0 726.4 1613.9 727.0 1615.8 727.6 1617.7 728.1 1619.7 728.7" fill="none" stroke="#000" stroke-width="3.1" stroke-linejoin="round"/></g>
<g id="pg"><rect x="100.2" y="1199" width="438.7" height="490" fill="none" stroke="#000" stroke-width="2.8"/>
<path d="M100.2 1689h-7M100.2 1671.5h-7M100.2 1654h-12M100.2 1636.5h-7M100.2 1619h-7M100.2 1601.5h-7M100.2 1584h-12M100.2 1566.5h-7M100.2 1549h-7M100.2 1531.5h-7M100.2 1514h-12M100.2 1496.5h-7M100.2 1479h-7M100.2 1461.5h-7M100.2 1444h-12M100.2 1426.5h-7M100.2 1409h-7M100.2 1391.5h-7M100.2 1374h-12M100.2 1356.5h-7M100.2 1339h-7M100.2 1321.5h-7M100.2 1304h-12M100.2 1286.5h-7M100.2 1269h-7M100.2 1251.5h-7M100.2 1234h-12M100.2 1216.5h-7M100.2 1199h-7M100.2 1689v12M127.62 1689v7M155.04 1689v7M182.46 1689v7M209.88 1689v12M237.29 1689v7M264.71 1689v7M292.13 1689v7M319.55 1689v12M346.97 1689v7M374.39 1689v7M401.81 1689v7M429.22 1689v12M456.64 1689v7M484.06 1689v7M511.48 1689v7M538.9 1689v12" stroke="#000" stroke-width="2.8" fill="none"/>
<text transform="translate(78.7 1661.3) scale(1 1.08)" text-anchor="end" class="t">0.0</text>
<text transform="translate(78.7 1591.3) scale(1 1.08)" text-anchor="end" class="t">0.2</text>
<text transform="translate(78.7 1521.3) scale(1 1.08)" text-anchor="end" class="t">0.4</text>
<text transform="translate(78.7 1451.3) scale(1 1.08)" text-anchor="end" class="t">0.6</text>
<text transform="translate(78.7 1381.3) scale(1 1.08)" text-anchor="end" class="t">0.8</text>
<text transform="translate(78.7 1311.3) scale(1 1.08)" text-anchor="end" class="t">1.0</text>
<text transform="translate(78.7 1241.3) scale(1 1.08)" text-anchor="end" class="t">1.2</text>
<text transform="translate(99.6 1729.1) scale(1 1.07)" text-anchor="middle" class="t">-0.04</text>
<text transform="translate(209.28 1729.1) scale(1 1.07)" text-anchor="middle" class="t">-0.02</text>
<text transform="translate(318.95 1729.1) scale(1 1.07)" text-anchor="middle" class="t">0.00</text>
<text transform="translate(428.62 1729.1) scale(1 1.07)" text-anchor="middle" class="t">0.02</text>
<text transform="translate(538.3 1729.1) scale(1 1.07)" text-anchor="middle" class="t">0.04</text>
<text x="103.4" y="1764.3" class="at">Energy relative to e<tspan class="sub" dy="11">0</tspan><tspan dy="-11"> (keV)</tspan></text>
<text transform="translate(38.8 1636.3) rotate(-90)" class="at">Normalized Absorptivity</text>
<text x="135.25" y="1254.9" class="pl">(g)</text>
<path d="M102.4 1652.5 104.4 1652.4 106.4 1652.3 108.4 1652.3 110.4 1652.2 112.4 1652.1 114.4 1652.0 116.4 1651.9 118.4 1651.9 120.4 1651.8 122.4 1651.7 124.4 1651.6 126.4 1651.5 128.4 1651.5 130.4 1651.4 132.4 1651.3 134.4 1651.2 136.4 1651.2 138.4 1651.1 140.4 1651.0 142.4 1650.9 144.4 1650.8 146.4 1650.8 148.4 1650.7 150.4 1650.6 152.4 1650.5 154.5 1650.5 156.5 1650.4 158.5 1650.3 160.5 1650.2 162.5 1650.1 164.5 1650.1 166.5 1650.0 168.5 1649.9 170.5 1649.8 172.5 1649.8 174.5 1649.7 176.5 1649.6 178.5 1649.5 180.5 1649.4 182.5 1649.4 184.5 1649.3 186.5 1649.2 188.5 1649.1 190.5 1649.1 192.5 1649.0 194.5 1648.9 196.5 1648.9 198.5 1648.8 200.5 1648.7 202.5 1648.7 204.5 1648.6 206.5 1648.6 208.5 1648.5 210.6 1648.4 212.6 1648.4 214.6 1648.3 216.6 1648.3 218.6 1648.2 220.6 1648.1 222.6 1648.0 224.6 1648.0 226.6 1647.9 228.6 1647.7 230.6 1647.6 232.6 1647.4 234.5 1647.0 236.5 1646.5 238.5 1646.2 240.5 1646.1 242.5 1645.9 244.5 1645.8 246.5 1645.6 248.5 1645.4 250.5 1645.2 252.4 1644.9 254.4 1644.5 256.4 1644.1 258.3 1643.7 260.3 1643.2 262.2 1642.7 264.2 1642.2 266.1 1641.6 268.0 1640.9 269.9 1640.2 271.7 1639.5 273.6 1638.8 275.4 1637.9 277.2 1637.0 279.0 1636.1 280.7 1635.1 282.4 1634.1 284.1 1633.0 285.9 1632.0 287.5 1630.9 289.2 1629.7 290.7 1628.5 292.2 1627.2 293.7 1625.7 295.0 1624.2 296.2 1622.6 297.3 1621.0 298.4 1619.3 299.4 1617.5 300.3 1615.8 301.2 1614.0 302.1 1612.2 302.9 1610.3 303.7 1608.5 304.5 1606.7 305.3 1604.8 306.1 1603.0 306.8 1601.1 307.5 1599.2 308.2 1597.3 308.8 1595.4 309.5 1593.5 310.0 1591.6 310.6 1589.7 311.1 1587.8 311.6 1585.8 312.1 1583.9 312.6 1581.9 313.0 1580.0 313.4 1578.0 313.8 1576.0 314.2 1574.1 314.6 1572.1 315.0 1570.1 315.3 1568.2 315.7 1566.2 316.1 1564.2 316.4 1562.3 316.8 1560.3 317.1 1558.3 317.5 1556.3 317.9 1554.4 318.2 1552.4 318.6 1550.4 318.9 1548.4 319.3 1546.5 319.6 1544.5 319.9 1542.5 320.3 1540.5 320.6 1538.6 320.9 1536.6 321.3 1534.6 321.6 1532.6 322.0 1530.7 322.4 1528.7 322.8 1526.7 323.2 1524.8 323.7 1522.8 324.1 1520.9 324.6 1518.9 325.1 1517.0 325.5 1515.0 326.0 1513.1 326.5 1511.1 327.0 1509.2 327.4 1507.2 327.8 1505.3 328.2 1503.3 328.6 1501.3 329.0 1499.4 329.4 1497.4 329.9 1495.5 330.5 1493.5 331.3 1491.7 332.3 1490.0 333.9 1488.8 335.8 1489.3 337.2 1490.7 338.5 1492.2 339.6 1493.9 340.6 1495.6 341.5 1497.4 342.3 1499.2 343.1 1501.1 343.8 1503.0 344.4 1504.9 345.1 1506.8 345.7 1508.7 346.3 1510.6 346.8 1512.5 347.4 1514.5 347.9 1516.4 348.5 1518.3 349.1 1520.2 349.6 1522.2 350.2 1524.1 350.9 1526.0 351.5 1527.9 352.1 1529.8 352.8 1531.7 353.4 1533.6 354.1 1535.5 354.8 1537.4 355.4 1539.2 356.1 1541.1 356.8 1543.0 357.6 1544.9 358.3 1546.7 359.1 1548.6 359.8 1550.4 360.7 1552.3 361.5 1554.1 362.3 1555.9 363.2 1557.7 364.1 1559.5 364.9 1561.3 365.8 1563.1 366.7 1564.9 367.5 1566.8 368.3 1568.6 369.1 1570.4 369.9 1572.3 370.7 1574.1 371.5 1575.9 372.3 1577.8 373.1 1579.6 373.9 1581.5 374.7 1583.3 375.5 1585.2 376.3 1587.0 377.0 1588.8 377.8 1590.7 378.6 1592.5 379.4 1594.4 380.2 1596.2 380.9 1598.1 381.7 1599.9 382.5 1601.8 383.3 1603.6 384.0 1605.5 384.8 1607.3 385.6 1609.2 386.5 1611.0 387.3 1612.8 388.2 1614.6 389.1 1616.4 390.1 1618.1 391.1 1619.9 392.2 1621.5 393.3 1623.2 394.5 1624.8 395.7 1626.4 396.9 1628.0 398.2 1629.6 399.5 1631.1 400.9 1632.5 402.4 1633.8 404.0 1635.0 405.7 1636.2 407.4 1637.2 409.2 1638.1 411.0 1638.9 412.9 1639.6 414.9 1640.1 416.8 1640.5 418.8 1640.7 420.8 1640.7 422.8 1640.7 424.8 1640.7 426.8 1640.7 428.8 1640.7 430.8 1640.8 432.8 1641.1 434.8 1641.5 436.7 1642.1 438.6 1642.7 440.5 1643.4 442.4 1644.1 444.3 1644.7 446.2 1645.3 448.1 1645.8 450.1 1646.3 452.0 1646.7 454.0 1647.2 455.9 1647.6 457.9 1648.1 459.8 1648.6 461.7 1649.2 463.6 1649.9 465.5 1650.6 467.4 1651.3 469.2 1652.1 471.1 1652.7 473.0 1653.4 475.0 1653.9 476.9 1654.2 478.9 1654.4 480.9 1654.5 482.9 1654.4 484.9 1654.2 486.9 1654.0 488.9 1653.8 490.9 1653.5 492.9 1653.2 494.9 1653.0 496.9 1652.9 498.9 1652.8 500.9 1652.9 502.9 1653.0 504.9 1653.3 506.9 1653.6 508.8 1654.0 510.8 1654.4 512.7 1654.9 514.7 1655.3 516.7 1655.6 518.7 1656.0 520.6 1656.2 522.6 1656.4 524.6 1656.6 526.6 1656.8 528.6 1656.9 530.6 1657.0 532.6 1657.2 534.6 1657.3 536.6 1657.5" fill="none" stroke="#000" stroke-width="3.0" stroke-dasharray="21 5.5 3 5.5" stroke-linejoin="round"/>
<path d="M102.4 1652.3 104.4 1652.2 106.4 1652.1 108.4 1652.0 110.4 1651.9 112.4 1651.8 114.4 1651.7 116.4 1651.7 118.4 1651.6 120.4 1651.5 122.4 1651.4 124.4 1651.3 126.4 1651.2 128.4 1651.1 130.4 1651.0 132.4 1650.9 134.4 1650.8 136.4 1650.7 138.4 1650.7 140.4 1650.6 142.4 1650.5 144.4 1650.4 146.4 1650.3 148.4 1650.2 150.4 1650.1 152.4 1650.0 154.4 1649.9 156.4 1649.8 158.4 1649.8 160.4 1649.7 162.4 1649.6 164.4 1649.5 166.4 1649.4 168.4 1649.3 170.4 1649.2 172.4 1649.1 174.4 1649.0 176.4 1649.0 178.4 1648.9 180.4 1648.8 182.4 1648.7 184.4 1648.6 186.4 1648.5 188.4 1648.4 190.4 1648.4 192.4 1648.3 194.4 1648.2 196.4 1648.2 198.4 1648.1 200.4 1648.0 202.4 1648.0 204.4 1647.9 206.4 1647.9 208.4 1647.8 210.4 1647.8 212.4 1647.7 214.4 1647.7 216.4 1647.6 218.4 1647.6 220.4 1647.5 222.4 1647.4 224.4 1647.3 226.4 1647.2 228.4 1647.0 230.4 1646.9 232.4 1646.6 234.4 1646.4 236.4 1646.1 238.4 1645.7 240.3 1645.2 242.3 1644.8 244.2 1644.4 246.2 1644.0 248.2 1643.7 250.1 1643.4 252.1 1643.1 254.1 1642.7 256.1 1642.3 258.0 1641.8 259.9 1641.2 261.8 1640.5 263.6 1639.6 265.4 1638.8 267.2 1637.9 269.0 1636.9 270.7 1636.0 272.4 1635.0 274.2 1633.9 275.9 1632.9 277.6 1631.8 279.2 1630.7 280.8 1629.5 282.4 1628.2 284.0 1627.0 285.5 1625.7 287.0 1624.4 288.5 1623.0 289.8 1621.5 290.9 1619.9 292.0 1618.2 293.1 1616.5 294.2 1614.8 295.2 1613.1 296.2 1611.3 297.1 1609.6 298.0 1607.8 298.9 1606.0 299.7 1604.2 300.5 1602.3 301.2 1600.5 301.9 1598.6 302.6 1596.7 303.3 1594.8 304.0 1592.9 304.6 1591.0 305.2 1589.1 305.8 1587.2 306.4 1585.3 307.0 1583.4 307.6 1581.5 308.1 1579.5 308.6 1577.6 309.1 1575.7 309.6 1573.7 310.1 1571.8 310.5 1569.8 311.0 1567.9 311.4 1565.9 311.8 1563.9 312.2 1562.0 312.6 1560.0 313.0 1558.1 313.3 1556.1 313.7 1554.1 314.1 1552.1 314.4 1550.2 314.7 1548.2 315.1 1546.2 315.4 1544.2 315.7 1542.3 316.0 1540.3 316.4 1538.3 316.7 1536.3 316.9 1534.3 317.2 1532.4 317.5 1530.4 317.8 1528.4 318.1 1526.4 318.3 1524.4 318.6 1522.4 318.9 1520.5 319.1 1518.5 319.4 1516.5 319.7 1514.5 319.9 1512.5 320.2 1510.5 320.4 1508.5 320.7 1506.6 321.0 1504.6 321.2 1502.6 321.5 1500.6 321.7 1498.6 322.0 1496.6 322.2 1494.6 322.4 1492.6 322.7 1490.7 322.9 1488.7 323.1 1486.7 323.4 1484.7 323.6 1482.7 323.8 1480.7 324.1 1478.7 324.3 1476.7 324.5 1474.7 324.8 1472.8 325.0 1470.8 325.2 1468.8 325.5 1466.8 325.7 1464.8 325.9 1462.8 326.2 1460.8 326.4 1458.8 326.7 1456.8 326.9 1454.9 327.1 1452.9 327.4 1450.9 327.6 1448.9 327.8 1446.9 328.1 1444.9 328.3 1442.9 328.6 1440.9 328.8 1438.9 329.0 1437.0 329.3 1435.0 329.5 1433.0 329.7 1431.0 330.0 1429.0 330.2 1427.0 330.5 1425.0 330.7 1423.0 331.0 1421.0 331.2 1419.1 331.5 1417.1 331.7 1415.1 332.0 1413.1 332.2 1411.1 332.5 1409.1 332.7 1407.1 333.0 1405.1 333.2 1403.2 333.4 1401.2 333.6 1399.2 333.8 1397.2 334.0 1395.2 334.2 1393.2 334.4 1391.2 334.7 1389.2 334.9 1387.2 335.1 1385.2 335.4 1383.3 335.8 1381.3 336.2 1379.3 336.7 1377.4 337.4 1375.5 338.3 1373.7 339.4 1372.0 340.7 1370.5 342.2 1369.2 343.9 1368.2 345.9 1367.8 347.8 1368.2 349.6 1369.0 351.4 1370.1 353.1 1371.1 354.8 1372.1 356.5 1373.2 358.1 1374.4 359.8 1375.5 361.5 1376.6 363.3 1377.4 365.2 1377.8 367.2 1377.8 369.1 1377.3 371.0 1376.4 372.6 1375.3 374.2 1374.1 375.7 1372.7 377.0 1371.2 378.3 1369.7 379.5 1368.1 380.7 1366.5 381.9 1364.8 383.0 1363.2 384.1 1361.5 385.2 1359.9 386.3 1358.2 387.4 1356.5 388.4 1354.8 389.4 1353.0 390.4 1351.3 391.4 1349.6 392.4 1347.8 393.4 1346.1 394.4 1344.3 395.4 1342.6 396.3 1340.8 397.3 1339.1 398.2 1337.3 399.1 1335.5 400.1 1333.8 401.0 1332.0 402.0 1330.2 403.0 1328.5 404.0 1326.8 405.0 1325.0 406.0 1323.3 407.0 1321.6 408.1 1319.9 409.2 1318.2 410.5 1316.7 412.0 1315.4 413.8 1314.5 415.8 1314.3 417.8 1314.6 419.6 1315.2 421.4 1316.2 423.1 1317.2 424.8 1318.3 426.3 1319.6 427.8 1320.9 429.3 1322.3 430.8 1323.6 432.3 1324.9 434.1 1325.9 435.9 1326.6 437.9 1327.0 439.9 1327.1 441.9 1327.0 443.9 1326.7 445.8 1326.2 447.7 1325.5 449.5 1324.7 451.3 1323.8 453.0 1322.8 454.8 1321.8 456.4 1320.6 458.0 1319.4 459.4 1318.0 460.8 1316.6 462.1 1315.1 463.4 1313.5 464.7 1312.0 465.9 1310.4 467.2 1308.8 468.4 1307.2 469.6 1305.7 470.8 1304.1 472.1 1302.5 473.4 1301.0 474.6 1299.4 475.9 1297.8 477.1 1296.3 478.4 1294.7 479.6 1293.1 480.9 1291.6 482.3 1290.2 483.8 1288.8 485.4 1287.7 487.2 1286.7 489.1 1286.1 491.1 1285.9 493.1 1286.0 495.1 1286.3 497.0 1286.8 498.8 1287.6 500.6 1288.5 502.4 1289.4 504.2 1290.4 505.9 1291.3 507.6 1292.4 509.3 1293.5 511.0 1294.6 512.6 1295.7 514.3 1296.8 516.0 1297.8 517.8 1298.8 519.6 1299.6 521.5 1300.4 523.3 1301.1 525.2 1301.8 527.1 1302.4 529.0 1303.0 530.9 1303.6 532.9 1304.2 534.8 1304.8 536.7 1305.5" fill="none" stroke="#000" stroke-width="3.0" stroke-dasharray="17 6" stroke-linejoin="round"/>
<path d="M102.4 1652.1 104.4 1652.0 106.4 1651.9 108.4 1651.8 110.4 1651.7 112.4 1651.6 114.4 1651.5 116.4 1651.4 118.4 1651.3 120.4 1651.2 122.4 1651.1 124.4 1651.0 126.4 1650.9 128.4 1650.8 130.4 1650.7 132.4 1650.6 134.4 1650.5 136.4 1650.4 138.4 1650.3 140.4 1650.2 142.4 1650.1 144.4 1649.9 146.4 1649.8 148.4 1649.7 150.4 1649.6 152.4 1649.5 154.4 1649.4 156.4 1649.3 158.4 1649.1 160.4 1649.0 162.4 1648.9 164.4 1648.8 166.4 1648.7 168.4 1648.5 170.4 1648.4 172.4 1648.3 174.4 1648.1 176.4 1648.0 178.4 1647.9 180.4 1647.7 182.4 1647.5 184.4 1647.4 186.4 1647.2 188.4 1647.0 190.4 1646.7 192.4 1646.5 194.4 1646.3 196.3 1646.0 198.3 1645.7 200.3 1645.4 202.3 1645.1 204.3 1644.8 206.2 1644.4 208.2 1644.1 210.2 1643.7 212.2 1643.4 214.1 1643.0 216.1 1642.7 218.1 1642.4 220.1 1642.0 222.0 1641.6 224.0 1641.2 225.9 1640.8 227.9 1640.3 229.9 1639.9 231.8 1639.6 233.8 1639.4 235.8 1639.1 237.8 1638.9 239.8 1638.6 241.7 1638.1 243.7 1637.6 245.5 1636.8 247.4 1636.1 249.2 1635.2 251.0 1634.3 252.8 1633.4 254.6 1632.5 256.3 1631.5 258.0 1630.5 259.8 1629.5 261.5 1628.4 263.1 1627.3 264.8 1626.2 266.4 1624.9 267.9 1623.7 269.5 1622.4 271.0 1621.1 272.5 1619.8 274.0 1618.4 275.5 1617.1 276.9 1615.7 278.4 1614.3 279.7 1612.9 281.1 1611.4 282.3 1609.8 283.5 1608.2 284.7 1606.6 285.8 1604.9 286.8 1603.2 287.8 1601.4 288.7 1599.7 289.7 1597.9 290.5 1596.1 291.4 1594.3 292.2 1592.4 293.0 1590.6 293.8 1588.7 294.5 1586.9 295.3 1585.0 296.0 1583.2 296.7 1581.3 297.4 1579.4 298.1 1577.5 298.7 1575.6 299.4 1573.7 300.0 1571.8 300.6 1569.9 301.1 1568.0 301.7 1566.0 302.2 1564.1 302.7 1562.2 303.1 1560.2 303.6 1558.3 304.0 1556.3 304.5 1554.3 304.9 1552.4 305.3 1550.4 305.7 1548.5 306.0 1546.5 306.4 1544.5 306.8 1542.5 307.1 1540.6 307.5 1538.6 307.8 1536.6 308.1 1534.6 308.5 1532.7 308.8 1530.7 309.1 1528.7 309.4 1526.7 309.7 1524.7 310.0 1522.8 310.2 1520.8 310.5 1518.8 310.8 1516.8 311.0 1514.8 311.3 1512.8 311.5 1510.8 311.7 1508.8 312.0 1506.8 312.2 1504.9 312.4 1502.9 312.6 1500.9 312.8 1498.9 313.0 1496.9 313.2 1494.9 313.4 1492.9 313.6 1490.9 313.8 1488.9 314.0 1486.9 314.2 1484.9 314.4 1482.9 314.6 1480.9 314.8 1478.9 315.0 1476.9 315.1 1474.9 315.3 1472.9 315.5 1470.9 315.6 1468.9 315.8 1467.0 316.0 1465.0 316.1 1463.0 316.3 1461.0 316.4 1459.0 316.6 1457.0 316.8 1455.0 316.9 1453.0 317.1 1451.0 317.2 1449.0 317.4 1447.0 317.5 1445.0 317.6 1443.0 317.8 1441.0 317.9 1439.0 318.1 1437.0 318.2 1435.0 318.3 1433.0 318.5 1431.0 318.6 1429.0 318.7 1427.0 318.8 1425.0 319.0 1423.0 319.1 1421.0 319.2 1419.0 319.3 1417.0 319.4 1415.0 319.5 1413.0 319.6 1411.0 319.7 1409.0 319.8 1407.0 319.9 1405.0 320.1 1403.0 320.2 1401.0 320.2 1399.0 320.3 1397.0 320.4 1395.0 320.5 1393.0 320.6 1390.9 320.6 1388.9 320.7 1386.9 320.8 1384.9 320.8 1382.9 320.9 1380.9 320.9 1378.9 321.0 1376.9 321.1 1374.9 321.2 1372.9 321.2 1370.9 321.3 1368.9 321.4 1366.9 321.5 1364.9 321.7 1362.9 321.8 1360.9 321.9 1358.9 322.1 1356.9 322.2 1354.9 322.4 1352.9 322.5 1350.9 322.7 1348.9 322.8 1346.9 323.0 1344.9 323.2 1342.9 323.4 1340.9 323.5 1338.9 323.7 1336.9 323.9 1334.9 324.1 1332.9 324.2 1330.9 324.4 1329.0 324.6 1327.0 324.8 1325.0 324.9 1323.0 325.1 1321.0 325.3 1319.0 325.4 1317.0 325.6 1315.0 325.8 1313.0 325.9 1311.0 326.1 1309.0 326.2 1307.0 326.4 1305.0 326.6 1303.0 326.7 1301.0 326.9 1299.0 327.0 1297.0 327.2 1295.0 327.3 1293.0 327.5 1291.0 327.6 1289.0 327.8 1287.0 327.9 1285.0 328.1 1283.0 328.3 1281.0 328.4 1279.0 328.6 1277.0 328.8 1275.0 328.9 1273.0 329.1 1271.0 329.2 1269.0 329.4 1267.0 329.6 1265.0 329.7 1263.0 329.9 1261.0 330.0 1259.0 330.2 1257.0 330.4 1255.0 330.6 1253.0 330.7 1251.0 330.9 1249.0 331.1 1247.1 331.3 1245.1 331.5 1243.1 331.7 1241.1 332.0 1239.1 332.2 1237.1 332.5 1235.1 332.8 1233.1 333.1 1231.1 333.4 1229.2 333.7 1227.2 334.1 1225.2 334.5 1223.3 334.9 1221.3 335.4 1219.3 335.9 1217.4 336.5 1215.5 337.2 1213.6 338.3 1212.0 340.2 1211.9 341.5 1213.3 342.4 1215.1 343.2 1217.0 343.9 1218.8 344.5 1220.7 345.1 1222.7 345.7 1224.6 346.2 1226.5 346.7 1228.5 347.2 1230.4 347.6 1232.4 348.1 1234.3 348.6 1236.2 349.1 1238.2 349.6 1240.1 350.1 1242.1 350.6 1244.0 351.2 1245.9 351.7 1247.9 352.2 1249.8 352.8 1251.7 353.3 1253.7 353.8 1255.6 354.4 1257.5 354.9 1259.4 355.5 1261.4 356.1 1263.3 356.7 1265.2 357.3 1267.1 357.9 1269.0 358.6 1270.9 359.2 1272.8 359.9 1274.7 360.6 1276.6 361.3 1278.4 362.0 1280.3 362.8 1282.2 363.6 1284.0 364.4 1285.8 365.2 1287.7 366.1 1289.5 367.0 1291.2 368.0 1293.0 369.0 1294.7 370.1 1296.4 371.2 1298.0 372.4 1299.7 373.6 1301.3 374.9 1302.8 376.2 1304.3 377.6 1305.8 379.0 1307.2 380.5 1308.6 382.0 1309.8 383.7 1311.0 385.4 1312.0 387.2 1312.8 389.1 1313.6 391.0 1314.0 393.0 1314.2 395.0 1313.9 396.8 1313.0 398.4 1311.9 400.0 1310.6 401.6 1309.4 403.3 1308.3 404.9 1307.2 406.6 1306.1 408.3 1305.0 410.0 1303.9 411.8 1303.1 413.7 1302.5 415.7 1302.4 417.7 1302.5 419.7 1302.9 421.6 1303.5 423.4 1304.2 425.2 1305.2 426.8 1306.4 428.3 1307.7 429.8 1309.1 431.2 1310.5 432.6 1311.9 434.2 1313.2 435.8 1314.4 437.5 1315.5 439.2 1316.5 441.0 1317.4 442.8 1318.1 444.8 1318.7 446.7 1319.0 448.7 1319.2 450.7 1319.2 452.7 1319.0 454.7 1318.6 456.6 1318.0 458.4 1317.1 460.0 1315.9 461.6 1314.6 463.0 1313.2 464.3 1311.8 465.7 1310.3 466.9 1308.7 468.2 1307.2 469.5 1305.6 470.7 1304.1 472.0 1302.5 473.3 1301.0 474.6 1299.5 475.9 1297.9 477.2 1296.4 478.4 1294.8 479.6 1293.2 480.9 1291.7 482.3 1290.2 483.8 1288.9 485.4 1287.7 487.2 1286.7 489.1 1286.1 491.1 1285.9 493.1 1286.0 495.0 1286.3 497.0 1286.8 498.8 1287.6 500.6 1288.5 502.4 1289.4 504.1 1290.4 505.9 1291.3 507.6 1292.4 509.3 1293.5 511.0 1294.6 512.6 1295.7 514.3 1296.8 516.0 1297.8 517.8 1298.7 519.6 1299.6 521.5 1300.4 523.3 1301.1 525.2 1301.8 527.1 1302.4 529.0 1303.0 530.9 1303.6 532.8 1304.2 534.8 1304.8 536.7 1305.5" fill="none" stroke="#000" stroke-width="3.1" stroke-linejoin="round"/></g>
<g id="ph"><rect x="646.7" y="1202.6" width="439" height="489.7" fill="none" stroke="#000" stroke-width="2.8"/>
<path d="M646.7 1692.3h-7M646.7 1670.04h-7M646.7 1647.78h-12M646.7 1625.52h-7M646.7 1603.26h-7M646.7 1581h-7M646.7 1558.75h-12M646.7 1536.49h-7M646.7 1514.23h-7M646.7 1491.97h-7M646.7 1469.71h-12M646.7 1447.45h-7M646.7 1425.19h-7M646.7 1402.93h-7M646.7 1380.67h-12M646.7 1358.41h-7M646.7 1336.15h-7M646.7 1313.9h-7M646.7 1291.64h-12M646.7 1269.38h-7M646.7 1247.12h-7M646.7 1224.86h-7M646.7 1202.6h-12M646.7 1692.3v12M674.14 1692.3v7M701.58 1692.3v7M729.01 1692.3v7M756.45 1692.3v12M783.89 1692.3v7M811.33 1692.3v7M838.76 1692.3v7M866.2 1692.3v12M893.64 1692.3v7M921.08 1692.3v7M948.51 1692.3v7M975.95 1692.3v12M1003.39 1692.3v7M1030.83 1692.3v7M1058.26 1692.3v7M1085.7 1692.3v12" stroke="#000" stroke-width="2.8" fill="none"/>
<text transform="translate(625.2 1655.08) scale(1 1.08)" text-anchor="end" class="t">0.0</text>
<text transform="translate(625.2 1566.05) scale(1 1.08)" text-anchor="end" class="t">0.1</text>
<text transform="translate(625.2 1477.01) scale(1 1.08)" text-anchor="end" class="t">0.2</text>
<text transform="translate(625.2 1387.97) scale(1 1.08)" text-anchor="end" class="t">0.3</text>
<text transform="translate(625.2 1298.94) scale(1 1.08)" text-anchor="end" class="t">0.4</text>
<text transform="translate(625.2 1209.9) scale(1 1.08)" text-anchor="end" class="t">0.5</text>
<text transform="translate(646.1 1732.4) scale(1 1.07)" text-anchor="middle" class="t">-0.04</text>
<text transform="translate(755.85 1732.4) scale(1 1.07)" text-anchor="middle" class="t">-0.02</text>
<text transform="translate(865.6 1732.4) scale(1 1.07)" text-anchor="middle" class="t">0.00</text>
<text transform="translate(975.35 1732.4) scale(1 1.07)" text-anchor="middle" class="t">0.02</text>
<text transform="translate(1085.1 1732.4) scale(1 1.07)" text-anchor="middle" class="t">0.04</text>
<text x="649.9" y="1767.6" class="at">Energy relative to e<tspan class="sub" dy="11">0</tspan><tspan dy="-11"> (keV)</tspan></text>
<text transform="translate(585.3 1639.6) rotate(-90)" class="at">Normalized Absorptivity</text>
<text x="671.75" y="1260.8" class="pl">(h)</text>
<path d="M648.4 1642.9 650.4 1642.8 652.4 1642.7 654.4 1642.6 656.4 1642.5 658.4 1642.4 660.4 1642.3 662.4 1642.3 664.4 1642.2 666.4 1642.1 668.4 1642.0 670.4 1641.9 672.4 1641.8 674.4 1641.7 676.4 1641.7 678.4 1641.6 680.4 1641.5 682.4 1641.4 684.4 1641.2 686.4 1641.1 688.4 1641.0 690.4 1640.8 692.4 1640.7 694.4 1640.5 696.4 1640.3 698.3 1640.0 700.3 1639.6 702.3 1639.2 704.2 1638.7 706.2 1638.2 708.1 1637.6 710.0 1637.1 712.0 1636.6 713.9 1636.3 715.9 1636.2 717.9 1636.3 719.9 1636.7 721.8 1637.1 723.8 1637.6 725.8 1637.9 727.8 1638.1 729.8 1638.0 731.8 1637.9 733.7 1637.6 735.7 1637.3 737.7 1636.9 739.7 1636.5 741.6 1636.1 743.6 1635.6 745.5 1635.2 747.5 1634.8 749.4 1634.3 751.4 1633.9 753.3 1633.5 755.3 1633.0 757.3 1632.6 759.2 1632.3 761.2 1632.0 763.2 1631.7 765.2 1631.6 767.2 1631.5 769.2 1631.5 771.2 1631.6 773.2 1631.6 775.2 1631.5 777.2 1631.2 779.1 1630.7 781.0 1629.9 782.7 1628.9 784.4 1627.8 785.9 1626.5 787.4 1625.2 789.0 1623.9 790.6 1622.7 792.3 1621.7 794.1 1620.8 796.0 1620.2 798.0 1619.8 799.9 1619.5 801.9 1619.4 803.9 1619.1 805.9 1618.6 807.7 1617.9 809.6 1617.2 811.4 1616.3 813.1 1615.2 814.8 1614.1 816.4 1612.9 817.9 1611.7 819.5 1610.4 821.0 1609.1 822.5 1607.7 823.9 1606.4 825.4 1605.0 826.8 1603.6 828.2 1602.2 829.6 1600.7 831.0 1599.3 832.4 1597.8 833.6 1596.3 834.9 1594.7 836.0 1593.0 837.1 1591.3 838.1 1589.6 839.1 1587.9 839.9 1586.0 840.7 1584.2 841.4 1582.3 842.1 1580.4 842.7 1578.5 843.3 1576.6 843.9 1574.7 844.5 1572.8 845.0 1570.9 845.6 1568.9 846.1 1567.0 846.6 1565.1 847.1 1563.1 847.6 1561.2 848.0 1559.2 848.4 1557.2 848.8 1555.3 849.1 1553.3 849.4 1551.3 849.8 1549.4 850.0 1547.4 850.3 1545.4 850.6 1543.4 850.8 1541.4 851.0 1539.4 851.3 1537.4 851.5 1535.4 851.7 1533.4 851.9 1531.5 852.1 1529.5 852.3 1527.5 852.5 1525.5 852.7 1523.5 852.9 1521.5 853.1 1519.5 853.2 1517.5 853.4 1515.5 853.6 1513.5 853.8 1511.5 854.0 1509.5 854.2 1507.5 854.4 1505.5 854.6 1503.5 854.8 1501.5 855.0 1499.6 855.3 1497.6 855.5 1495.6 855.7 1493.6 855.9 1491.6 856.2 1489.6 856.4 1487.6 856.6 1485.6 856.8 1483.6 857.0 1481.6 857.3 1479.6 857.5 1477.7 857.7 1475.7 857.9 1473.7 858.2 1471.7 858.4 1469.7 858.6 1467.7 858.9 1465.7 859.1 1463.7 859.4 1461.7 859.6 1459.8 859.9 1457.8 860.2 1455.8 860.5 1453.8 860.9 1451.8 861.3 1449.9 861.7 1447.9 862.2 1446.0 862.6 1444.0 863.0 1442.0 863.2 1440.1 863.5 1438.1 863.7 1436.1 863.9 1434.1 864.1 1432.1 864.2 1430.1 864.4 1428.1 864.5 1426.1 864.7 1424.1 864.8 1422.1 864.9 1420.1 865.1 1418.1 865.2 1416.1 865.3 1414.1 865.5 1412.1 865.6 1410.1 865.7 1408.1 865.9 1406.1 866.0 1404.1 866.1 1402.1 866.2 1400.1 866.4 1398.1 866.5 1396.1 866.6 1394.1 866.8 1392.1 866.9 1390.1 867.1 1388.1 867.2 1386.1 867.4 1384.1 867.5 1382.1 867.7 1380.1 867.8 1378.1 868.0 1376.1 868.2 1374.1 868.3 1372.1 868.5 1370.2 868.7 1368.2 868.8 1366.2 869.0 1364.2 869.2 1362.2 869.3 1360.2 869.5 1358.2 869.6 1356.2 869.8 1354.2 869.9 1352.2 870.1 1350.2 870.2 1348.2 870.3 1346.2 870.5 1344.2 870.6 1342.2 870.7 1340.2 870.9 1338.2 871.0 1336.2 871.2 1334.2 871.3 1332.2 871.5 1330.2 871.6 1328.2 871.8 1326.2 872.0 1324.2 872.2 1322.2 872.4 1320.2 872.7 1318.2 872.9 1316.3 873.3 1314.3 873.7 1312.3 874.1 1310.4 874.7 1308.4 875.3 1306.5 876.1 1304.7 877.1 1303.0 878.7 1301.8 880.6 1302.4 881.8 1303.9 882.8 1305.7 883.7 1307.4 884.5 1309.3 885.1 1311.2 885.6 1313.1 886.0 1315.1 886.4 1317.1 886.7 1319.0 887.1 1321.0 887.4 1323.0 887.7 1325.0 888.0 1327.0 888.3 1328.9 888.6 1330.9 888.9 1332.9 889.2 1334.9 889.5 1336.9 889.8 1338.8 890.1 1340.8 890.5 1342.8 890.8 1344.8 891.1 1346.7 891.5 1348.7 891.8 1350.7 892.2 1352.7 892.6 1354.6 892.9 1356.6 893.3 1358.6 893.7 1360.5 894.1 1362.5 894.4 1364.5 894.8 1366.4 895.2 1368.4 895.6 1370.4 896.0 1372.3 896.3 1374.3 896.7 1376.3 897.1 1378.2 897.5 1380.2 897.8 1382.2 898.2 1384.1 898.6 1386.1 899.0 1388.1 899.3 1390.0 899.7 1392.0 900.1 1394.0 900.4 1396.0 900.8 1397.9 901.2 1399.9 901.5 1401.9 901.9 1403.8 902.3 1405.8 902.6 1407.8 903.0 1409.7 903.3 1411.7 903.7 1413.7 904.0 1415.7 904.4 1417.6 904.7 1419.6 905.0 1421.6 905.4 1423.6 905.7 1425.5 906.1 1427.5 906.5 1429.5 906.8 1431.4 907.2 1433.4 907.6 1435.4 908.1 1437.3 908.5 1439.3 909.0 1441.2 909.5 1443.2 910.0 1445.1 910.5 1447.0 911.0 1449.0 911.5 1450.9 912.0 1452.9 912.5 1454.8 913.1 1456.7 913.6 1458.7 914.1 1460.6 914.6 1462.5 915.1 1464.5 915.5 1466.4 916.0 1468.4 916.4 1470.3 916.9 1472.3 917.3 1474.2 917.7 1476.2 918.1 1478.2 918.5 1480.1 918.9 1482.1 919.3 1484.1 919.7 1486.0 920.1 1488.0 920.5 1490.0 920.8 1491.9 921.2 1493.9 921.6 1495.9 922.0 1497.8 922.4 1499.8 922.7 1501.8 923.1 1503.7 923.5 1505.7 923.9 1507.6 924.3 1509.6 924.7 1511.6 925.2 1513.5 925.6 1515.5 926.1 1517.4 926.5 1519.4 927.0 1521.3 927.5 1523.3 928.0 1525.2 928.5 1527.2 929.0 1529.1 929.5 1531.0 930.0 1533.0 930.5 1534.9 931.0 1536.8 931.6 1538.8 932.1 1540.7 932.6 1542.6 933.1 1544.6 933.6 1546.5 934.1 1548.5 934.6 1550.4 935.1 1552.3 935.5 1554.3 935.9 1556.3 936.4 1558.2 936.8 1560.2 937.2 1562.1 937.6 1564.1 938.0 1566.1 938.5 1568.0 938.9 1570.0 939.4 1571.9 940.0 1573.8 940.6 1575.7 941.4 1577.6 942.4 1579.3 943.5 1581.0 944.6 1582.7 945.6 1584.4 946.5 1586.2 947.5 1587.9 948.4 1589.7 949.5 1591.4 950.6 1593.0 951.8 1594.6 953.1 1596.2 954.5 1597.7 955.8 1599.1 957.2 1600.5 958.7 1601.9 960.1 1603.3 961.6 1604.7 963.1 1606.0 964.6 1607.3 966.2 1608.6 967.8 1609.8 969.4 1610.9 971.1 1612.0 972.8 1613.0 974.6 1613.9 976.4 1614.8 978.3 1615.5 980.2 1616.2 982.1 1616.8 983.9 1617.5 985.8 1618.4 987.5 1619.4 989.2 1620.5 990.8 1621.6 992.4 1622.8 994.0 1624.0 995.6 1625.2 997.3 1626.4 998.9 1627.5 1000.6 1628.6 1002.3 1629.7 1004.0 1630.7 1005.7 1631.7 1007.5 1632.7 1009.3 1633.5 1011.2 1634.2 1013.1 1634.8 1015.1 1635.2 1017.0 1635.7 1018.9 1636.3 1020.7 1637.1 1022.5 1638.1 1024.2 1639.2 1025.8 1640.4 1027.4 1641.6 1029.0 1642.8 1030.6 1644.0 1032.3 1645.1 1034.0 1646.2 1035.7 1647.2 1037.4 1648.2 1039.2 1649.0 1041.2 1649.5 1043.2 1649.4 1045.1 1648.8 1046.9 1648.0 1048.8 1647.4 1050.8 1647.0 1052.8 1646.6 1054.7 1646.2 1056.7 1645.9 1058.7 1645.5 1060.7 1645.3 1062.7 1645.1 1064.7 1645.0 1066.6 1645.2 1068.6 1645.6 1070.5 1646.1 1072.5 1646.7 1074.4 1647.2 1076.3 1647.7 1078.3 1648.2 1080.2 1648.6 1082.2 1649.1 1084.1 1649.5" fill="none" stroke="#808000" stroke-width="3.0" stroke-linejoin="round" stroke-linecap="round"/>
<path d="M648.3 1645.4 650.1 1646.3 651.9 1647.2 653.9 1647.7 655.8 1647.5 657.6 1646.7 659.3 1645.5 660.8 1644.3 662.4 1643.0 664.0 1641.8 665.8 1640.9 667.7 1640.6 669.6 1641.3 671.4 1642.1 673.3 1642.6 675.3 1642.8 677.3 1643.0 679.3 1643.1 681.3 1643.2 683.3 1643.3 685.3 1643.4 687.3 1643.5 689.3 1643.6 691.3 1643.6 693.3 1643.7 695.3 1643.8 697.3 1643.8 699.3 1643.9 701.3 1643.9 703.3 1644.0 705.3 1644.0 707.3 1644.0 709.3 1643.9 711.3 1643.9 713.3 1643.8 715.3 1643.7 717.3 1643.6 719.3 1643.4 721.3 1643.1 723.2 1642.7 725.2 1642.2 727.1 1641.6 729.0 1640.9 730.8 1640.2 732.7 1639.4 734.5 1638.6 736.4 1637.8 738.2 1637.1 740.2 1636.6 742.1 1636.1 744.1 1635.8 746.1 1635.7 748.1 1635.6 750.1 1635.6 752.1 1635.7 754.1 1635.8 756.1 1635.9 758.1 1636.0 760.1 1636.1 762.1 1636.2 764.1 1636.2 766.1 1636.1 768.1 1635.8 770.0 1635.5 772.0 1635.1 773.9 1634.7 775.9 1634.1 777.8 1633.5 779.7 1632.9 781.6 1632.2 783.5 1631.6 785.3 1630.9 787.2 1630.2 789.1 1629.4 790.9 1628.6 792.7 1627.9 794.6 1627.0 796.4 1626.2 798.2 1625.3 800.0 1624.5 801.8 1623.6 803.6 1622.7 805.4 1621.8 807.1 1620.9 808.9 1619.9 810.6 1618.9 812.3 1617.8 814.0 1616.7 815.6 1615.5 817.2 1614.4 818.8 1613.1 820.4 1611.9 821.9 1610.6 823.5 1609.3 824.9 1608.0 826.4 1606.6 827.7 1605.1 829.0 1603.6 830.2 1601.9 831.3 1600.3 832.3 1598.6 833.3 1596.8 834.3 1595.1 835.4 1593.4 836.5 1591.8 837.7 1590.2 838.8 1588.5 839.9 1586.8 840.8 1585.0 841.5 1583.2 842.3 1581.3 842.9 1579.4 843.6 1577.5 844.3 1575.6 844.9 1573.7 845.5 1571.8 846.1 1569.9 846.6 1568.0 847.1 1566.0 847.6 1564.1 848.1 1562.2 848.6 1560.2 849.0 1558.3 849.4 1556.3 849.8 1554.3 850.1 1552.4 850.4 1550.4 850.7 1548.4 851.0 1546.4 851.3 1544.4 851.6 1542.5 851.8 1540.5 852.1 1538.5 852.3 1536.5 852.5 1534.5 852.7 1532.5 853.0 1530.5 853.2 1528.5 853.4 1526.5 853.6 1524.6 853.8 1522.6 854.0 1520.6 854.2 1518.6 854.4 1516.6 854.6 1514.6 854.8 1512.6 855.1 1510.6 855.3 1508.6 855.5 1506.6 855.7 1504.7 855.9 1502.7 856.2 1500.7 856.4 1498.7 856.6 1496.7 856.8 1494.7 857.0 1492.7 857.3 1490.7 857.5 1488.7 857.7 1486.8 857.9 1484.8 858.1 1482.8 858.3 1480.8 858.6 1478.8 858.8 1476.8 859.0 1474.8 859.2 1472.8 859.4 1470.8 859.7 1468.8 859.9 1466.9 860.1 1464.9 860.4 1462.9 860.6 1460.9 860.9 1458.9 861.2 1456.9 861.5 1455.0 861.8 1453.0 862.2 1451.0 862.6 1449.1 863.0 1447.1 863.5 1445.2 864.0 1443.2 864.4 1441.3 864.7 1439.3 865.0 1437.3 865.2 1435.3 865.3 1433.3 865.4 1431.3 865.5 1429.3 865.6 1427.3 865.7 1425.3 865.8 1423.3 865.9 1421.3 866.1 1419.3 866.2 1417.3 866.4 1415.3 866.6 1413.3 866.7 1411.3 866.9 1409.3 867.0 1407.3 867.2 1405.4 867.3 1403.4 867.5 1401.4 867.7 1399.4 867.8 1397.4 868.0 1395.4 868.1 1393.4 868.3 1391.4 868.5 1389.4 868.6 1387.4 868.8 1385.4 868.9 1383.4 869.1 1381.4 869.2 1379.4 869.4 1377.4 869.5 1375.4 869.7 1373.4 869.8 1371.4 870.0 1369.4 870.2 1367.4 870.3 1365.4 870.5 1363.5 870.7 1361.5 870.8 1359.5 871.0 1357.5 871.2 1355.5 871.4 1353.5 871.6 1351.5 871.7 1349.5 871.9 1347.5 872.1 1345.5 872.3 1343.5 872.5 1341.5 872.7 1339.5 872.9 1337.5 873.1 1335.6 873.3 1333.6 873.5 1331.6 873.7 1329.6 874.0 1327.6 874.2 1325.6 874.5 1323.6 874.8 1321.7 875.2 1319.7 875.6 1317.7 876.2 1315.8 876.8 1313.9 877.5 1312.0 878.5 1310.3 880.2 1309.3 882.0 1310.0 883.2 1311.5 884.1 1313.3 884.9 1315.1 885.5 1317.0 886.0 1319.0 886.5 1320.9 886.9 1322.9 887.2 1324.9 887.6 1326.8 887.9 1328.8 888.3 1330.8 888.6 1332.7 888.9 1334.7 889.2 1336.7 889.6 1338.7 889.9 1340.6 890.2 1342.6 890.5 1344.6 890.9 1346.6 891.2 1348.5 891.5 1350.5 891.9 1352.5 892.2 1354.5 892.5 1356.4 892.9 1358.4 893.3 1360.4 893.7 1362.3 894.0 1364.3 894.4 1366.3 894.8 1368.2 895.2 1370.2 895.6 1372.1 896.0 1374.1 896.4 1376.1 896.8 1378.0 897.2 1380.0 897.6 1382.0 898.0 1383.9 898.4 1385.9 898.7 1387.9 899.1 1389.8 899.4 1391.8 899.8 1393.8 900.1 1395.7 900.5 1397.7 900.8 1399.7 901.2 1401.6 901.5 1403.6 901.9 1405.6 902.2 1407.6 902.6 1409.5 902.9 1411.5 903.2 1413.5 903.6 1415.5 903.9 1417.4 904.2 1419.4 904.6 1421.4 904.9 1423.3 905.2 1425.3 905.6 1427.3 905.9 1429.3 906.3 1431.2 906.7 1433.2 907.1 1435.2 907.5 1437.1 907.9 1439.1 908.4 1441.0 908.9 1443.0 909.4 1444.9 909.9 1446.8 910.4 1448.8 910.9 1450.7 911.4 1452.6 912.0 1454.6 912.5 1456.5 913.0 1458.4 913.5 1460.4 914.0 1462.3 914.5 1464.2 915.0 1466.2 915.5 1468.1 916.0 1470.1 916.4 1472.0 916.8 1474.0 917.2 1475.9 917.7 1477.9 918.1 1479.8 918.4 1481.8 918.8 1483.8 919.2 1485.7 919.6 1487.7 920.0 1489.7 920.3 1491.6 920.7 1493.6 921.1 1495.6 921.4 1497.5 921.8 1499.5 922.2 1501.5 922.6 1503.4 922.9 1505.4 923.3 1507.4 923.7 1509.3 924.1 1511.3 924.5 1513.3 924.9 1515.2 925.4 1517.2 925.8 1519.1 926.2 1521.1 926.7 1523.0 927.1 1525.0 927.6 1526.9 928.1 1528.9 928.5 1530.8 929.0 1532.8 929.5 1534.7 930.0 1536.6 930.4 1538.6 930.9 1540.5 931.4 1542.5 931.9 1544.4 932.4 1546.4 932.9 1548.3 933.4 1550.2 933.8 1552.2 934.3 1554.1 934.8 1556.1 935.2 1558.0 935.7 1560.0 936.1 1561.9 936.6 1563.9 937.0 1565.8 937.5 1567.8 937.9 1569.7 938.4 1571.7 938.9 1573.6 939.4 1575.5 940.0 1577.5 940.6 1579.4 941.2 1581.3 941.8 1583.2 942.5 1585.1 943.2 1586.9 943.8 1588.8 944.6 1590.7 945.3 1592.6 946.0 1594.4 946.8 1596.3 947.6 1598.1 948.5 1599.9 949.3 1601.7 950.3 1603.5 951.3 1605.2 952.3 1606.9 953.4 1608.6 954.6 1610.2 955.9 1611.7 957.3 1613.2 958.7 1614.6 960.2 1615.9 961.8 1617.1 963.4 1618.3 965.0 1619.5 966.8 1620.5 968.5 1621.4 970.4 1622.2 972.2 1623.0 974.1 1623.7 976.0 1624.4 977.8 1625.1 979.7 1625.9 981.5 1626.7 983.3 1627.5 985.1 1628.4 986.9 1629.2 988.8 1630.1 990.6 1630.9 992.4 1631.8 994.2 1632.6 996.1 1633.4 997.9 1634.1 999.8 1634.8 1001.7 1635.5 1003.6 1636.2 1005.5 1636.8 1007.4 1637.4 1009.3 1638.0 1011.2 1638.6 1013.1 1639.2 1015.0 1639.7 1016.9 1640.3 1018.9 1640.8 1020.8 1641.3 1022.7 1641.9 1024.7 1642.4 1026.6 1643.0 1028.5 1643.5 1030.4 1644.1 1032.3 1644.8 1034.2 1645.4 1036.1 1646.1 1038.0 1646.8 1039.9 1647.5 1041.7 1648.1 1043.6 1648.8 1045.5 1649.5 1047.4 1650.2 1049.3 1650.8 1051.2 1651.5 1053.1 1652.0 1055.0 1652.5 1056.9 1653.1 1058.9 1653.7 1060.8 1654.3 1062.7 1654.9 1064.6 1655.5 1066.5 1656.1 1068.4 1656.7 1070.3 1657.3 1072.2 1657.8 1074.2 1658.3 1076.1 1658.7 1078.1 1658.9 1080.1 1659.0 1082.1 1659.0 1084.1 1659.0" fill="none" stroke="#FF8000" stroke-width="3.0" stroke-linejoin="round" stroke-linecap="round"/>
<path d="M648.4 1643.5 650.4 1643.6 652.4 1643.8 654.4 1643.9 656.4 1644.1 658.4 1644.2 660.4 1644.4 662.3 1644.5 664.3 1644.7 666.3 1644.8 668.3 1645.0 670.3 1645.1 672.3 1645.2 674.3 1645.3 676.3 1645.4 678.3 1645.5 680.3 1645.5 682.3 1645.5 684.4 1645.5 686.4 1645.4 688.4 1645.3 690.3 1645.1 692.3 1644.9 694.3 1644.7 696.3 1644.4 698.3 1644.1 700.3 1643.9 702.3 1643.6 704.2 1643.3 706.2 1643.0 708.2 1642.8 710.2 1642.5 712.2 1642.2 714.2 1641.9 716.2 1641.6 718.1 1641.3 720.1 1641.0 722.1 1640.8 724.1 1640.5 726.1 1640.2 728.0 1639.9 730.0 1639.6 732.0 1639.3 734.0 1639.0 736.0 1638.7 737.9 1638.4 739.9 1638.1 741.9 1637.9 743.9 1637.6 745.9 1637.3 747.9 1637.1 749.9 1636.9 751.9 1636.7 753.9 1636.6 755.9 1636.5 757.9 1636.4 759.9 1636.3 761.9 1636.3 763.9 1636.3 765.9 1636.2 767.9 1636.2 769.9 1636.1 771.9 1636.0 773.9 1635.8 775.9 1635.6 777.8 1635.2 779.8 1634.8 781.7 1634.3 783.6 1633.6 785.5 1632.9 787.3 1632.2 789.2 1631.3 791.0 1630.5 792.8 1629.6 794.6 1628.7 796.4 1627.8 798.2 1627.0 800.0 1626.2 801.9 1625.5 803.8 1624.9 805.7 1624.4 807.7 1624.1 809.7 1623.9 811.7 1623.8 813.7 1623.6 815.7 1623.5 817.7 1623.2 819.6 1622.7 821.5 1621.9 823.1 1620.8 824.7 1619.5 826.1 1618.1 827.5 1616.6 828.7 1615.1 830.0 1613.5 831.2 1611.9 832.4 1610.3 833.6 1608.7 834.9 1607.2 836.1 1605.6 837.3 1604.0 838.4 1602.3 839.4 1600.6 840.3 1598.8 841.2 1597.0 842.0 1595.2 842.8 1593.3 843.6 1591.5 844.4 1589.6 845.1 1587.8 845.9 1585.9 846.6 1584.1 847.4 1582.2 848.1 1580.3 848.8 1578.5 849.5 1576.6 850.2 1574.7 851.0 1572.9 851.7 1571.0 852.4 1569.1 853.2 1567.3 853.9 1565.4 854.7 1563.6 855.3 1561.7 856.0 1559.8 856.6 1557.9 857.1 1555.9 857.5 1554.0 858.0 1552.0 858.4 1550.1 858.7 1548.1 859.1 1546.1 859.4 1544.1 859.7 1542.2 860.0 1540.2 860.3 1538.2 860.6 1536.2 860.9 1534.2 861.1 1532.2 861.4 1530.3 861.6 1528.3 861.9 1526.3 862.1 1524.3 862.4 1522.3 862.6 1520.3 862.8 1518.3 863.1 1516.3 863.3 1514.3 863.5 1512.4 863.7 1510.4 864.0 1508.4 864.2 1506.4 864.4 1504.4 864.6 1502.4 864.8 1500.4 865.0 1498.4 865.2 1496.4 865.4 1494.4 865.6 1492.4 865.7 1490.4 865.9 1488.4 866.1 1486.4 866.2 1484.5 866.4 1482.5 866.6 1480.5 866.7 1478.5 866.9 1476.5 867.0 1474.5 867.2 1472.5 867.4 1470.5 867.5 1468.5 867.7 1466.5 867.9 1464.5 868.0 1462.5 868.2 1460.5 868.4 1458.5 868.5 1456.5 868.7 1454.5 868.9 1452.5 869.0 1450.5 869.2 1448.5 869.3 1446.5 869.5 1444.5 869.6 1442.5 869.8 1440.5 870.0 1438.5 870.1 1436.5 870.3 1434.5 870.4 1432.5 870.6 1430.5 870.7 1428.5 870.8 1426.5 871.0 1424.6 871.1 1422.6 871.2 1420.6 871.4 1418.6 871.5 1416.6 871.7 1414.6 871.8 1412.6 872.0 1410.6 872.2 1408.6 872.3 1406.6 872.5 1404.6 872.7 1402.6 873.0 1400.6 873.2 1398.6 873.5 1396.6 873.7 1394.6 874.0 1392.7 874.3 1390.7 874.7 1388.7 875.0 1386.7 875.4 1384.8 875.7 1382.8 876.1 1380.8 876.4 1378.9 876.8 1376.9 877.2 1374.9 877.5 1372.9 877.9 1371.0 878.3 1369.0 878.7 1367.0 879.1 1365.1 879.6 1363.1 880.2 1361.2 880.8 1359.3 881.6 1357.5 882.6 1355.8 884.1 1354.4 885.8 1355.2 886.6 1357.0 887.3 1358.9 887.8 1360.8 888.3 1362.8 888.7 1364.7 889.2 1366.7 889.6 1368.6 890.2 1370.5 890.9 1372.4 891.6 1374.3 892.3 1376.2 892.8 1378.1 893.2 1380.1 893.6 1382.0 893.9 1384.0 894.3 1386.0 894.6 1387.9 894.9 1389.9 895.2 1391.9 895.6 1393.9 895.9 1395.9 896.2 1397.8 896.6 1399.8 897.0 1401.8 897.4 1403.7 897.8 1405.7 898.3 1407.6 898.7 1409.6 899.2 1411.5 899.7 1413.5 900.2 1415.4 900.7 1417.4 901.1 1419.3 901.6 1421.3 902.0 1423.2 902.4 1425.2 902.9 1427.1 903.3 1429.1 903.7 1431.0 904.1 1433.0 904.4 1435.0 904.8 1436.9 905.2 1438.9 905.5 1440.9 905.9 1442.9 906.2 1444.8 906.5 1446.8 906.9 1448.8 907.2 1450.8 907.6 1452.7 907.9 1454.7 908.2 1456.7 908.6 1458.7 908.9 1460.6 909.2 1462.6 909.6 1464.6 909.9 1466.6 910.3 1468.5 910.6 1470.5 911.0 1472.5 911.4 1474.4 911.8 1476.4 912.2 1478.4 912.6 1480.3 913.0 1482.3 913.4 1484.2 913.9 1486.2 914.3 1488.1 914.8 1490.1 915.3 1492.0 915.8 1494.0 916.2 1495.9 916.7 1497.9 917.2 1499.8 917.7 1501.7 918.2 1503.7 918.7 1505.6 919.2 1507.6 919.7 1509.5 920.1 1511.5 920.6 1513.4 921.1 1515.4 921.5 1517.3 922.0 1519.3 922.4 1521.2 922.9 1523.2 923.3 1525.1 923.8 1527.1 924.2 1529.0 924.7 1531.0 925.1 1532.9 925.6 1534.9 926.0 1536.8 926.4 1538.8 926.9 1540.7 927.3 1542.7 927.8 1544.6 928.2 1546.6 928.7 1548.5 929.2 1550.5 929.6 1552.4 930.1 1554.4 930.6 1556.3 931.1 1558.3 931.6 1560.2 932.1 1562.2 932.6 1564.1 933.0 1566.0 933.6 1568.0 934.1 1569.9 934.6 1571.8 935.1 1573.8 935.6 1575.7 936.1 1577.6 936.7 1579.6 937.2 1581.5 937.8 1583.4 938.4 1585.3 939.0 1587.2 939.7 1589.1 940.4 1591.0 941.2 1592.9 942.0 1594.7 943.0 1596.4 944.2 1598.0 945.6 1599.5 946.9 1600.9 948.3 1602.4 949.8 1603.8 951.2 1605.1 952.7 1606.5 954.3 1607.7 955.8 1609.0 957.4 1610.2 959.1 1611.3 960.7 1612.5 962.5 1613.5 964.2 1614.4 966.0 1615.3 967.8 1616.2 969.6 1617.1 971.4 1618.0 973.2 1618.9 974.9 1620.0 976.6 1621.0 978.2 1622.2 979.9 1623.3 981.5 1624.5 983.1 1625.6 984.7 1626.8 986.4 1628.0 988.0 1629.2 989.6 1630.4 991.3 1631.5 992.9 1632.6 994.6 1633.7 996.4 1634.7 998.1 1635.6 999.9 1636.5 1001.7 1637.4 1003.5 1638.3 1005.3 1639.1 1007.1 1640.0 1009.0 1640.8 1010.9 1641.5 1012.8 1642.0 1014.7 1642.4 1016.7 1642.6 1018.7 1642.8 1020.7 1642.9 1022.7 1642.9 1024.7 1643.0 1026.7 1643.0 1028.7 1643.0 1030.7 1643.0 1032.7 1643.0 1034.7 1643.0 1036.7 1643.2 1038.7 1643.4 1040.7 1643.8 1042.6 1644.3 1044.6 1644.7 1046.5 1645.2 1048.5 1645.7 1050.4 1646.1 1052.4 1646.5 1054.4 1646.8 1056.4 1647.2 1058.3 1647.5 1060.3 1647.8 1062.3 1648.1 1064.3 1648.4 1066.3 1648.7 1068.2 1649.0 1070.2 1649.3 1072.2 1649.5 1074.2 1649.8 1076.2 1650.0 1078.2 1650.2 1080.2 1650.5 1082.2 1650.7 1084.1 1651.0" fill="none" stroke="#00FFFF" stroke-width="3.0" stroke-linejoin="round" stroke-linecap="round"/>
<path d="M648.3 1647.9 650.0 1649.0 651.8 1649.9 653.8 1650.1 655.7 1649.7 657.5 1648.8 659.3 1647.9 661.0 1646.9 662.8 1645.9 664.6 1645.0 666.4 1644.2 668.3 1643.5 670.2 1642.9 672.2 1642.6 674.2 1642.3 676.1 1642.1 678.1 1642.0 680.2 1641.9 682.2 1641.8 684.2 1641.8 686.2 1641.7 688.2 1641.6 690.2 1641.5 692.2 1641.3 694.2 1641.1 696.1 1640.8 698.1 1640.5 700.1 1640.1 702.0 1639.7 704.0 1639.2 706.0 1638.8 707.9 1638.3 709.9 1637.9 711.8 1637.5 713.8 1637.0 715.7 1636.7 717.7 1636.3 719.7 1636.1 721.7 1635.9 723.7 1635.8 725.7 1635.8 727.7 1636.1 729.7 1636.6 731.5 1637.2 733.3 1638.2 735.0 1639.3 736.6 1640.5 738.2 1641.6 740.0 1642.6 741.9 1643.3 743.8 1643.3 745.8 1642.8 747.6 1641.9 749.3 1640.9 751.0 1639.8 752.8 1638.9 754.6 1638.1 756.6 1637.7 758.6 1637.5 760.6 1637.5 762.6 1637.5 764.6 1637.3 766.5 1636.9 768.4 1636.3 770.3 1635.5 772.1 1634.7 773.9 1633.8 775.7 1632.9 777.5 1632.1 779.4 1631.3 781.2 1630.5 783.2 1630.0 785.1 1629.7 787.1 1629.8 789.1 1630.3 790.9 1631.1 792.7 1632.0 794.5 1633.0 796.3 1633.8 798.2 1634.3 800.2 1634.0 801.9 1633.0 803.4 1631.6 804.9 1630.2 806.4 1629.0 808.0 1627.7 809.5 1626.4 811.0 1625.1 812.6 1623.9 814.3 1622.8 816.2 1622.1 818.2 1621.9 820.2 1622.0 822.2 1622.0 824.1 1621.5 825.7 1620.3 827.0 1618.8 828.0 1617.1 829.0 1615.3 830.0 1613.6 831.0 1611.8 832.2 1610.2 833.8 1609.1 835.7 1609.4 837.4 1610.6 838.9 1611.8 840.8 1612.3 842.6 1611.5 844.0 1610.0 845.2 1608.4 846.3 1606.8 847.5 1605.1 848.6 1603.5 849.8 1601.8 850.9 1600.2 851.9 1598.5 852.9 1596.7 853.9 1595.0 854.8 1593.2 855.5 1591.3 856.2 1589.4 856.8 1587.5 857.3 1585.6 857.7 1583.6 858.1 1581.7 858.5 1579.7 858.9 1577.7 859.3 1575.8 859.8 1573.8 860.2 1571.8 860.6 1569.9 861.0 1567.9 861.5 1566.0 861.9 1564.0 862.3 1562.0 862.6 1560.1 863.0 1558.1 863.4 1556.1 863.7 1554.2 864.1 1552.2 864.4 1550.2 864.8 1548.2 865.1 1546.3 865.5 1544.3 865.8 1542.3 866.2 1540.3 866.5 1538.4 866.8 1536.4 867.2 1534.4 867.5 1532.4 867.8 1530.4 868.1 1528.5 868.4 1526.5 868.7 1524.5 869.0 1522.5 869.3 1520.5 869.5 1518.5 869.8 1516.6 870.0 1514.6 870.2 1512.6 870.4 1510.6 870.6 1508.6 870.8 1506.6 870.9 1504.6 871.1 1502.6 871.2 1500.6 871.4 1498.6 871.5 1496.6 871.7 1494.6 871.8 1492.6 871.9 1490.6 872.1 1488.6 872.2 1486.6 872.3 1484.6 872.5 1482.6 872.7 1480.6 872.8 1478.6 873.0 1476.6 873.2 1474.6 873.3 1472.6 873.5 1470.6 873.7 1468.6 873.8 1466.6 874.0 1464.6 874.2 1462.6 874.3 1460.6 874.5 1458.6 874.7 1456.6 874.8 1454.6 875.0 1452.6 875.2 1450.6 875.4 1448.6 875.5 1446.6 875.7 1444.6 875.9 1442.6 876.1 1440.6 876.3 1438.6 876.5 1436.6 876.7 1434.7 877.0 1432.7 877.2 1430.7 877.5 1428.7 877.8 1426.7 878.1 1424.7 878.4 1422.7 878.7 1420.8 878.9 1418.8 879.2 1416.8 879.5 1414.8 879.8 1412.8 880.1 1410.8 880.5 1408.9 880.8 1406.9 881.2 1404.9 881.5 1402.9 881.9 1401.0 882.3 1399.0 882.8 1397.1 883.2 1395.1 883.8 1393.2 884.3 1391.3 885.0 1389.3 885.6 1387.5 886.4 1385.6 887.5 1384.0 889.1 1384.8 889.7 1386.6 890.3 1388.6 890.7 1390.5 891.2 1392.5 891.7 1394.4 892.1 1396.4 892.5 1398.4 892.8 1400.3 893.2 1402.3 893.6 1404.3 894.0 1406.2 894.4 1408.2 894.8 1410.2 895.2 1412.1 895.7 1414.1 896.2 1416.0 896.6 1418.0 897.1 1419.9 897.6 1421.9 898.1 1423.8 898.6 1425.8 899.1 1427.7 899.6 1429.6 900.1 1431.6 900.6 1433.5 901.0 1435.5 901.4 1437.4 901.9 1439.4 902.3 1441.4 902.7 1443.3 903.1 1445.3 903.5 1447.2 903.9 1449.2 904.3 1451.2 904.7 1453.1 905.1 1455.1 905.5 1457.1 905.9 1459.0 906.3 1461.0 906.7 1463.0 907.1 1464.9 907.5 1466.9 907.9 1468.8 908.3 1470.8 908.8 1472.8 909.2 1474.7 909.6 1476.7 910.0 1478.6 910.5 1480.6 910.9 1482.6 911.3 1484.5 911.8 1486.5 912.3 1488.4 912.8 1490.4 913.3 1492.3 913.8 1494.2 914.3 1496.2 914.8 1498.1 915.4 1500.0 915.9 1502.0 916.5 1503.9 917.1 1505.8 917.7 1507.7 918.2 1509.6 918.8 1511.6 919.4 1513.5 919.9 1515.4 920.5 1517.3 921.0 1519.3 921.6 1521.2 922.1 1523.1 922.6 1525.1 923.1 1527.0 923.6 1529.0 924.0 1530.9 924.5 1532.9 925.0 1534.8 925.4 1536.8 925.9 1538.7 926.3 1540.7 926.8 1542.6 927.2 1544.6 927.7 1546.5 928.1 1548.5 928.6 1550.4 929.0 1552.4 929.5 1554.3 930.0 1556.3 930.5 1558.2 930.9 1560.2 931.4 1562.1 931.9 1564.1 932.4 1566.0 932.9 1568.0 933.4 1569.9 933.9 1571.8 934.5 1573.8 935.0 1575.7 935.5 1577.6 936.1 1579.6 936.6 1581.5 937.3 1583.4 937.9 1585.3 938.6 1587.2 939.3 1589.1 940.0 1590.9 940.8 1592.8 941.6 1594.6 942.6 1596.3 943.6 1598.1 944.8 1599.7 946.0 1601.3 947.2 1602.9 948.5 1604.4 949.9 1605.9 951.2 1607.4 952.6 1608.8 954.1 1610.2 955.5 1611.6 957.0 1612.9 958.6 1614.2 960.2 1615.4 961.8 1616.5 963.6 1617.5 965.4 1618.3 967.3 1619.1 969.1 1619.9 971.0 1620.6 972.8 1621.5 974.5 1622.5 976.1 1623.7 977.6 1625.1 979.0 1626.5 980.4 1627.9 981.8 1629.3 983.3 1630.7 984.9 1631.9 986.7 1632.9 988.5 1633.6 990.5 1634.1 992.4 1634.5 994.4 1634.7 996.4 1635.0 998.4 1635.3 1000.4 1635.7 1002.3 1636.1 1004.3 1636.5 1006.2 1636.9 1008.2 1637.4 1010.2 1637.8 1012.1 1638.2 1014.1 1638.6 1016.0 1639.1 1018.0 1639.5 1019.9 1640.0 1021.9 1640.5 1023.8 1641.0 1025.7 1641.6 1027.7 1642.1 1029.6 1642.7 1031.5 1643.2 1033.5 1643.7 1035.4 1644.2 1037.4 1644.6 1039.4 1644.9 1041.3 1645.1 1043.4 1645.0 1045.3 1644.8 1047.3 1644.6 1049.3 1644.2 1051.3 1644.0 1053.3 1643.8 1055.3 1643.8 1057.3 1643.9 1059.3 1644.2 1061.2 1644.6 1063.2 1645.1 1065.1 1645.6 1067.0 1646.2 1069.0 1646.8 1070.9 1647.4 1072.8 1648.0 1074.7 1648.7 1076.5 1649.4 1078.4 1650.0 1080.3 1650.7 1082.2 1651.3 1084.2 1651.9" fill="none" stroke="#0000FF" stroke-width="3.0" stroke-linejoin="round" stroke-linecap="round"/>
<path d="M648.4 1642.9 650.4 1643.2 652.3 1643.4 654.3 1643.6 656.3 1643.9 658.3 1644.1 660.3 1644.4 662.3 1644.6 664.3 1644.9 666.2 1645.1 668.2 1645.3 670.2 1645.5 672.2 1645.8 674.2 1646.0 676.2 1646.1 678.2 1646.3 680.2 1646.4 682.2 1646.5 684.2 1646.5 686.2 1646.6 688.2 1646.5 690.2 1646.5 692.2 1646.4 694.2 1646.2 696.2 1646.0 698.2 1645.8 700.1 1645.5 702.1 1645.3 704.1 1645.0 706.1 1644.8 708.1 1644.5 710.1 1644.2 712.0 1643.9 714.0 1643.6 716.0 1643.3 718.0 1642.9 719.9 1642.6 721.9 1642.2 723.9 1641.9 725.9 1641.6 727.8 1641.2 729.8 1640.9 731.8 1640.5 733.7 1640.2 735.7 1639.9 737.7 1639.6 739.7 1639.2 741.6 1638.9 743.6 1638.7 745.6 1638.4 747.6 1638.1 749.6 1637.9 751.6 1637.8 753.6 1637.6 755.6 1637.6 757.6 1637.5 759.6 1637.5 761.6 1637.6 763.6 1637.6 765.6 1637.7 767.6 1637.7 769.6 1637.7 771.6 1637.7 773.6 1637.5 775.6 1637.4 777.5 1637.1 779.5 1636.7 781.4 1636.1 783.3 1635.5 785.2 1634.7 787.0 1633.9 788.8 1633.1 790.6 1632.1 792.4 1631.2 794.1 1630.3 795.9 1629.3 797.7 1628.4 799.5 1627.5 801.3 1626.7 803.2 1626.0 805.1 1625.5 807.1 1625.2 809.1 1625.0 811.1 1624.9 813.1 1624.9 815.1 1624.8 817.1 1624.7 819.0 1624.3 820.9 1623.6 822.6 1622.6 824.2 1621.4 825.7 1620.0 827.0 1618.6 828.3 1617.0 829.5 1615.4 830.7 1613.8 831.9 1612.2 833.1 1610.6 834.3 1609.0 835.6 1607.5 836.8 1605.9 838.0 1604.3 839.0 1602.5 839.9 1600.8 840.8 1599.0 841.7 1597.2 842.5 1595.4 843.3 1593.5 844.1 1591.7 844.9 1589.8 845.6 1588.0 846.4 1586.1 847.1 1584.3 847.9 1582.4 848.6 1580.5 849.3 1578.7 850.0 1576.8 850.7 1574.9 851.5 1573.1 852.2 1571.2 853.0 1569.4 853.7 1567.5 854.5 1565.7 855.2 1563.8 855.8 1561.9 856.4 1560.0 857.0 1558.1 857.5 1556.1 857.9 1554.2 858.3 1552.2 858.7 1550.2 859.0 1548.3 859.3 1546.3 859.7 1544.3 860.0 1542.3 860.2 1540.4 860.5 1538.4 860.8 1536.4 861.1 1534.4 861.3 1532.4 861.6 1530.4 861.8 1528.5 862.0 1526.5 862.3 1524.5 862.5 1522.5 862.7 1520.5 863.0 1518.5 863.2 1516.5 863.4 1514.5 863.6 1512.5 863.8 1510.6 864.1 1508.6 864.3 1506.6 864.5 1504.6 864.6 1502.6 864.8 1500.6 865.0 1498.6 865.1 1496.6 865.3 1494.6 865.4 1492.6 865.6 1490.6 865.7 1488.6 865.8 1486.6 866.0 1484.6 866.1 1482.6 866.2 1480.6 866.4 1478.6 866.5 1476.6 866.7 1474.6 866.8 1472.7 866.9 1470.7 867.1 1468.7 867.3 1466.7 867.4 1464.7 867.6 1462.7 867.8 1460.7 867.9 1458.7 868.1 1456.7 868.3 1454.7 868.4 1452.7 868.6 1450.7 868.8 1448.7 868.9 1446.7 869.1 1444.7 869.3 1442.7 869.4 1440.7 869.6 1438.7 869.7 1436.8 869.8 1434.8 869.9 1432.8 869.9 1430.8 870.0 1428.8 870.2 1426.8 870.3 1424.8 870.5 1422.8 870.7 1420.8 870.9 1418.8 871.1 1416.8 871.2 1414.8 871.4 1412.8 871.6 1410.8 871.8 1408.8 872.1 1406.8 872.3 1404.8 872.5 1402.9 872.8 1400.9 873.0 1398.9 873.3 1396.9 873.6 1394.9 873.9 1393.0 874.2 1391.0 874.5 1389.0 874.8 1387.0 875.1 1385.0 875.5 1383.1 875.8 1381.1 876.1 1379.1 876.5 1377.1 876.8 1375.2 877.1 1373.2 877.5 1371.2 877.8 1369.3 878.2 1367.3 878.6 1365.3 879.0 1363.4 879.5 1361.4 880.1 1359.5 880.7 1357.6 881.5 1355.8 882.5 1354.0 883.8 1352.5 885.5 1352.8 886.3 1354.6 886.9 1356.5 887.4 1358.5 887.8 1360.4 888.2 1362.4 888.6 1364.3 889.0 1366.3 889.4 1368.2 889.9 1370.2 890.6 1372.1 891.4 1373.9 892.0 1375.8 892.5 1377.7 892.9 1379.7 893.3 1381.7 893.6 1383.6 894.0 1385.6 894.3 1387.6 894.6 1389.6 894.9 1391.5 895.2 1393.5 895.6 1395.5 895.9 1397.5 896.3 1399.4 896.6 1401.4 897.0 1403.4 897.4 1405.3 897.9 1407.3 898.4 1409.2 898.8 1411.2 899.3 1413.1 899.8 1415.0 900.3 1417.0 900.7 1418.9 901.2 1420.9 901.6 1422.8 902.0 1424.8 902.4 1426.8 902.8 1428.7 903.2 1430.7 903.6 1432.6 904.0 1434.6 904.3 1436.6 904.7 1438.5 905.0 1440.5 905.4 1442.5 905.7 1444.5 906.1 1446.4 906.4 1448.4 906.7 1450.4 907.1 1452.4 907.4 1454.3 907.7 1456.3 908.1 1458.3 908.4 1460.2 908.7 1462.2 909.1 1464.2 909.4 1466.2 909.8 1468.1 910.1 1470.1 910.5 1472.1 910.8 1474.0 911.2 1476.0 911.6 1478.0 912.0 1479.9 912.4 1481.9 912.8 1483.8 913.2 1485.8 913.7 1487.8 914.1 1489.7 914.6 1491.6 915.1 1493.6 915.5 1495.5 916.0 1497.5 916.5 1499.4 917.0 1501.4 917.5 1503.3 918.0 1505.2 918.5 1507.2 918.9 1509.1 919.4 1511.1 919.9 1513.0 920.4 1515.0 920.8 1516.9 921.3 1518.9 921.7 1520.8 922.2 1522.8 922.6 1524.7 923.1 1526.7 923.5 1528.6 924.0 1530.6 924.4 1532.5 924.9 1534.5 925.3 1536.4 925.8 1538.4 926.2 1540.3 926.7 1542.3 927.1 1544.2 927.6 1546.2 928.0 1548.1 928.5 1550.0 929.0 1552.0 929.4 1553.9 929.9 1555.9 930.4 1557.8 930.8 1559.8 931.3 1561.7 931.8 1563.7 932.3 1565.6 932.8 1567.5 933.3 1569.5 933.8 1571.4 934.3 1573.4 934.8 1575.3 935.3 1577.2 935.8 1579.2 936.3 1581.1 936.8 1583.0 937.4 1585.0 937.9 1586.9 938.5 1588.8 939.2 1590.7 939.8 1592.6 940.5 1594.4 941.4 1596.3 942.3 1598.0 943.5 1599.7 944.8 1601.2 946.2 1602.6 947.6 1603.9 949.3 1605.1 951.0 1606.1 952.7 1607.2 954.3 1608.4 955.7 1609.8 957.1 1611.3 958.3 1612.8 959.5 1614.4 960.8 1616.0 962.1 1617.5 963.5 1618.9 965.1 1620.2 966.8 1621.1 968.7 1621.9 970.6 1622.5 972.4 1623.2 974.2 1624.1 976.0 1625.0 977.7 1626.0 979.5 1627.1 981.2 1628.1 982.9 1629.1 984.6 1630.2 986.3 1631.2 988.0 1632.3 989.7 1633.3 991.4 1634.4 993.1 1635.4 994.8 1636.5 996.4 1637.6 998.1 1638.7 999.8 1639.7 1001.6 1640.7 1003.4 1641.5 1005.2 1642.4 1007.1 1643.2 1008.9 1643.9 1010.8 1644.5 1012.8 1645.0 1014.7 1645.4 1016.7 1645.6 1018.7 1645.8 1020.7 1645.9 1022.7 1645.9 1024.7 1646.0 1026.7 1646.0 1028.7 1646.0 1030.7 1646.0 1032.7 1645.9 1034.7 1645.9 1036.7 1645.9 1038.7 1645.9 1040.7 1646.0 1042.7 1646.2 1044.7 1646.3 1046.7 1646.5 1048.7 1646.6 1050.7 1646.8 1052.7 1647.0 1054.7 1647.3 1056.7 1647.5 1058.6 1647.8 1060.6 1648.1 1062.6 1648.4 1064.6 1648.8 1066.5 1649.2 1068.5 1649.6 1070.4 1650.0 1072.4 1650.4 1074.4 1650.8 1076.3 1651.3 1078.3 1651.7 1080.2 1652.1 1082.2 1652.5 1084.1 1652.9" fill="none" stroke="#00FF00" stroke-width="3.0" stroke-linejoin="round" stroke-linecap="round"/>
<path d="M648.3 1638.1 650.1 1639.0 651.7 1640.2 653.1 1641.7 654.5 1643.1 656.1 1644.3 657.9 1645.1 659.9 1645.3 661.9 1645.1 663.8 1644.6 665.7 1644.1 667.7 1643.5 669.6 1643.0 671.6 1642.6 673.5 1642.1 675.4 1641.7 677.4 1641.2 679.4 1640.9 681.4 1640.6 683.3 1640.4 685.3 1640.3 687.3 1640.3 689.3 1640.3 691.3 1640.3 693.4 1640.3 695.4 1640.4 697.4 1640.4 699.4 1640.5 701.4 1640.6 703.3 1640.8 705.3 1641.0 707.3 1641.3 709.3 1641.6 711.3 1641.9 713.3 1642.0 715.3 1642.0 717.3 1641.9 719.2 1641.5 721.2 1641.1 723.1 1640.5 725.0 1639.8 726.9 1639.1 728.7 1638.4 730.6 1637.6 732.4 1636.9 734.3 1636.1 736.1 1635.4 738.0 1634.6 739.9 1634.0 741.8 1633.4 743.8 1633.0 745.8 1632.9 747.8 1632.9 749.7 1633.3 751.7 1633.8 753.6 1634.2 755.6 1634.5 757.6 1634.9 759.6 1635.3 761.5 1635.6 763.5 1635.8 765.5 1635.7 767.5 1635.5 769.5 1635.1 771.4 1634.5 773.3 1634.0 775.2 1633.3 777.1 1632.7 779.0 1632.0 780.8 1631.3 782.7 1630.5 784.6 1629.8 786.4 1629.0 788.3 1628.3 790.1 1627.4 791.9 1626.6 793.7 1625.7 795.5 1624.9 797.3 1624.0 799.1 1623.1 800.9 1622.2 802.7 1621.3 804.5 1620.5 806.3 1619.7 808.2 1618.9 810.0 1618.1 811.8 1617.2 813.5 1616.2 815.2 1615.1 816.9 1614.0 818.5 1612.8 820.1 1611.6 821.6 1610.3 823.2 1609.0 824.7 1607.7 826.2 1606.4 827.6 1605.0 829.1 1603.6 830.4 1602.1 831.7 1600.6 832.9 1599.0 834.0 1597.3 835.0 1595.6 836.1 1593.9 837.1 1592.2 838.2 1590.5 839.2 1588.8 840.1 1587.0 840.9 1585.2 841.7 1583.3 842.3 1581.4 843.0 1579.5 843.6 1577.6 844.3 1575.7 844.9 1573.8 845.5 1571.9 846.1 1570.0 846.7 1568.1 847.2 1566.2 847.7 1564.2 848.2 1562.3 848.7 1560.3 849.1 1558.4 849.5 1556.4 849.9 1554.5 850.2 1552.5 850.6 1550.5 850.9 1548.5 851.1 1546.6 851.4 1544.6 851.7 1542.6 851.9 1540.6 852.1 1538.6 852.4 1536.6 852.6 1534.6 852.8 1532.6 853.0 1530.7 853.2 1528.7 853.4 1526.7 853.6 1524.7 853.8 1522.7 854.0 1520.7 854.2 1518.7 854.4 1516.7 854.6 1514.7 854.8 1512.7 855.0 1510.7 855.2 1508.7 855.5 1506.8 855.7 1504.8 855.9 1502.8 856.1 1500.8 856.3 1498.8 856.6 1496.8 856.8 1494.8 857.0 1492.8 857.2 1490.8 857.5 1488.9 857.7 1486.9 857.9 1484.9 858.1 1482.9 858.4 1480.9 858.6 1478.9 858.8 1476.9 859.0 1474.9 859.3 1472.9 859.5 1471.0 859.7 1469.0 860.0 1467.0 860.2 1465.0 860.5 1463.0 860.7 1461.0 861.0 1459.0 861.3 1457.1 861.6 1455.1 861.9 1453.1 862.3 1451.1 862.7 1449.2 863.1 1447.2 863.5 1445.3 864.0 1443.3 864.4 1441.3 864.7 1439.4 864.9 1437.4 865.1 1435.4 865.3 1433.4 865.4 1431.4 865.5 1429.4 865.6 1427.4 865.7 1425.4 865.8 1423.4 865.9 1421.4 866.1 1419.4 866.2 1417.4 866.4 1415.4 866.5 1413.4 866.7 1411.4 866.9 1409.4 867.0 1407.4 867.2 1405.4 867.3 1403.4 867.5 1401.4 867.7 1399.5 867.8 1397.5 868.0 1395.5 868.1 1393.5 868.3 1391.5 868.5 1389.5 868.6 1387.5 868.8 1385.5 868.9 1383.5 869.1 1381.5 869.2 1379.5 869.4 1377.5 869.6 1375.5 869.7 1373.5 869.9 1371.5 870.0 1369.5 870.2 1367.5 870.4 1365.5 870.5 1363.5 870.7 1361.5 870.8 1359.5 871.0 1357.5 871.1 1355.6 871.3 1353.6 871.4 1351.6 871.6 1349.6 871.7 1347.6 871.9 1345.6 872.0 1343.6 872.2 1341.6 872.3 1339.6 872.5 1337.6 872.6 1335.6 872.8 1333.6 873.0 1331.6 873.1 1329.6 873.3 1327.6 873.5 1325.6 873.7 1323.6 874.0 1321.6 874.3 1319.7 874.6 1317.7 875.0 1315.7 875.5 1313.8 876.0 1311.9 876.7 1310.0 877.3 1308.1 878.1 1306.2 879.4 1304.7 881.2 1304.6 882.5 1306.1 883.4 1307.9 884.2 1309.7 884.9 1311.6 885.4 1313.6 885.9 1315.5 886.3 1317.5 886.7 1319.4 887.0 1321.4 887.3 1323.4 887.6 1325.4 888.0 1327.3 888.3 1329.3 888.6 1331.3 888.9 1333.3 889.2 1335.3 889.5 1337.2 889.8 1339.2 890.1 1341.2 890.4 1343.2 890.7 1345.1 891.0 1347.1 891.3 1349.1 891.6 1351.1 892.0 1353.1 892.3 1355.0 892.6 1357.0 893.0 1359.0 893.4 1360.9 893.8 1362.9 894.2 1364.9 894.5 1366.8 894.9 1368.8 895.3 1370.7 895.7 1372.7 896.1 1374.7 896.5 1376.6 896.9 1378.6 897.3 1380.6 897.7 1382.5 898.1 1384.5 898.4 1386.5 898.8 1388.4 899.1 1390.4 899.5 1392.4 899.8 1394.3 900.2 1396.3 900.5 1398.3 900.9 1400.3 901.2 1402.2 901.6 1404.2 901.9 1406.2 902.3 1408.1 902.6 1410.1 902.9 1412.1 903.3 1414.1 903.6 1416.0 903.9 1418.0 904.2 1420.0 904.6 1422.0 904.9 1423.9 905.2 1425.9 905.6 1427.9 905.9 1429.9 906.3 1431.8 906.7 1433.8 907.1 1435.7 907.5 1437.7 907.9 1439.7 908.4 1441.6 908.9 1443.6 909.4 1445.5 909.9 1447.4 910.4 1449.4 910.9 1451.3 911.4 1453.2 911.9 1455.2 912.5 1457.1 913.0 1459.0 913.5 1461.0 914.0 1462.9 914.5 1464.8 915.0 1466.8 915.5 1468.7 915.9 1470.7 916.4 1472.6 916.8 1474.6 917.2 1476.5 917.6 1478.5 918.0 1480.5 918.4 1482.4 918.8 1484.4 919.2 1486.3 919.6 1488.3 920.0 1490.3 920.3 1492.2 920.7 1494.2 921.1 1496.2 921.5 1498.1 921.8 1500.1 922.2 1502.1 922.6 1504.0 923.0 1506.0 923.4 1508.0 923.8 1509.9 924.2 1511.9 924.6 1513.9 925.0 1515.8 925.4 1517.8 925.8 1519.7 926.3 1521.7 926.7 1523.6 927.2 1525.6 927.6 1527.5 928.1 1529.5 928.6 1531.4 929.0 1533.4 929.5 1535.3 930.0 1537.3 930.5 1539.2 930.9 1541.1 931.4 1543.1 931.9 1545.0 932.4 1547.0 932.9 1548.9 933.3 1550.9 933.8 1552.8 934.3 1554.7 934.8 1556.7 935.2 1558.6 935.6 1560.6 936.1 1562.6 936.5 1564.5 937.0 1566.5 937.4 1568.4 937.9 1570.4 938.4 1572.3 938.9 1574.2 939.4 1576.2 939.9 1578.1 940.5 1580.0 941.1 1581.9 941.8 1583.8 942.5 1585.7 943.1 1587.6 943.8 1589.4 944.6 1591.3 945.3 1593.2 946.1 1595.0 946.9 1596.9 947.7 1598.7 948.6 1600.5 949.5 1602.3 950.5 1604.0 951.5 1605.7 952.7 1607.4 953.9 1608.9 955.2 1610.4 956.6 1611.9 958.1 1613.2 959.7 1614.4 961.4 1615.5 963.1 1616.6 964.8 1617.7 966.5 1618.6 968.3 1619.5 970.1 1620.3 972.0 1621.0 973.9 1621.7 975.8 1622.4 977.6 1623.1 979.5 1623.9 981.3 1624.7 983.1 1625.6 984.9 1626.4 986.7 1627.3 988.5 1628.2 990.3 1629.1 992.1 1630.0 993.9 1630.8 995.8 1631.6 997.6 1632.4 999.5 1633.1 1001.4 1633.7 1003.3 1634.3 1005.2 1634.8 1007.2 1635.4 1009.1 1635.9 1011.0 1636.4 1013.0 1636.9 1014.9 1637.5 1016.8 1638.0 1018.8 1638.5 1020.7 1639.0 1022.6 1639.6 1024.5 1640.3 1026.3 1641.1 1028.0 1642.1 1029.6 1643.4 1031.2 1644.5 1033.0 1645.4 1035.0 1645.9 1036.9 1646.3 1038.9 1646.5 1040.9 1646.7 1042.9 1646.8 1044.9 1647.0 1046.9 1647.1 1048.9 1647.2 1050.9 1647.4 1052.9 1647.7 1054.9 1648.0 1056.8 1648.2 1058.8 1648.3 1060.8 1647.7 1062.5 1646.8 1064.3 1646.0 1066.3 1646.0 1068.1 1646.8 1069.7 1648.1 1071.2 1649.4 1072.8 1650.6 1074.5 1651.6 1076.3 1652.4 1078.3 1652.9 1080.2 1653.3 1082.2 1653.7 1084.1 1654.1" fill="none" stroke="#FF0000" stroke-width="3.0" stroke-linejoin="round" stroke-linecap="round"/>
<path d="M648.4 1645.2 650.3 1644.9 652.3 1644.4 654.3 1644.1 656.2 1644.0 658.2 1644.2 660.2 1644.7 662.0 1645.5 663.8 1646.3 665.6 1647.2 667.5 1647.9 669.4 1648.5 671.4 1648.8 673.4 1648.7 675.3 1648.2 677.1 1647.4 678.9 1646.4 680.6 1645.3 682.3 1644.3 684.0 1643.3 685.8 1642.5 687.7 1641.9 689.7 1641.5 691.7 1641.4 693.7 1641.4 695.7 1641.5 697.7 1641.6 699.7 1641.8 701.7 1642.0 703.7 1642.2 705.7 1642.3 707.7 1642.3 709.7 1642.3 711.7 1642.3 713.7 1642.3 715.7 1642.3 717.7 1642.2 719.7 1642.1 721.7 1642.0 723.7 1641.8 725.7 1641.6 727.6 1641.2 729.6 1640.9 731.6 1640.5 733.5 1640.1 735.5 1639.6 737.4 1639.2 739.4 1638.7 741.3 1638.3 743.3 1637.9 745.2 1637.4 747.2 1636.9 749.1 1636.4 751.0 1635.9 753.0 1635.7 755.0 1635.7 757.0 1636.1 758.8 1636.9 760.6 1637.7 762.5 1638.5 764.4 1639.1 766.4 1639.3 768.3 1638.7 770.0 1637.7 771.6 1636.5 773.1 1635.2 774.6 1633.8 776.1 1632.5 777.8 1631.4 779.6 1630.8 781.6 1631.0 783.5 1631.7 785.3 1632.5 787.2 1633.1 789.2 1632.9 790.9 1631.9 792.4 1630.6 793.9 1629.2 795.2 1627.8 796.7 1626.4 798.5 1625.5 800.4 1624.9 802.2 1624.1 803.8 1622.8 805.1 1621.3 806.2 1619.7 807.4 1618.0 808.5 1616.4 809.7 1614.8 811.0 1613.3 812.8 1612.3 814.7 1612.5 816.7 1612.4 818.3 1611.3 819.6 1609.8 820.8 1608.1 821.9 1606.5 823.0 1604.8 824.1 1603.1 825.2 1601.5 826.3 1599.8 827.4 1598.1 828.6 1596.5 829.8 1594.9 831.0 1593.3 832.2 1591.7 833.3 1590.1 834.4 1588.4 835.4 1586.7 836.3 1584.9 837.2 1583.1 838.0 1581.2 838.8 1579.4 839.5 1577.5 840.2 1575.7 841.0 1573.8 841.7 1571.9 842.3 1570.0 843.0 1568.2 843.6 1566.3 844.3 1564.4 844.9 1562.5 845.5 1560.5 846.1 1558.6 846.6 1556.7 847.2 1554.8 847.7 1552.9 848.3 1550.9 848.8 1549.0 849.3 1547.1 849.7 1545.1 850.1 1543.1 850.4 1541.2 850.7 1539.2 851.0 1537.2 851.3 1535.2 851.5 1533.2 851.8 1531.3 852.0 1529.3 852.2 1527.3 852.4 1525.3 852.5 1523.3 852.7 1521.3 852.9 1519.3 853.1 1517.3 853.3 1515.3 853.4 1513.3 853.6 1511.3 853.8 1509.3 854.0 1507.3 854.2 1505.4 854.3 1503.4 854.5 1501.4 854.7 1499.4 854.9 1497.4 855.1 1495.4 855.3 1493.4 855.5 1491.4 855.7 1489.4 855.9 1487.4 856.1 1485.4 856.3 1483.4 856.5 1481.5 856.7 1479.5 856.9 1477.5 857.1 1475.5 857.3 1473.5 857.6 1471.5 857.8 1469.5 858.0 1467.5 858.2 1465.5 858.4 1463.5 858.7 1461.6 858.9 1459.6 859.2 1457.6 859.4 1455.6 859.7 1453.6 860.0 1451.6 860.3 1449.7 860.5 1447.7 860.8 1445.7 861.0 1443.7 861.2 1441.7 861.4 1439.7 861.6 1437.7 861.7 1435.7 861.8 1433.7 862.0 1431.7 862.1 1429.7 862.2 1427.7 862.2 1425.7 862.3 1423.7 862.4 1421.7 862.5 1419.7 862.6 1417.7 862.6 1415.7 862.7 1413.7 862.8 1411.7 862.9 1409.7 863.0 1407.7 863.2 1405.7 863.3 1403.7 863.4 1401.8 863.6 1399.8 863.7 1397.8 863.9 1395.8 864.0 1393.8 864.2 1391.8 864.3 1389.8 864.5 1387.8 864.7 1385.8 864.8 1383.8 865.0 1381.8 865.2 1379.8 865.4 1377.8 865.6 1375.8 865.8 1373.8 866.0 1371.8 866.2 1369.9 866.4 1367.9 866.6 1365.9 866.8 1363.9 867.0 1361.9 867.2 1359.9 867.4 1357.9 867.5 1355.9 867.7 1353.9 867.8 1351.9 867.9 1349.9 868.0 1347.9 868.1 1345.9 868.3 1343.9 868.4 1341.9 868.5 1339.9 868.6 1337.9 868.8 1335.9 868.9 1333.9 869.0 1331.9 869.1 1329.9 869.3 1327.9 869.4 1325.9 869.5 1324.0 869.7 1322.0 869.8 1320.0 869.9 1318.0 870.0 1316.0 870.2 1314.0 870.3 1312.0 870.4 1310.0 870.6 1308.0 870.7 1306.0 870.8 1304.0 871.0 1302.0 871.1 1300.0 871.2 1298.0 871.4 1296.0 871.5 1294.0 871.6 1292.0 871.8 1290.0 871.9 1288.0 872.0 1286.0 872.1 1284.0 872.3 1282.0 872.4 1280.0 872.5 1278.0 872.7 1276.0 872.8 1274.0 873.0 1272.0 873.1 1270.0 873.3 1268.0 873.4 1266.0 873.6 1264.1 873.8 1262.1 873.9 1260.1 874.1 1258.1 874.3 1256.1 874.5 1254.1 874.7 1252.1 875.0 1250.1 875.2 1248.1 875.4 1246.1 875.7 1244.2 876.0 1242.2 876.3 1240.2 876.6 1238.2 877.0 1236.3 877.3 1234.3 877.8 1232.3 878.2 1230.4 878.8 1228.5 879.6 1226.6 881.1 1225.6 882.6 1226.8 883.4 1228.6 884.1 1230.5 884.6 1232.4 885.1 1234.4 885.5 1236.4 885.8 1238.3 886.2 1240.3 886.5 1242.3 886.8 1244.2 887.1 1246.2 887.4 1248.2 887.8 1250.2 888.1 1252.2 888.4 1254.1 888.7 1256.1 889.0 1258.1 889.4 1260.1 889.7 1262.0 890.0 1264.0 890.3 1266.0 890.6 1268.0 890.9 1269.9 891.2 1271.9 891.6 1273.9 891.9 1275.9 892.2 1277.8 892.5 1279.8 892.8 1281.8 893.1 1283.8 893.4 1285.7 893.8 1287.7 894.1 1289.7 894.4 1291.7 894.8 1293.6 895.1 1295.6 895.5 1297.6 895.9 1299.5 896.2 1301.5 896.6 1303.5 896.9 1305.5 897.2 1307.4 897.5 1309.4 897.8 1311.4 898.1 1313.4 898.3 1315.4 898.5 1317.3 898.8 1319.3 899.0 1321.3 899.1 1323.3 899.3 1325.3 899.5 1327.3 899.6 1329.3 899.8 1331.3 899.9 1333.3 900.1 1335.3 900.2 1337.3 900.4 1339.3 900.5 1341.3 900.6 1343.3 900.8 1345.3 900.9 1347.3 901.1 1349.3 901.2 1351.3 901.4 1353.3 901.5 1355.3 901.7 1357.2 901.9 1359.2 902.1 1361.2 902.4 1363.2 902.7 1365.2 903.0 1367.2 903.4 1369.1 903.8 1371.1 904.2 1373.0 904.7 1375.0 905.1 1377.0 905.4 1378.9 905.8 1380.9 906.1 1382.9 906.4 1384.8 906.7 1386.8 907.0 1388.8 907.4 1390.8 907.7 1392.7 908.0 1394.7 908.4 1396.7 908.7 1398.7 909.1 1400.6 909.5 1402.6 909.9 1404.5 910.3 1406.5 910.7 1408.5 911.1 1410.4 911.5 1412.4 911.9 1414.4 912.3 1416.3 912.6 1418.3 913.0 1420.3 913.4 1422.2 913.7 1424.2 914.1 1426.2 914.5 1428.1 914.8 1430.1 915.2 1432.1 915.5 1434.0 915.8 1436.0 916.1 1438.0 916.4 1440.0 916.7 1442.0 917.0 1443.9 917.2 1445.9 917.5 1447.9 917.7 1449.9 918.0 1451.9 918.3 1453.9 918.5 1455.8 918.8 1457.8 919.0 1459.8 919.3 1461.8 919.5 1463.8 919.8 1465.8 920.0 1467.8 920.3 1469.7 920.6 1471.7 920.8 1473.7 921.1 1475.7 921.4 1477.7 921.7 1479.6 922.0 1481.6 922.2 1483.6 922.5 1485.6 922.8 1487.6 923.1 1489.6 923.4 1491.5 923.7 1493.5 924.0 1495.5 924.4 1497.5 924.7 1499.4 925.0 1501.4 925.4 1503.4 925.7 1505.3 926.1 1507.3 926.5 1509.3 926.9 1511.2 927.3 1513.2 927.7 1515.2 928.1 1517.1 928.5 1519.1 928.9 1521.0 929.3 1523.0 929.7 1525.0 930.1 1526.9 930.5 1528.9 930.9 1530.8 931.3 1532.8 931.7 1534.8 932.1 1536.7 932.4 1538.7 932.8 1540.7 933.2 1542.6 933.6 1544.6 934.0 1546.6 934.4 1548.5 934.8 1550.5 935.2 1552.4 935.6 1554.4 936.0 1556.4 936.4 1558.3 936.9 1560.3 937.3 1562.2 937.8 1564.2 938.2 1566.1 938.7 1568.0 939.2 1570.0 939.8 1571.9 940.3 1573.8 940.9 1575.7 941.6 1577.6 942.2 1579.5 942.9 1581.4 943.6 1583.3 944.3 1585.2 945.1 1587.0 945.8 1588.9 946.6 1590.7 947.4 1592.6 948.2 1594.4 949.0 1596.2 949.8 1598.0 950.7 1599.9 951.5 1601.6 952.5 1603.4 953.5 1605.1 954.5 1606.9 955.6 1608.6 956.6 1610.3 957.8 1611.9 959.0 1613.4 960.6 1614.7 962.4 1615.4 964.4 1615.4 966.4 1615.0 968.3 1614.7 970.3 1614.5 972.3 1614.4 974.3 1614.3 976.3 1614.6 978.2 1615.2 979.9 1616.3 981.4 1617.6 982.9 1618.9 984.3 1620.4 985.7 1621.8 987.2 1623.1 988.7 1624.4 990.3 1625.7 991.8 1626.9 993.4 1628.1 995.0 1629.3 996.6 1630.5 998.3 1631.7 1000.0 1632.8 1001.6 1633.8 1003.3 1634.9 1005.1 1635.9 1006.8 1636.9 1008.6 1637.8 1010.4 1638.6 1012.4 1639.1 1014.3 1639.6 1016.2 1640.3 1017.9 1641.3 1019.4 1642.6 1020.9 1644.0 1022.3 1645.4 1023.7 1646.8 1025.2 1648.1 1026.8 1649.4 1028.7 1649.9 1030.6 1649.4 1032.4 1648.5 1034.2 1647.7 1036.1 1647.0 1038.1 1646.7 1040.1 1646.6 1042.1 1646.7 1044.1 1646.9 1046.0 1647.2 1048.0 1647.6 1049.9 1648.1 1051.9 1648.6 1053.8 1649.3 1055.6 1650.0 1057.5 1650.8 1059.3 1651.6 1061.1 1652.4 1063.0 1653.1 1064.9 1653.7 1066.8 1654.3 1068.8 1654.8 1070.7 1655.3 1072.6 1655.8 1074.6 1656.3 1076.5 1656.8 1078.4 1657.4 1080.3 1658.0 1082.2 1658.6 1084.2 1659.2" fill="none" stroke="#FF00FF" stroke-width="3.0" stroke-linejoin="round" stroke-linecap="round"/></g>
</svg>
</body></html>
